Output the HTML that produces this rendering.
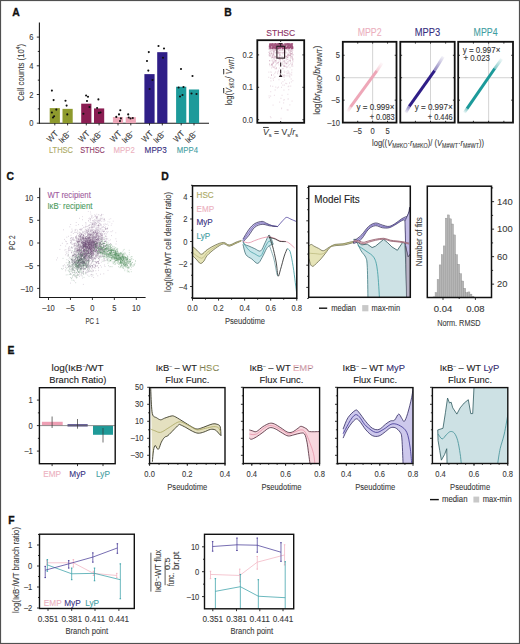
<!DOCTYPE html><html><head><meta charset="utf-8"><style>html,body{margin:0;padding:0;background:#fff;width:520px;height:644px;overflow:hidden}svg text{font-family:"Liberation Sans",sans-serif}</style></head><body><svg width="520" height="644" viewBox="0 0 520 644" style="display:block;font-family:&quot;Liberation Sans&quot;, sans-serif">
<rect x="0" y="0" width="520" height="644" fill="#fff"/>
<text font-size="11.8" text-anchor="start" fill="#111" font-weight="bold" transform="translate(12.20 16.30) scale(0.88 1)" stroke="#111" stroke-width="0.35">A</text>
<line x1="39.40" y1="22.50" x2="39.40" y2="123.70" stroke="#1a1a1a" stroke-width="1.1"/>
<line x1="38.90" y1="123.20" x2="209.00" y2="123.20" stroke="#1a1a1a" stroke-width="1.1"/>
<line x1="36.80" y1="123.20" x2="39.40" y2="123.20" stroke="#1a1a1a" stroke-width="0.9"/>
<text font-size="8.6" text-anchor="end" fill="#3a3a3a" stroke="#3a3a3a" stroke-width="0.1" transform="translate(33.50 126.30) scale(0.88 1)">0</text>
<line x1="37.80" y1="108.85" x2="39.40" y2="108.85" stroke="#1a1a1a" stroke-width="0.9"/>
<line x1="36.80" y1="94.50" x2="39.40" y2="94.50" stroke="#1a1a1a" stroke-width="0.9"/>
<text font-size="8.6" text-anchor="end" fill="#3a3a3a" stroke="#3a3a3a" stroke-width="0.1" transform="translate(33.50 97.60) scale(0.88 1)">2</text>
<line x1="37.80" y1="80.15" x2="39.40" y2="80.15" stroke="#1a1a1a" stroke-width="0.9"/>
<line x1="36.80" y1="65.80" x2="39.40" y2="65.80" stroke="#1a1a1a" stroke-width="0.9"/>
<text font-size="8.6" text-anchor="end" fill="#3a3a3a" stroke="#3a3a3a" stroke-width="0.1" transform="translate(33.50 68.90) scale(0.88 1)">4</text>
<line x1="37.80" y1="51.45" x2="39.40" y2="51.45" stroke="#1a1a1a" stroke-width="0.9"/>
<line x1="36.80" y1="37.10" x2="39.40" y2="37.10" stroke="#1a1a1a" stroke-width="0.9"/>
<text font-size="8.6" text-anchor="end" fill="#3a3a3a" stroke="#3a3a3a" stroke-width="0.1" transform="translate(33.50 40.20) scale(0.88 1)">6</text>
<text font-size="9.24" text-anchor="middle" fill="#3a3a3a" stroke="#3a3a3a" stroke-width="0.1" textLength="57" lengthAdjust="spacingAndGlyphs" transform="translate(23.50 72.50) rotate(-90)">Cell counts (10<tspan font-size="5.5" dy="-3.5">4</tspan><tspan dy="3.5">)</tspan></text>
<rect x="49.70" y="108.13" width="10.20" height="15.07" fill="#8e9a2d" stroke="none" stroke-width="1"/>
<line x1="54.80" y1="123.20" x2="54.80" y2="125.40" stroke="#1a1a1a" stroke-width="0.9"/>
<circle cx="51.9" cy="90.6" r="1.05" fill="#111"/>
<circle cx="53.6" cy="100.1" r="1.05" fill="#111"/>
<circle cx="56.3" cy="109.6" r="1.05" fill="#111"/>
<circle cx="51.9" cy="112.5" r="1.05" fill="#111"/>
<circle cx="54.1" cy="116.2" r="1.05" fill="#111"/>
<circle cx="53" cy="117.5" r="1.05" fill="#111"/>
<rect x="62.50" y="108.85" width="10.20" height="14.35" fill="#8e9a2d" stroke="none" stroke-width="1"/>
<line x1="67.60" y1="123.20" x2="67.60" y2="125.40" stroke="#1a1a1a" stroke-width="0.9"/>
<circle cx="65.5" cy="100.7" r="1.05" fill="#111"/>
<circle cx="66.6" cy="105.6" r="1.05" fill="#111"/>
<circle cx="67.3" cy="114.4" r="1.05" fill="#111"/>
<text font-size="8.6" text-anchor="end" fill="#3a3a3a" stroke="#3a3a3a" stroke-width="0.1" transform="translate(58.80 134.20) rotate(-45) scale(0.9 1)">WT</text>
<text font-size="8.6" text-anchor="end" fill="#3a3a3a" stroke="#3a3a3a" stroke-width="0.1" transform="translate(71.90 134.00) rotate(-45) scale(0.9 1)">I&#954;B<tspan font-size="5.5" dy="-3">&#8211;</tspan></text>
<text font-size="8.7" text-anchor="middle" fill="#aaa862" stroke="#aaa862" stroke-width="0.1" textLength="24" lengthAdjust="spacingAndGlyphs" transform="translate(61.00 153.30)">LTHSC</text>
<rect x="81.20" y="103.68" width="10.20" height="19.52" fill="#8a1d52" stroke="none" stroke-width="1"/>
<line x1="86.30" y1="123.20" x2="86.30" y2="125.40" stroke="#1a1a1a" stroke-width="0.9"/>
<circle cx="86.1" cy="95.5" r="1.05" fill="#111"/>
<circle cx="88" cy="96.8" r="1.05" fill="#111"/>
<circle cx="87" cy="101" r="1.05" fill="#111"/>
<circle cx="83.4" cy="113.8" r="1.05" fill="#111"/>
<circle cx="89.5" cy="107" r="1.05" fill="#111"/>
<rect x="94.00" y="108.42" width="10.20" height="14.78" fill="#8a1d52" stroke="none" stroke-width="1"/>
<line x1="99.10" y1="123.20" x2="99.10" y2="125.40" stroke="#1a1a1a" stroke-width="0.9"/>
<circle cx="98.4" cy="99.4" r="1.05" fill="#111"/>
<circle cx="97.1" cy="108" r="1.05" fill="#111"/>
<circle cx="98.9" cy="112.9" r="1.05" fill="#111"/>
<circle cx="100.5" cy="112.5" r="1.05" fill="#111"/>
<text font-size="8.6" text-anchor="end" fill="#3a3a3a" stroke="#3a3a3a" stroke-width="0.1" transform="translate(90.30 134.20) rotate(-45) scale(0.9 1)">WT</text>
<text font-size="8.6" text-anchor="end" fill="#3a3a3a" stroke="#3a3a3a" stroke-width="0.1" transform="translate(103.40 134.00) rotate(-45) scale(0.9 1)">I&#954;B<tspan font-size="5.5" dy="-3">&#8211;</tspan></text>
<text font-size="8.7" text-anchor="middle" fill="#8f3a68" stroke="#8f3a68" stroke-width="0.1" textLength="24.7" lengthAdjust="spacingAndGlyphs" transform="translate(92.50 153.30)">STHSC</text>
<rect x="112.90" y="117.03" width="10.20" height="6.17" fill="#eea7b8" stroke="none" stroke-width="1"/>
<line x1="118.00" y1="123.20" x2="118.00" y2="125.40" stroke="#1a1a1a" stroke-width="0.9"/>
<circle cx="120.3" cy="110.2" r="1.05" fill="#111"/>
<circle cx="119" cy="114.4" r="1.05" fill="#111"/>
<circle cx="116.3" cy="116.9" r="1.05" fill="#111"/>
<circle cx="120.9" cy="118.4" r="1.05" fill="#111"/>
<circle cx="120" cy="121.1" r="1.05" fill="#111"/>
<rect x="125.70" y="117.17" width="10.20" height="6.03" fill="#eea7b8" stroke="none" stroke-width="1"/>
<line x1="130.80" y1="123.20" x2="130.80" y2="125.40" stroke="#1a1a1a" stroke-width="0.9"/>
<circle cx="128.2" cy="114.4" r="1.05" fill="#111"/>
<circle cx="128.7" cy="117.5" r="1.05" fill="#111"/>
<circle cx="132.8" cy="118" r="1.05" fill="#111"/>
<circle cx="130.5" cy="118.5" r="1.05" fill="#111"/>
<text font-size="8.6" text-anchor="end" fill="#3a3a3a" stroke="#3a3a3a" stroke-width="0.1" transform="translate(122.00 134.20) rotate(-45) scale(0.9 1)">WT</text>
<text font-size="8.6" text-anchor="end" fill="#3a3a3a" stroke="#3a3a3a" stroke-width="0.1" transform="translate(135.10 134.00) rotate(-45) scale(0.9 1)">I&#954;B<tspan font-size="5.5" dy="-3">&#8211;</tspan></text>
<text font-size="8.7" text-anchor="middle" fill="#ecb0be" stroke="#ecb0be" stroke-width="0.1" textLength="21.3" lengthAdjust="spacingAndGlyphs" transform="translate(124.20 153.30)">MPP2</text>
<rect x="144.40" y="74.12" width="10.20" height="49.08" fill="#2f1e87" stroke="none" stroke-width="1"/>
<line x1="149.50" y1="123.20" x2="149.50" y2="125.40" stroke="#1a1a1a" stroke-width="0.9"/>
<circle cx="148.8" cy="52.1" r="1.05" fill="#111"/>
<circle cx="147" cy="61" r="1.05" fill="#111"/>
<circle cx="148.3" cy="70.6" r="1.05" fill="#111"/>
<circle cx="152.5" cy="80" r="1.05" fill="#111"/>
<circle cx="149.6" cy="89" r="1.05" fill="#111"/>
<rect x="157.20" y="52.17" width="10.20" height="71.03" fill="#2f1e87" stroke="none" stroke-width="1"/>
<line x1="162.30" y1="123.20" x2="162.30" y2="125.40" stroke="#1a1a1a" stroke-width="0.9"/>
<circle cx="158.5" cy="46" r="1.05" fill="#111"/>
<circle cx="164" cy="48.5" r="1.05" fill="#111"/>
<circle cx="163" cy="57.7" r="1.05" fill="#111"/>
<text font-size="8.6" text-anchor="end" fill="#3a3a3a" stroke="#3a3a3a" stroke-width="0.1" transform="translate(153.50 134.20) rotate(-45) scale(0.9 1)">WT</text>
<text font-size="8.6" text-anchor="end" fill="#3a3a3a" stroke="#3a3a3a" stroke-width="0.1" transform="translate(166.60 134.00) rotate(-45) scale(0.9 1)">I&#954;B<tspan font-size="5.5" dy="-3">&#8211;</tspan></text>
<text font-size="8.7" text-anchor="middle" fill="#352e80" stroke="#352e80" stroke-width="0.1" textLength="22.2" lengthAdjust="spacingAndGlyphs" transform="translate(155.70 153.30)">MPP3</text>
<rect x="176.10" y="86.75" width="10.20" height="36.45" fill="#1c9a9a" stroke="none" stroke-width="1"/>
<line x1="181.20" y1="123.20" x2="181.20" y2="125.40" stroke="#1a1a1a" stroke-width="0.9"/>
<circle cx="181" cy="69" r="1.05" fill="#111"/>
<circle cx="178.6" cy="87.5" r="1.05" fill="#111"/>
<circle cx="183.5" cy="87" r="1.05" fill="#111"/>
<circle cx="180" cy="96.5" r="1.05" fill="#111"/>
<circle cx="182.5" cy="95" r="1.05" fill="#111"/>
<rect x="188.90" y="89.48" width="10.20" height="33.72" fill="#1c9a9a" stroke="none" stroke-width="1"/>
<line x1="194.00" y1="123.20" x2="194.00" y2="125.40" stroke="#1a1a1a" stroke-width="0.9"/>
<circle cx="192.5" cy="76" r="1.05" fill="#111"/>
<circle cx="191.5" cy="93.5" r="1.05" fill="#111"/>
<circle cx="196.5" cy="94" r="1.05" fill="#111"/>
<text font-size="8.6" text-anchor="end" fill="#3a3a3a" stroke="#3a3a3a" stroke-width="0.1" transform="translate(185.20 134.20) rotate(-45) scale(0.9 1)">WT</text>
<text font-size="8.6" text-anchor="end" fill="#3a3a3a" stroke="#3a3a3a" stroke-width="0.1" transform="translate(198.30 134.00) rotate(-45) scale(0.9 1)">I&#954;B<tspan font-size="5.5" dy="-3">&#8211;</tspan></text>
<text font-size="8.7" text-anchor="middle" fill="#3f9ea2" stroke="#3f9ea2" stroke-width="0.1" textLength="21.1" lengthAdjust="spacingAndGlyphs" transform="translate(187.40 153.30)">MPP4</text>
<text font-size="11.8" text-anchor="start" fill="#111" font-weight="bold" transform="translate(224.20 16.10) scale(0.88 1)" stroke="#111" stroke-width="0.35">B</text>
<text font-size="9.68" text-anchor="middle" fill="#8a2f62" stroke="#8a2f62" stroke-width="0.1" textLength="29" lengthAdjust="spacingAndGlyphs" transform="translate(280.70 35.60)">STHSC</text>
<path d="M289.1 75.8h.9M274.6 76.9h.9M278.9 68.1h.9M281.1 83.1h.9M284.1 58.2h.9M290.0 56.9h.9M274.5 52.3h.9M286.6 57.4h.9M286.7 109.9h.9M290.0 59.9h.9M274.0 60.0h.9M283.8 99.6h.9M284.6 75.6h.9M289.0 64.7h.9M289.4 75.9h.9M286.1 63.5h.9M275.7 68.9h.9M283.6 56.8h.9M290.8 53.6h.9M268.7 55.1h.9M291.2 54.3h.9M271.5 60.5h.9M269.0 52.6h.9M283.8 75.6h.9M286.4 75.9h.9M282.8 53.4h.9M288.4 61.0h.9M290.3 86.2h.9M289.7 53.4h.9M291.6 101.2h.9M273.1 54.3h.9M268.9 54.4h.9M288.3 89.6h.9M288.6 72.1h.9M275.2 72.0h.9M270.4 54.1h.9M273.1 80.3h.9M278.6 59.7h.9M274.4 52.4h.9M285.9 58.6h.9M276.0 61.2h.9M280.6 118.5h.9M283.5 90.1h.9M278.3 52.6h.9M287.3 63.5h.9M285.6 60.5h.9M273.4 67.4h.9M270.3 91.6h.9M272.3 86.3h.9M273.1 52.0h.9M292.4 80.7h.9M280.3 52.1h.9M287.9 65.5h.9M280.4 56.1h.9M288.8 60.5h.9M291.6 58.0h.9M273.4 58.7h.9M280.5 76.0h.9M283.9 54.3h.9M287.7 53.7h.9M287.7 75.9h.9M276.9 71.8h.9M277.9 62.3h.9M270.2 96.2h.9M268.6 95.9h.9M274.6 56.6h.9M280.5 98.3h.9M290.1 61.5h.9M279.5 57.3h.9M286.9 67.2h.9M284.2 80.0h.9M276.2 60.6h.9M289.1 55.4h.9M286.5 73.7h.9M279.0 55.7h.9M282.5 81.7h.9M279.6 54.7h.9M273.9 95.3h.9M275.5 56.3h.9M289.1 76.3h.9M271.9 55.4h.9M276.2 57.7h.9M272.0 66.8h.9M272.7 60.0h.9M270.5 78.1h.9M270.5 117.6h.9M292.6 61.7h.9M286.3 83.7h.9M272.9 63.4h.9M270.7 72.3h.9M277.7 56.6h.9M278.0 52.7h.9M285.3 83.3h.9M283.8 65.9h.9M271.5 64.4h.9M278.1 70.5h.9M290.7 79.0h.9M282.3 63.2h.9M278.5 79.7h.9M286.1 57.2h.9M287.4 94.4h.9M289.3 76.1h.9M284.0 74.8h.9M275.8 64.1h.9M270.4 71.8h.9M287.6 62.9h.9M283.7 77.0h.9M278.6 57.8h.9M283.5 64.1h.9M284.9 62.5h.9M272.6 105.2h.9M287.5 73.3h.9M280.2 61.8h.9M281.6 52.8h.9M287.5 55.5h.9M281.0 108.5h.9M282.4 54.1h.9M285.9 67.6h.9M284.0 66.4h.9M281.0 87.3h.9M291.7 62.6h.9M285.1 56.7h.9M287.1 62.0h.9M292.6 54.6h.9M269.4 60.8h.9M278.0 58.4h.9M278.5 52.3h.9M285.5 62.9h.9M274.6 60.7h.9M286.5 57.1h.9M281.2 108.2h.9M288.0 56.9h.9M273.3 62.0h.9M287.4 54.8h.9M283.9 85.2h.9M282.1 64.7h.9M292.1 57.1h.9M284.0 60.7h.9M288.4 86.2h.9M275.4 64.6h.9M271.1 67.9h.9M276.9 87.9h.9M274.7 90.0h.9M274.3 61.4h.9M272.6 63.1h.9M286.0 52.1h.9M274.1 58.6h.9M280.0 59.2h.9M283.9 63.2h.9M277.1 73.5h.9M289.4 104.8h.9M288.7 53.2h.9M287.6 99.2h.9M288.8 55.0h.9M268.4 72.1h.9M291.8 52.2h.9M274.3 73.3h.9M271.6 54.1h.9M287.4 57.3h.9M271.8 60.5h.9M287.8 98.9h.9M290.3 55.7h.9M287.5 70.7h.9M290.3 74.1h.9M289.0 83.0h.9M285.3 56.4h.9M286.5 67.1h.9M290.1 63.5h.9M274.6 68.2h.9M271.5 57.3h.9M269.5 65.6h.9M271.6 64.6h.9M280.5 65.5h.9M289.6 67.5h.9M289.0 52.1h.9M282.1 64.6h.9M289.0 73.9h.9M278.5 61.4h.9M269.9 116.7h.9M283.9 72.3h.9M283.2 52.6h.9M291.3 75.0h.9M292.5 60.0h.9M280.1 66.3h.9M268.8 97.6h.9M283.6 77.3h.9M289.5 60.3h.9M279.9 61.1h.9M287.3 66.9h.9M278.9 56.7h.9M281.9 63.0h.9M275.3 87.1h.9M278.1 87.2h.9M274.8 66.0h.9M292.4 66.1h.9M287.8 73.3h.9M275.9 60.0h.9M282.7 59.1h.9M287.6 72.1h.9M286.1 52.8h.9M281.6 95.4h.9M275.5 53.0h.9M272.7 52.1h.9M283.2 102.9h.9M287.7 73.5h.9M283.3 100.1h.9M283.7 71.2h.9M282.9 75.8h.9M273.3 74.8h.9M279.4 74.0h.9M270.5 80.8h.9M268.9 56.0h.9M290.9 81.8h.9M277.2 73.3h.9M287.7 86.6h.9M274.5 68.5h.9M278.5 59.2h.9M278.8 59.7h.9M291.3 72.5h.9M282.2 53.1h.9M271.0 52.8h.9M282.4 85.2h.9M279.2 102.2h.9M277.7 52.3h.9M291.4 69.9h.9M278.3 64.9h.9M284.1 54.2h.9M271.8 56.8h.9M268.1 52.3h.9M271.0 75.0h.9M289.7 53.8h.9M268.4 54.8h.9M274.1 77.4h.9M272.7 78.5h.9M287.4 53.0h.9M289.4 77.0h.9M270.1 78.2h.9M285.7 71.8h.9M291.3 64.3h.9M292.1 57.9h.9M268.3 77.3h.9M284.3 52.3h.9M270.0 86.0h.9M286.2 59.5h.9M289.5 55.6h.9M269.5 65.3h.9M282.4 61.2h.9M284.9 63.6h.9M287.9 55.1h.9M284.1 61.0h.9M278.4 71.9h.9M287.7 61.7h.9M287.6 110.0h.9M275.3 68.7h.9" stroke="#8a2a5c" stroke-opacity="0.16" stroke-width="1.3" fill="none"/>
<path d="M279.6 49.2h.9M284.0 66.2h.9M279.9 59.9h.9M274.4 48.6h.9M285.4 66.4h.9M269.0 49.2h.9M284.7 51.1h.9M274.7 50.3h.9M290.7 53.6h.9M269.3 48.5h.9M278.6 49.5h.9M273.3 53.9h.9M286.2 56.6h.9M273.4 51.2h.9M276.0 68.0h.9M274.0 57.3h.9M286.8 48.5h.9M291.3 49.1h.9M273.0 51.1h.9M278.5 48.5h.9M291.3 53.6h.9M277.9 47.9h.9M291.9 48.4h.9M269.7 47.9h.9M277.9 47.4h.9M289.7 60.7h.9M292.4 54.9h.9M276.4 63.1h.9M291.0 48.2h.9M269.3 55.2h.9M277.6 53.6h.9M276.5 49.8h.9M268.6 48.1h.9M276.9 49.0h.9M271.5 65.7h.9M273.5 67.0h.9M288.2 49.6h.9M278.9 57.4h.9M279.9 47.3h.9M290.6 49.8h.9M277.2 48.3h.9M269.2 60.6h.9M288.0 50.2h.9M269.5 55.7h.9M270.0 47.2h.9M274.7 62.2h.9M290.1 55.3h.9M275.0 49.5h.9M283.3 66.0h.9M285.7 48.8h.9M275.1 49.3h.9M286.6 47.0h.9M283.7 61.9h.9M269.1 64.2h.9M279.9 48.6h.9M291.4 65.8h.9M274.5 49.9h.9M280.3 50.4h.9M272.9 62.8h.9M286.2 56.7h.9M287.0 57.4h.9M276.4 52.6h.9M277.2 49.3h.9M270.4 56.1h.9M286.6 48.3h.9M270.1 48.7h.9M281.8 47.2h.9M292.0 49.4h.9M292.2 59.9h.9M270.5 48.8h.9M280.5 47.6h.9M279.2 54.4h.9M278.5 48.6h.9M284.7 52.8h.9M288.8 55.3h.9M271.4 53.6h.9M275.6 58.0h.9M277.5 52.0h.9M273.3 55.0h.9M274.4 48.7h.9M289.7 48.0h.9M276.3 52.2h.9M292.3 50.0h.9M274.1 51.2h.9M284.2 56.9h.9M271.0 75.2h.9M288.2 50.9h.9M290.4 58.0h.9M275.5 47.2h.9M273.0 47.8h.9M282.5 68.7h.9M277.4 63.0h.9M279.3 59.1h.9M287.2 48.8h.9M271.0 64.5h.9M283.4 52.4h.9M277.3 48.5h.9M273.4 47.9h.9M282.9 48.8h.9M273.4 53.3h.9M276.4 47.1h.9M272.9 53.8h.9M273.4 49.2h.9M281.7 56.5h.9M270.9 47.4h.9M281.7 50.0h.9M270.7 53.1h.9M285.2 48.1h.9M275.3 50.2h.9M291.4 49.2h.9M282.1 49.2h.9M278.5 49.7h.9M292.4 59.0h.9M273.2 49.7h.9M273.4 54.8h.9M290.1 47.0h.9M288.2 50.3h.9M289.7 50.1h.9M272.4 50.7h.9M281.7 47.1h.9M290.3 53.1h.9M283.4 47.6h.9M280.6 49.8h.9M275.3 47.9h.9M290.7 51.4h.9M280.3 47.7h.9M291.7 56.8h.9M271.5 48.3h.9M291.9 64.2h.9M269.8 51.0h.9M277.8 62.6h.9M283.4 61.1h.9M272.3 57.4h.9M273.8 56.2h.9M288.8 50.1h.9M272.9 57.6h.9M278.1 48.5h.9M277.7 51.4h.9M274.4 47.8h.9M290.0 54.7h.9M282.0 47.3h.9M269.4 55.5h.9M271.3 57.9h.9M281.7 52.5h.9M275.8 52.9h.9M282.5 50.3h.9M284.3 50.3h.9M279.0 50.6h.9M283.4 47.1h.9M274.1 51.0h.9M287.2 55.7h.9M272.8 50.7h.9M271.1 50.8h.9M278.8 47.8h.9M279.1 47.6h.9M269.5 51.3h.9M270.5 53.1h.9M287.2 54.9h.9M269.8 51.3h.9M277.6 51.2h.9M271.8 65.1h.9M292.4 58.7h.9M288.1 54.9h.9M292.1 48.3h.9M291.5 51.1h.9M272.5 61.9h.9M290.8 56.3h.9M276.9 47.4h.9M272.3 55.5h.9M275.1 60.6h.9M271.9 57.1h.9M290.6 51.2h.9M274.8 48.4h.9M276.2 51.2h.9M272.9 47.2h.9M291.0 48.1h.9M290.0 53.8h.9M287.3 48.1h.9M281.2 47.7h.9M277.1 53.1h.9M281.8 59.4h.9M289.7 52.2h.9M292.3 47.7h.9M278.0 53.0h.9M274.9 56.6h.9M282.4 74.9h.9M286.9 49.7h.9M272.7 50.5h.9M269.7 55.2h.9M274.6 57.3h.9M292.1 53.1h.9M284.4 52.3h.9M268.5 49.2h.9M272.1 47.2h.9M278.9 52.7h.9M290.0 51.3h.9M274.0 47.8h.9M269.0 53.4h.9M277.0 47.0h.9M277.1 47.7h.9M282.5 48.5h.9M273.4 52.3h.9M279.9 52.9h.9M291.0 47.9h.9M272.1 48.7h.9M283.8 47.6h.9M287.3 59.3h.9M274.8 50.1h.9M284.0 47.1h.9M276.9 52.0h.9M279.2 53.2h.9M286.1 63.6h.9M290.2 48.7h.9M281.3 47.3h.9M274.2 50.1h.9M287.2 47.4h.9M281.7 47.1h.9M271.9 64.0h.9M283.1 48.3h.9M283.9 51.2h.9M272.7 57.1h.9M275.7 49.2h.9M289.8 47.3h.9M285.7 56.2h.9M288.8 47.0h.9M279.7 55.2h.9M279.4 55.1h.9M271.0 48.5h.9M269.4 48.6h.9M286.5 49.5h.9" stroke="#8a2a5c" stroke-opacity="0.28" stroke-width="1.3" fill="none"/>
<path d="M272.4 45.2h.9M270.5 46.9h.9M277.5 46.3h.9M280.9 43.9h.9M279.1 43.8h.9M271.0 43.9h.9M288.5 45.7h.9M274.1 44.2h.9M291.4 46.7h.9M278.2 46.5h.9M269.9 48.5h.9M275.7 47.9h.9M271.6 44.3h.9M288.2 45.1h.9M282.6 44.5h.9M277.7 46.8h.9M270.3 46.3h.9M273.7 43.9h.9M279.0 47.0h.9M282.7 45.2h.9M275.9 45.9h.9M285.4 47.6h.9M282.5 44.8h.9M289.6 46.2h.9M275.7 47.2h.9M271.6 48.5h.9M286.8 45.7h.9M280.4 44.4h.9M284.7 43.8h.9M282.4 47.4h.9M276.3 48.0h.9M282.9 47.1h.9M279.7 46.5h.9M291.3 47.8h.9M284.6 46.0h.9M285.5 43.9h.9M292.4 46.8h.9M275.6 47.7h.9M284.7 45.5h.9M279.8 43.7h.9M271.6 44.4h.9M287.1 43.9h.9M274.7 44.2h.9M289.5 45.6h.9M279.5 44.0h.9M289.8 46.3h.9M289.4 47.7h.9M278.7 45.0h.9M289.8 45.4h.9M272.4 48.4h.9M274.3 44.5h.9M280.3 44.8h.9M275.1 46.5h.9M278.8 43.6h.9M282.3 45.4h.9M285.2 48.4h.9M283.5 46.2h.9M270.1 47.0h.9M287.4 48.1h.9M287.8 48.0h.9M278.3 45.6h.9M283.9 44.1h.9M270.4 43.9h.9M272.7 44.6h.9M270.1 45.3h.9M272.4 43.6h.9M277.5 44.1h.9M289.6 43.7h.9M272.3 46.7h.9M277.1 44.9h.9M271.7 45.4h.9M292.4 47.8h.9M280.3 45.9h.9M271.2 44.0h.9M275.1 45.3h.9M272.6 47.7h.9M291.4 43.7h.9M272.3 46.2h.9M269.4 46.3h.9M292.1 46.2h.9M285.4 47.9h.9M277.5 44.9h.9M287.2 44.4h.9M287.3 46.3h.9M274.1 45.2h.9M292.2 47.7h.9M288.0 47.9h.9M286.4 47.7h.9M281.1 44.7h.9M269.5 45.4h.9M275.5 43.7h.9M285.3 44.9h.9M279.4 48.4h.9M292.3 48.3h.9M277.5 48.4h.9M274.2 44.7h.9M273.7 44.6h.9M290.2 46.7h.9M280.2 47.8h.9M287.8 46.9h.9M284.5 44.0h.9M287.4 48.1h.9M280.2 47.4h.9M287.6 44.5h.9M287.9 45.3h.9M278.2 48.5h.9M291.3 45.6h.9M272.8 47.2h.9M272.4 44.2h.9M288.0 48.1h.9M288.5 44.3h.9M284.4 48.5h.9M281.9 45.4h.9M269.1 44.3h.9M284.3 48.5h.9M291.0 46.2h.9M289.5 45.8h.9M273.8 47.7h.9M275.8 44.9h.9M282.8 44.8h.9M278.8 44.9h.9M290.5 44.3h.9M279.7 45.4h.9M290.3 46.5h.9M290.6 45.7h.9M281.5 46.1h.9M269.2 46.2h.9M273.2 45.8h.9M287.8 43.6h.9M280.1 44.5h.9M282.0 47.2h.9M281.1 45.2h.9M287.5 46.4h.9M282.1 44.1h.9M275.4 44.8h.9M280.9 47.5h.9M286.9 46.4h.9M279.3 48.2h.9M280.8 46.7h.9M285.3 46.2h.9M281.5 45.9h.9M291.2 46.0h.9M289.7 47.1h.9M275.0 48.3h.9M291.2 46.4h.9M272.1 47.8h.9M279.3 44.2h.9M274.5 44.0h.9M284.7 44.0h.9M290.1 47.5h.9M285.8 44.4h.9M272.2 46.9h.9M291.8 48.0h.9M291.5 44.7h.9M280.4 45.6h.9M288.6 48.5h.9M279.1 44.4h.9M276.9 46.2h.9M276.4 44.6h.9M269.3 47.2h.9M279.3 46.4h.9M276.7 43.7h.9M281.0 46.7h.9M292.2 43.9h.9M291.9 47.5h.9M275.1 44.1h.9M287.3 43.8h.9M271.9 45.0h.9M290.5 45.7h.9M275.0 47.7h.9M290.7 44.3h.9M285.5 46.5h.9M270.2 44.0h.9M278.9 47.0h.9M291.1 44.0h.9M287.9 46.8h.9M289.2 44.0h.9M289.3 43.9h.9M276.9 45.9h.9M290.9 46.4h.9M271.9 44.9h.9M274.5 46.2h.9M272.6 44.1h.9M273.6 43.9h.9M276.1 45.2h.9M275.7 47.4h.9M273.0 46.1h.9M269.2 45.3h.9M269.2 44.9h.9M281.9 47.3h.9M280.1 44.5h.9M271.3 48.3h.9M279.1 47.7h.9M288.7 46.1h.9M280.9 45.6h.9M292.2 47.0h.9M288.6 45.3h.9M283.9 47.1h.9M277.1 45.6h.9M271.9 43.9h.9M286.4 44.0h.9M272.7 44.9h.9M288.8 44.0h.9M284.8 48.0h.9M274.6 45.0h.9M279.7 45.1h.9M279.4 44.4h.9M291.7 44.9h.9M281.8 48.5h.9M291.8 44.8h.9M277.3 45.1h.9M277.9 43.6h.9M280.8 46.0h.9M280.8 44.6h.9M275.1 43.6h.9M278.3 44.0h.9M269.3 43.8h.9M274.3 45.1h.9M281.4 46.5h.9M284.4 47.4h.9M289.7 47.2h.9M276.6 45.5h.9M272.4 48.5h.9M284.1 47.2h.9M288.7 43.8h.9M283.7 48.1h.9M288.1 47.3h.9M281.3 44.3h.9M288.7 46.1h.9M288.5 47.6h.9M290.0 46.5h.9M285.3 47.0h.9M269.5 44.7h.9M277.4 44.3h.9M288.7 44.1h.9M283.7 46.4h.9M285.0 46.7h.9M268.9 46.0h.9M286.6 47.6h.9M281.5 46.1h.9M270.4 46.9h.9M274.8 47.3h.9M275.1 44.0h.9M273.7 47.2h.9M292.0 47.3h.9M277.9 46.1h.9M285.1 46.0h.9M283.5 47.4h.9M270.6 46.8h.9M274.8 44.3h.9M276.0 47.3h.9M269.1 46.4h.9M275.2 43.9h.9M285.3 47.0h.9M275.7 47.0h.9M279.9 46.2h.9M271.6 45.9h.9M273.5 48.1h.9M291.1 48.5h.9M279.7 43.7h.9M291.8 47.7h.9M275.2 45.8h.9M291.3 44.6h.9M282.6 44.7h.9M281.3 44.3h.9M272.0 48.4h.9M280.9 47.7h.9M285.5 48.0h.9M290.2 44.8h.9M269.4 46.0h.9M280.5 43.6h.9M276.0 45.9h.9M277.0 44.3h.9M288.8 45.2h.9M286.7 43.6h.9M271.7 47.8h.9M285.8 48.2h.9M275.7 48.1h.9M278.2 45.5h.9M282.8 48.6h.9M279.0 45.4h.9M269.9 45.0h.9M288.7 44.1h.9M291.1 45.0h.9M275.1 44.8h.9M273.3 46.2h.9M291.6 45.5h.9M288.1 48.0h.9M290.5 46.8h.9M281.9 48.3h.9M270.0 47.2h.9M279.5 47.3h.9M284.1 47.4h.9M270.0 45.0h.9M271.8 48.2h.9M277.0 46.0h.9M286.4 45.1h.9M275.0 48.5h.9M276.0 46.9h.9M278.2 46.4h.9M272.6 44.4h.9M290.4 44.6h.9M274.0 46.1h.9M292.5 48.1h.9M272.1 45.8h.9M271.0 44.6h.9M271.0 45.3h.9M274.9 44.8h.9M289.9 46.4h.9M278.6 47.3h.9M281.3 45.7h.9M276.8 45.5h.9M275.4 43.9h.9M271.8 48.4h.9M283.8 46.1h.9M273.9 47.9h.9M274.7 45.0h.9M279.4 45.6h.9M289.0 48.4h.9M269.3 48.0h.9M285.7 43.8h.9M280.1 48.1h.9M268.8 46.5h.9M290.9 45.6h.9M289.2 47.7h.9M274.7 48.5h.9M272.5 44.1h.9M285.0 46.2h.9M286.0 48.3h.9M287.0 46.8h.9M281.9 45.9h.9M287.4 43.8h.9M290.7 44.8h.9M276.0 46.8h.9M274.8 44.2h.9M285.4 46.8h.9M270.5 44.2h.9M282.7 46.2h.9M274.1 45.5h.9M269.0 46.6h.9" stroke="#8a2a5c" stroke-opacity="0.8" stroke-width="1.3" fill="none"/>
<rect x="276.90" y="46.30" width="7.70" height="11.80" fill="none" stroke="#2a1a22" stroke-width="1.15"/>
<line x1="280.65" y1="43.60" x2="280.65" y2="46.30" stroke="#2a1a22" stroke-width="1"/>
<line x1="278.80" y1="43.60" x2="282.50" y2="43.60" stroke="#2a1a22" stroke-width="1"/>
<line x1="280.65" y1="62.5" x2="280.65" y2="74" stroke="#2a1a22" stroke-width="1.1" stroke-dasharray="4,3"/>
<path d="M278.8,77 L282.5,77 L280.65,74 Z" fill="#2a1a22"/>
<rect x="257.30" y="40.20" width="46.90" height="82.60" fill="none" stroke="#111" stroke-width="1.8"/>
<line x1="257.30" y1="119.70" x2="259.10" y2="119.70" stroke="#1a1a1a" stroke-width="0.9"/>
<line x1="302.40" y1="119.70" x2="304.20" y2="119.70" stroke="#1a1a1a" stroke-width="0.9"/>
<text font-size="8.6" text-anchor="end" fill="#3a3a3a" stroke="#3a3a3a" stroke-width="0.1" transform="translate(253.00 122.80) scale(0.88 1)">0.0</text>
<line x1="257.30" y1="87.30" x2="259.10" y2="87.30" stroke="#1a1a1a" stroke-width="0.9"/>
<line x1="302.40" y1="87.30" x2="304.20" y2="87.30" stroke="#1a1a1a" stroke-width="0.9"/>
<text font-size="8.6" text-anchor="end" fill="#3a3a3a" stroke="#3a3a3a" stroke-width="0.1" transform="translate(253.00 90.40) scale(0.88 1)">0.1</text>
<line x1="257.30" y1="54.90" x2="259.10" y2="54.90" stroke="#1a1a1a" stroke-width="0.9"/>
<line x1="302.40" y1="54.90" x2="304.20" y2="54.90" stroke="#1a1a1a" stroke-width="0.9"/>
<text font-size="8.6" text-anchor="end" fill="#3a3a3a" stroke="#3a3a3a" stroke-width="0.1" transform="translate(253.00 58.00) scale(0.88 1)">0.2</text>
<line x1="280.65" y1="40.20" x2="280.65" y2="42.00" stroke="#1a1a1a" stroke-width="0.9"/>
<line x1="280.65" y1="121.00" x2="280.65" y2="122.80" stroke="#1a1a1a" stroke-width="0.9"/>
<text font-size="9.46" text-anchor="middle" fill="#3a3a3a" stroke="#3a3a3a" stroke-width="0.1" textLength="49" lengthAdjust="spacingAndGlyphs" transform="translate(232.20 81.00) rotate(-90)">log(<tspan text-decoration="overline" font-style="italic">V</tspan><tspan font-size="6.4" dy="2">sKO</tspan><tspan dy="-2">/ </tspan><tspan text-decoration="overline" font-style="italic">V</tspan><tspan font-size="6.4" dy="2">sWT</tspan><tspan dy="-2">)</tspan></text>
<text font-size="9.24" text-anchor="middle" fill="#3a3a3a" stroke="#3a3a3a" stroke-width="0.1" textLength="35" lengthAdjust="spacingAndGlyphs" transform="translate(280.50 135.00)"><tspan text-decoration="overline" font-style="italic">V</tspan><tspan font-size="6" dy="2">s</tspan><tspan dy="-2"> = V</tspan><tspan font-size="6" dy="2">s</tspan><tspan dy="-2">/</tspan><tspan font-style="italic">r</tspan><tspan font-size="6" dy="2">s</tspan></text>
<text font-size="10.56" text-anchor="middle" fill="#ecb0be" stroke="#ecb0be" stroke-width="0.1" textLength="24" lengthAdjust="spacingAndGlyphs" transform="translate(369.65 35.60)">MPP2</text>
<line x1="372.63" y1="41.80" x2="372.63" y2="122.60" stroke="#c8c8c8" stroke-width="0.8"/>
<line x1="342.80" y1="77.71" x2="396.50" y2="77.71" stroke="#c8c8c8" stroke-width="0.8"/>
<linearGradient id="gMPP2a" gradientUnits="userSpaceOnUse" x1="376.81" y1="70.98" x2="382.18" y2="62.90"><stop offset="0" stop-color="#eea7b8" stop-opacity="0.55"/><stop offset="1" stop-color="#eea7b8" stop-opacity="0.05"/></linearGradient>
<linearGradient id="gMPP2b" gradientUnits="userSpaceOnUse" x1="350.56" y1="106.89" x2="347.57" y2="111.83"><stop offset="0" stop-color="#eea7b8" stop-opacity="0.55"/><stop offset="1" stop-color="#eea7b8" stop-opacity="0.05"/></linearGradient>
<line x1="376.81" y1="70.98" x2="382.18" y2="62.90" stroke="url(#gMPP2a)" stroke-width="3"/>
<line x1="350.56" y1="106.89" x2="347.57" y2="111.83" stroke="url(#gMPP2b)" stroke-width="3"/>
<line x1="350.56" y1="106.89" x2="376.81" y2="70.98" stroke="#eea7b8" stroke-width="3"/>
<rect x="342.80" y="41.80" width="53.70" height="80.80" fill="none" stroke="#111" stroke-width="1.8"/>
<line x1="357.72" y1="41.80" x2="357.72" y2="43.60" stroke="#1a1a1a" stroke-width="0.9"/>
<line x1="357.72" y1="120.80" x2="357.72" y2="122.60" stroke="#1a1a1a" stroke-width="0.9"/>
<line x1="342.80" y1="100.16" x2="344.60" y2="100.16" stroke="#1a1a1a" stroke-width="0.9"/>
<line x1="394.70" y1="100.16" x2="396.50" y2="100.16" stroke="#1a1a1a" stroke-width="0.9"/>
<line x1="372.63" y1="41.80" x2="372.63" y2="43.60" stroke="#1a1a1a" stroke-width="0.9"/>
<line x1="372.63" y1="120.80" x2="372.63" y2="122.60" stroke="#1a1a1a" stroke-width="0.9"/>
<line x1="342.80" y1="77.71" x2="344.60" y2="77.71" stroke="#1a1a1a" stroke-width="0.9"/>
<line x1="394.70" y1="77.71" x2="396.50" y2="77.71" stroke="#1a1a1a" stroke-width="0.9"/>
<line x1="387.55" y1="41.80" x2="387.55" y2="43.60" stroke="#1a1a1a" stroke-width="0.9"/>
<line x1="387.55" y1="120.80" x2="387.55" y2="122.60" stroke="#1a1a1a" stroke-width="0.9"/>
<line x1="342.80" y1="55.27" x2="344.60" y2="55.27" stroke="#1a1a1a" stroke-width="0.9"/>
<line x1="394.70" y1="55.27" x2="396.50" y2="55.27" stroke="#1a1a1a" stroke-width="0.9"/>
<text font-size="9.24" text-anchor="end" fill="#333" stroke="#333" stroke-width="0.1" transform="translate(394.50 110.20) scale(0.87 1)">y = 0.999&#215;</text>
<text font-size="8.4" text-anchor="end" fill="#333" stroke="#333" stroke-width="0.1" transform="translate(394.50 119.60) scale(0.88 1)">+ 0.083</text>
<text font-size="10.56" text-anchor="middle" fill="#352e80" stroke="#352e80" stroke-width="0.1" textLength="25.4" lengthAdjust="spacingAndGlyphs" transform="translate(427.50 35.60)">MPP3</text>
<line x1="430.52" y1="41.80" x2="430.52" y2="122.60" stroke="#c8c8c8" stroke-width="0.8"/>
<line x1="400.30" y1="77.71" x2="454.70" y2="77.71" stroke="#c8c8c8" stroke-width="0.8"/>
<linearGradient id="gMPP3a" gradientUnits="userSpaceOnUse" x1="434.60" y1="70.53" x2="443.22" y2="56.61"><stop offset="0" stop-color="#2f1e87" stop-opacity="0.55"/><stop offset="1" stop-color="#2f1e87" stop-opacity="0.05"/></linearGradient>
<linearGradient id="gMPP3b" gradientUnits="userSpaceOnUse" x1="409.22" y1="106.44" x2="405.74" y2="112.72"><stop offset="0" stop-color="#2f1e87" stop-opacity="0.55"/><stop offset="1" stop-color="#2f1e87" stop-opacity="0.05"/></linearGradient>
<line x1="434.60" y1="70.53" x2="443.22" y2="56.61" stroke="url(#gMPP3a)" stroke-width="3"/>
<line x1="409.22" y1="106.44" x2="405.74" y2="112.72" stroke="url(#gMPP3b)" stroke-width="3"/>
<line x1="409.22" y1="106.44" x2="434.60" y2="70.53" stroke="#2f1e87" stroke-width="3"/>
<rect x="400.30" y="41.80" width="54.40" height="80.80" fill="none" stroke="#111" stroke-width="1.8"/>
<line x1="415.41" y1="41.80" x2="415.41" y2="43.60" stroke="#1a1a1a" stroke-width="0.9"/>
<line x1="415.41" y1="120.80" x2="415.41" y2="122.60" stroke="#1a1a1a" stroke-width="0.9"/>
<line x1="400.30" y1="100.16" x2="402.10" y2="100.16" stroke="#1a1a1a" stroke-width="0.9"/>
<line x1="452.90" y1="100.16" x2="454.70" y2="100.16" stroke="#1a1a1a" stroke-width="0.9"/>
<line x1="430.52" y1="41.80" x2="430.52" y2="43.60" stroke="#1a1a1a" stroke-width="0.9"/>
<line x1="430.52" y1="120.80" x2="430.52" y2="122.60" stroke="#1a1a1a" stroke-width="0.9"/>
<line x1="400.30" y1="77.71" x2="402.10" y2="77.71" stroke="#1a1a1a" stroke-width="0.9"/>
<line x1="452.90" y1="77.71" x2="454.70" y2="77.71" stroke="#1a1a1a" stroke-width="0.9"/>
<line x1="445.63" y1="41.80" x2="445.63" y2="43.60" stroke="#1a1a1a" stroke-width="0.9"/>
<line x1="445.63" y1="120.80" x2="445.63" y2="122.60" stroke="#1a1a1a" stroke-width="0.9"/>
<line x1="400.30" y1="55.27" x2="402.10" y2="55.27" stroke="#1a1a1a" stroke-width="0.9"/>
<line x1="452.90" y1="55.27" x2="454.70" y2="55.27" stroke="#1a1a1a" stroke-width="0.9"/>
<text font-size="9.24" text-anchor="end" fill="#333" stroke="#333" stroke-width="0.1" transform="translate(452.70 110.20) scale(0.87 1)">y = 0.997&#215;</text>
<text font-size="8.4" text-anchor="end" fill="#333" stroke="#333" stroke-width="0.1" transform="translate(452.70 119.60) scale(0.88 1)">+ 0.446</text>
<text font-size="10.56" text-anchor="middle" fill="#3f9ea2" stroke="#3f9ea2" stroke-width="0.1" textLength="24" lengthAdjust="spacingAndGlyphs" transform="translate(485.60 35.60)">MPP4</text>
<line x1="488.64" y1="41.80" x2="488.64" y2="122.60" stroke="#c8c8c8" stroke-width="0.8"/>
<line x1="458.20" y1="77.71" x2="513.00" y2="77.71" stroke="#c8c8c8" stroke-width="0.8"/>
<linearGradient id="gMPP4a" gradientUnits="userSpaceOnUse" x1="494.73" y1="68.51" x2="501.74" y2="58.86"><stop offset="0" stop-color="#1c9a9a" stop-opacity="0.55"/><stop offset="1" stop-color="#1c9a9a" stop-opacity="0.05"/></linearGradient>
<linearGradient id="gMPP4b" gradientUnits="userSpaceOnUse" x1="467.03" y1="108.68" x2="464.29" y2="112.72"><stop offset="0" stop-color="#1c9a9a" stop-opacity="0.55"/><stop offset="1" stop-color="#1c9a9a" stop-opacity="0.05"/></linearGradient>
<line x1="494.73" y1="68.51" x2="501.74" y2="58.86" stroke="url(#gMPP4a)" stroke-width="3"/>
<line x1="467.03" y1="108.68" x2="464.29" y2="112.72" stroke="url(#gMPP4b)" stroke-width="3"/>
<line x1="467.03" y1="108.68" x2="494.73" y2="68.51" stroke="#1c9a9a" stroke-width="3"/>
<rect x="458.20" y="41.80" width="54.80" height="80.80" fill="none" stroke="#111" stroke-width="1.8"/>
<line x1="473.42" y1="41.80" x2="473.42" y2="43.60" stroke="#1a1a1a" stroke-width="0.9"/>
<line x1="473.42" y1="120.80" x2="473.42" y2="122.60" stroke="#1a1a1a" stroke-width="0.9"/>
<line x1="458.20" y1="100.16" x2="460.00" y2="100.16" stroke="#1a1a1a" stroke-width="0.9"/>
<line x1="511.20" y1="100.16" x2="513.00" y2="100.16" stroke="#1a1a1a" stroke-width="0.9"/>
<line x1="488.64" y1="41.80" x2="488.64" y2="43.60" stroke="#1a1a1a" stroke-width="0.9"/>
<line x1="488.64" y1="120.80" x2="488.64" y2="122.60" stroke="#1a1a1a" stroke-width="0.9"/>
<line x1="458.20" y1="77.71" x2="460.00" y2="77.71" stroke="#1a1a1a" stroke-width="0.9"/>
<line x1="511.20" y1="77.71" x2="513.00" y2="77.71" stroke="#1a1a1a" stroke-width="0.9"/>
<line x1="503.87" y1="41.80" x2="503.87" y2="43.60" stroke="#1a1a1a" stroke-width="0.9"/>
<line x1="503.87" y1="120.80" x2="503.87" y2="122.60" stroke="#1a1a1a" stroke-width="0.9"/>
<line x1="458.20" y1="55.27" x2="460.00" y2="55.27" stroke="#1a1a1a" stroke-width="0.9"/>
<line x1="511.20" y1="55.27" x2="513.00" y2="55.27" stroke="#1a1a1a" stroke-width="0.9"/>
<text font-size="9.46" text-anchor="start" fill="#333" stroke="#333" stroke-width="0.1" textLength="37.7" lengthAdjust="spacingAndGlyphs" transform="translate(462.70 52.80)">y = 0.997&#215;</text>
<text font-size="8.6" text-anchor="start" fill="#333" stroke="#333" stroke-width="0.1" textLength="26.5" lengthAdjust="spacingAndGlyphs" transform="translate(463.40 60.90)">+ 0.023</text>
<text font-size="8.6" text-anchor="end" fill="#3a3a3a" stroke="#3a3a3a" stroke-width="0.1" transform="translate(340.00 58.37) scale(0.88 1)">5</text>
<text font-size="8.6" text-anchor="end" fill="#3a3a3a" stroke="#3a3a3a" stroke-width="0.1" transform="translate(340.00 80.81) scale(0.88 1)">0</text>
<text font-size="8.6" text-anchor="end" fill="#3a3a3a" stroke="#3a3a3a" stroke-width="0.1" transform="translate(340.00 103.26) scale(0.88 1)">&#8211;5</text>
<text font-size="8.6" text-anchor="end" fill="#3a3a3a" stroke="#3a3a3a" stroke-width="0.1" transform="translate(340.00 125.70) scale(0.88 1)">&#8211;10</text>
<text font-size="8.6" text-anchor="middle" fill="#3a3a3a" stroke="#3a3a3a" stroke-width="0.1" transform="translate(357.72 133.60) scale(0.88 1)">&#8211;5</text>
<text font-size="8.6" text-anchor="middle" fill="#3a3a3a" stroke="#3a3a3a" stroke-width="0.1" transform="translate(372.63 133.60) scale(0.88 1)">0</text>
<text font-size="8.6" text-anchor="middle" fill="#3a3a3a" stroke="#3a3a3a" stroke-width="0.1" transform="translate(387.55 133.60) scale(0.88 1)">5</text>
<text font-size="9.24" text-anchor="middle" fill="#3a3a3a" stroke="#3a3a3a" stroke-width="0.1" textLength="69" lengthAdjust="spacingAndGlyphs" transform="translate(320.30 80.20) rotate(-90)">log(<tspan font-style="italic">br</tspan><tspan font-size="6.6" dy="2">M#KO</tspan><tspan dy="-2">/</tspan><tspan font-style="italic">br</tspan><tspan font-size="6.6" dy="2">M#WT</tspan><tspan dy="-2">)</tspan></text>
<text font-size="9.24" text-anchor="start" fill="#3a3a3a" stroke="#3a3a3a" stroke-width="0.1" textLength="112" lengthAdjust="spacingAndGlyphs" transform="translate(372.00 145.50)">log((<tspan font-style="italic">V</tspan><tspan font-size="6.6" dy="2">M#KO</tspan><tspan dy="-2">&#183;</tspan><tspan font-style="italic">r</tspan><tspan font-size="6.6" dy="2">M#KO</tspan><tspan dy="-2">)/ (</tspan><tspan font-style="italic">V</tspan><tspan font-size="6.6" dy="2">M#WT</tspan><tspan dy="-2">&#183;</tspan><tspan font-style="italic">r</tspan><tspan font-size="6.6" dy="2">M#WT</tspan><tspan dy="-2">))</tspan></text>
<text font-size="11.8" text-anchor="start" fill="#111" font-weight="bold" transform="translate(6.60 180.10) scale(0.88 1)" stroke="#111" stroke-width="0.35">C</text>
<line x1="39.70" y1="187.80" x2="39.70" y2="298.00" stroke="#1a1a1a" stroke-width="1.1"/>
<line x1="39.20" y1="297.50" x2="145.60" y2="297.50" stroke="#1a1a1a" stroke-width="1.1"/>
<line x1="37.20" y1="288.40" x2="39.70" y2="288.40" stroke="#1a1a1a" stroke-width="0.9"/>
<text font-size="8.6" text-anchor="end" fill="#3a3a3a" stroke="#3a3a3a" stroke-width="0.1" transform="translate(33.30 291.50) scale(0.88 1)">&#8211;10</text>
<line x1="48.50" y1="297.50" x2="48.50" y2="300.00" stroke="#1a1a1a" stroke-width="0.9"/>
<text font-size="8.6" text-anchor="middle" fill="#3a3a3a" stroke="#3a3a3a" stroke-width="0.1" transform="translate(48.50 310.60) scale(0.88 1)">&#8211;10</text>
<line x1="37.20" y1="265.70" x2="39.70" y2="265.70" stroke="#1a1a1a" stroke-width="0.9"/>
<text font-size="8.6" text-anchor="end" fill="#3a3a3a" stroke="#3a3a3a" stroke-width="0.1" transform="translate(33.30 268.80) scale(0.88 1)">&#8211;5</text>
<line x1="70.45" y1="297.50" x2="70.45" y2="300.00" stroke="#1a1a1a" stroke-width="0.9"/>
<text font-size="8.6" text-anchor="middle" fill="#3a3a3a" stroke="#3a3a3a" stroke-width="0.1" transform="translate(70.45 310.60) scale(0.88 1)">&#8211;5</text>
<line x1="37.20" y1="243.00" x2="39.70" y2="243.00" stroke="#1a1a1a" stroke-width="0.9"/>
<text font-size="8.6" text-anchor="end" fill="#3a3a3a" stroke="#3a3a3a" stroke-width="0.1" transform="translate(33.30 246.10) scale(0.88 1)">0</text>
<line x1="92.40" y1="297.50" x2="92.40" y2="300.00" stroke="#1a1a1a" stroke-width="0.9"/>
<text font-size="8.6" text-anchor="middle" fill="#3a3a3a" stroke="#3a3a3a" stroke-width="0.1" transform="translate(92.40 310.60) scale(0.88 1)">0</text>
<line x1="37.20" y1="220.30" x2="39.70" y2="220.30" stroke="#1a1a1a" stroke-width="0.9"/>
<text font-size="8.6" text-anchor="end" fill="#3a3a3a" stroke="#3a3a3a" stroke-width="0.1" transform="translate(33.30 223.40) scale(0.88 1)">5</text>
<line x1="114.35" y1="297.50" x2="114.35" y2="300.00" stroke="#1a1a1a" stroke-width="0.9"/>
<text font-size="8.6" text-anchor="middle" fill="#3a3a3a" stroke="#3a3a3a" stroke-width="0.1" transform="translate(114.35 310.60) scale(0.88 1)">5</text>
<line x1="37.20" y1="197.60" x2="39.70" y2="197.60" stroke="#1a1a1a" stroke-width="0.9"/>
<text font-size="8.6" text-anchor="end" fill="#3a3a3a" stroke="#3a3a3a" stroke-width="0.1" transform="translate(33.30 200.70) scale(0.88 1)">10</text>
<line x1="136.30" y1="297.50" x2="136.30" y2="300.00" stroke="#1a1a1a" stroke-width="0.9"/>
<text font-size="8.6" text-anchor="middle" fill="#3a3a3a" stroke="#3a3a3a" stroke-width="0.1" transform="translate(136.30 310.60) scale(0.88 1)">10</text>
<text font-size="9.46" text-anchor="middle" fill="#3a3a3a" stroke="#3a3a3a" stroke-width="0.1" textLength="13.7" lengthAdjust="spacingAndGlyphs" transform="translate(92.30 323.60)">PC 1</text>
<text font-size="9.46" text-anchor="middle" fill="#3a3a3a" stroke="#3a3a3a" stroke-width="0.1" textLength="14.5" lengthAdjust="spacingAndGlyphs" transform="translate(14.60 242.70) rotate(-90)">PC 2</text>
<text font-size="9.02" text-anchor="start" fill="#a05a9e" stroke="#a05a9e" stroke-width="0.1" textLength="43.4" lengthAdjust="spacingAndGlyphs" transform="translate(47.40 198.20)">WT recipient</text>
<text font-size="9.02" text-anchor="start" fill="#4a9a5c" stroke="#4a9a5c" stroke-width="0.1" textLength="45" lengthAdjust="spacingAndGlyphs" transform="translate(47.40 209.40)">I&#954;B<tspan font-size="5" dy="-3">&#8211;</tspan><tspan dy="3"> recipient</tspan></text>
<path d="M111.1 235.6h.8M83.0 266.4h.8M81.8 236.8h.8M105.2 248.9h.8M81.6 253.7h.8M70.6 240.7h.8M78.0 238.4h.8M72.3 262.3h.8M90.7 255.3h.8M95.2 247.2h.8M77.2 242.9h.8M95.8 266.3h.8M104.8 241.3h.8M95.0 265.8h.8M81.4 252.2h.8M97.9 261.5h.8M79.9 269.1h.8M85.8 244.8h.8M72.5 255.5h.8M92.7 231.7h.8M94.1 250.4h.8M77.2 258.5h.8M81.9 247.2h.8M87.6 231.4h.8M90.7 258.4h.8M102.2 237.0h.8M88.9 255.1h.8M70.8 260.0h.8M96.4 255.1h.8M75.8 247.3h.8M90.3 241.7h.8M94.1 233.3h.8M80.3 239.0h.8M78.9 242.0h.8M89.7 245.4h.8M96.9 247.2h.8M98.3 238.2h.8M89.3 253.5h.8M81.1 254.0h.8M86.1 248.4h.8M115.5 238.8h.8M95.1 255.9h.8M81.5 251.9h.8M89.8 258.2h.8M102.9 252.1h.8M98.0 270.3h.8M87.9 245.2h.8M89.8 241.8h.8M90.6 246.1h.8M70.6 256.9h.8M66.4 243.9h.8M90.8 249.7h.8M80.4 254.6h.8M105.0 228.9h.8M87.5 235.2h.8M73.4 268.8h.8M83.6 257.2h.8M82.9 246.6h.8M115.9 251.7h.8M88.5 245.2h.8M87.7 238.7h.8M104.4 258.7h.8M89.5 250.5h.8M91.3 263.0h.8M71.8 272.8h.8M92.9 245.6h.8M88.7 271.6h.8M84.6 255.9h.8M75.0 258.5h.8M94.4 241.9h.8M87.8 242.9h.8M82.4 247.9h.8M88.4 242.4h.8M87.4 249.5h.8M86.8 254.6h.8M108.6 240.7h.8M92.0 224.7h.8M100.9 262.2h.8M94.4 239.0h.8M105.4 233.1h.8M95.1 259.0h.8M80.0 246.1h.8M92.7 257.7h.8M84.5 252.4h.8M88.6 244.6h.8M85.4 260.6h.8M99.5 230.9h.8M87.0 237.9h.8M92.1 241.0h.8M92.4 255.2h.8M93.3 237.4h.8M79.7 229.2h.8M107.3 227.8h.8M106.3 238.7h.8M84.9 254.3h.8M80.5 247.6h.8M87.7 241.3h.8M69.4 226.8h.8M109.0 246.1h.8M94.2 242.6h.8M90.5 249.8h.8M86.9 256.3h.8M89.7 248.1h.8M91.0 256.2h.8M88.4 247.5h.8M93.6 258.0h.8M91.9 237.8h.8M93.5 251.1h.8M83.5 250.8h.8M94.7 231.8h.8M86.6 254.6h.8M91.5 245.6h.8M79.6 256.2h.8M87.1 241.4h.8M77.0 259.3h.8M92.6 259.8h.8M89.0 244.4h.8M87.0 258.3h.8M87.5 251.4h.8M91.1 256.1h.8M98.1 263.7h.8M86.4 248.1h.8M96.9 253.2h.8M93.0 253.1h.8M94.8 229.9h.8M84.3 244.0h.8M79.5 239.2h.8M99.2 246.5h.8M77.5 245.1h.8M98.6 236.0h.8M95.5 265.5h.8M81.7 234.4h.8M76.7 237.9h.8M105.4 238.6h.8M98.3 250.2h.8M76.7 250.2h.8M86.2 248.7h.8M94.4 248.8h.8M89.8 243.6h.8M88.0 229.6h.8M92.1 246.7h.8M86.1 254.4h.8M100.4 245.2h.8M78.1 254.6h.8M86.8 252.6h.8M98.0 258.6h.8M92.5 246.1h.8M77.2 248.6h.8M87.1 243.1h.8M83.9 245.4h.8M72.7 260.4h.8M95.2 236.8h.8M87.9 254.0h.8M98.0 267.9h.8M80.6 242.0h.8M94.0 257.7h.8M70.6 235.3h.8M89.4 256.8h.8M88.5 238.9h.8M64.1 239.4h.8M94.8 268.1h.8M95.1 265.0h.8M98.5 242.9h.8M108.8 251.9h.8M88.1 237.5h.8M82.1 255.6h.8M84.6 249.1h.8M78.0 244.2h.8M93.0 246.8h.8M103.7 249.6h.8M100.1 252.2h.8M95.0 266.6h.8M89.8 249.6h.8M83.4 254.6h.8M84.8 255.5h.8M67.8 256.0h.8M82.9 253.8h.8M78.3 250.4h.8M95.2 249.7h.8M83.5 234.9h.8M97.0 237.9h.8M98.7 250.2h.8M86.8 237.0h.8M82.9 249.7h.8M91.5 243.9h.8M85.5 238.4h.8M86.4 240.9h.8M97.9 240.4h.8M94.8 258.9h.8M75.9 255.4h.8M92.4 232.6h.8M76.7 246.1h.8M80.1 256.1h.8M85.5 241.3h.8M90.0 236.0h.8M78.9 240.1h.8M96.6 246.4h.8M92.4 253.2h.8M78.0 253.1h.8M82.1 219.7h.8M83.5 232.0h.8M89.9 244.7h.8M94.9 255.1h.8M96.5 243.4h.8M74.0 243.4h.8M93.1 242.9h.8M102.6 250.6h.8M92.7 240.0h.8M79.7 236.9h.8M74.6 262.4h.8M92.8 258.4h.8M86.9 264.5h.8M88.6 259.2h.8M91.2 263.0h.8M92.1 250.2h.8M88.6 248.6h.8M89.2 261.1h.8M64.4 250.1h.8M79.4 253.4h.8M91.9 267.4h.8M81.0 254.8h.8M78.3 245.7h.8M86.7 256.3h.8M78.9 240.9h.8M81.9 242.8h.8M92.2 266.5h.8M78.0 249.0h.8M91.2 239.9h.8M95.4 236.9h.8M84.6 250.5h.8M95.2 251.5h.8M97.8 262.9h.8M94.0 249.1h.8M69.9 240.1h.8M90.9 247.5h.8M78.1 253.7h.8M101.9 254.8h.8M56.0 259.9h.8M77.0 250.5h.8M84.4 257.5h.8M80.3 238.3h.8M74.7 229.8h.8M83.0 259.4h.8M95.3 241.6h.8M78.4 241.5h.8M71.0 259.0h.8M98.4 249.5h.8M76.0 244.1h.8M96.5 247.3h.8M71.4 253.2h.8M91.9 239.9h.8M105.1 248.8h.8M83.6 248.8h.8M99.1 256.2h.8M100.0 274.2h.8M95.4 254.0h.8M92.2 240.7h.8M77.1 250.0h.8M90.2 241.9h.8M79.4 258.8h.8M70.3 224.5h.8M86.2 250.4h.8M74.2 240.1h.8M83.1 234.2h.8M95.9 247.0h.8M94.7 258.4h.8M85.0 254.1h.8M76.3 249.0h.8M86.7 233.8h.8M57.1 257.9h.8M79.5 253.5h.8M91.9 243.6h.8M88.3 252.7h.8M92.6 243.9h.8M71.0 252.4h.8M75.3 261.1h.8M89.4 247.3h.8M89.1 256.6h.8M86.2 257.3h.8M91.5 240.8h.8M104.2 233.7h.8M80.6 253.3h.8M79.4 245.8h.8M106.3 239.0h.8M67.7 262.7h.8M76.1 244.1h.8M88.0 245.0h.8M104.4 254.6h.8M80.2 229.2h.8M91.2 255.4h.8M69.3 265.2h.8M65.5 249.6h.8M88.4 238.0h.8M86.7 255.1h.8M81.2 229.7h.8M71.7 247.9h.8M88.2 241.8h.8M84.3 243.4h.8M95.5 248.7h.8M83.8 250.3h.8M79.1 251.0h.8M85.2 246.2h.8M100.3 233.7h.8M83.9 242.4h.8M90.7 240.1h.8M88.2 245.3h.8M83.7 256.3h.8M96.0 234.2h.8M94.1 243.0h.8M90.5 252.2h.8M71.6 243.1h.8M89.8 253.3h.8M79.1 236.2h.8M71.4 232.1h.8M93.9 223.7h.8M81.4 248.9h.8M83.3 246.9h.8M86.1 255.7h.8M97.9 254.8h.8M83.3 242.9h.8M83.1 252.8h.8M91.3 251.3h.8M76.5 250.2h.8M86.0 231.2h.8M77.9 239.4h.8M80.8 252.3h.8M85.0 245.6h.8M96.0 229.7h.8M82.1 235.3h.8M97.2 238.9h.8M81.0 239.7h.8M87.0 244.6h.8M85.5 241.6h.8M98.3 235.6h.8M86.1 238.2h.8M101.4 256.0h.8M101.6 259.9h.8M93.0 241.5h.8M101.7 243.8h.8M83.6 256.4h.8M76.5 241.5h.8M85.8 255.4h.8M92.9 255.1h.8M84.0 253.0h.8M103.3 231.8h.8M86.6 263.8h.8M90.6 247.0h.8M91.2 242.0h.8M85.1 239.1h.8M95.7 245.1h.8M84.3 253.2h.8M94.4 258.3h.8M86.5 255.6h.8M75.2 243.3h.8M87.8 247.7h.8M96.1 262.1h.8M87.4 245.2h.8M95.7 258.0h.8M94.6 245.1h.8M100.5 235.3h.8M93.1 226.0h.8M88.0 252.2h.8M84.9 257.7h.8M87.7 266.8h.8M87.2 243.8h.8M97.1 250.5h.8M100.8 253.2h.8M86.8 266.9h.8M81.0 256.6h.8M101.5 241.4h.8M78.1 243.8h.8M92.3 249.8h.8M88.2 250.9h.8M83.1 265.8h.8M87.2 235.6h.8M100.9 249.4h.8M81.3 250.8h.8M96.1 243.7h.8M82.8 245.0h.8M86.2 243.2h.8M84.3 262.7h.8M88.5 240.5h.8M78.1 250.1h.8M95.9 250.8h.8M82.2 228.8h.8M95.5 237.2h.8M79.5 233.0h.8M73.1 254.6h.8M94.7 234.4h.8M79.7 255.3h.8M89.8 266.6h.8M93.7 242.0h.8M84.0 243.2h.8M95.0 244.3h.8M92.7 232.8h.8M83.7 246.9h.8M83.3 238.5h.8M84.4 243.8h.8M89.2 247.2h.8M103.4 247.2h.8M100.7 238.7h.8M99.8 248.4h.8M96.3 239.8h.8M82.5 246.0h.8M86.9 248.5h.8M99.6 253.7h.8M73.0 266.4h.8M84.0 254.6h.8M88.1 242.5h.8M103.7 243.4h.8M92.1 254.6h.8M93.2 234.4h.8M99.9 265.6h.8M95.9 231.9h.8M95.4 261.6h.8M85.3 242.6h.8M91.7 255.4h.8M80.1 239.5h.8M76.2 235.4h.8M88.2 245.1h.8M76.2 254.9h.8M94.1 261.5h.8M106.4 259.6h.8M77.2 248.7h.8M92.3 240.5h.8M84.7 250.3h.8M85.9 253.7h.8M65.2 241.1h.8M90.2 246.2h.8M82.4 246.2h.8M87.9 248.7h.8M97.8 263.5h.8M90.2 258.0h.8M85.2 233.9h.8M78.4 249.9h.8M82.8 239.4h.8M79.3 265.0h.8M92.6 250.9h.8M85.2 237.9h.8M80.1 252.4h.8M89.3 243.9h.8M83.4 238.5h.8M107.9 249.9h.8M104.6 266.5h.8M100.5 250.0h.8M89.2 251.1h.8M82.4 260.8h.8M84.5 235.9h.8M98.1 250.3h.8M83.3 255.2h.8M77.4 231.8h.8M93.9 246.3h.8M83.7 258.2h.8M99.7 239.3h.8M79.6 239.4h.8M78.2 242.9h.8M79.5 252.8h.8M92.4 243.4h.8M97.0 255.1h.8M102.0 233.7h.8M87.9 243.5h.8M81.1 250.2h.8M76.3 248.3h.8M89.8 234.9h.8M96.4 239.3h.8M84.8 250.5h.8M85.0 246.2h.8M70.9 242.4h.8M74.1 254.4h.8M88.2 252.9h.8M102.7 247.4h.8M101.9 235.3h.8M83.6 244.6h.8M99.5 250.0h.8M88.8 253.3h.8M88.5 251.3h.8M88.7 238.3h.8M100.3 245.4h.8M89.8 239.6h.8M85.4 258.4h.8M97.8 255.9h.8M96.2 256.4h.8M104.2 256.3h.8M95.5 232.8h.8M79.5 234.6h.8M80.7 265.7h.8M94.4 240.6h.8M86.2 272.4h.8M87.5 251.0h.8M84.7 251.1h.8M72.2 255.1h.8M103.9 231.5h.8M84.8 255.2h.8M91.5 237.4h.8M94.4 258.5h.8M89.4 246.5h.8M100.7 235.2h.8M92.6 235.9h.8M84.5 233.6h.8M84.2 244.6h.8M96.1 255.9h.8M81.8 265.5h.8M89.5 248.4h.8M85.1 243.5h.8M69.3 250.2h.8M88.8 250.5h.8M95.0 230.5h.8M84.1 257.4h.8M82.7 247.7h.8M93.2 255.7h.8M96.9 256.9h.8M95.3 243.1h.8M92.1 226.9h.8M85.7 249.8h.8M92.2 239.3h.8M76.2 246.6h.8M81.4 242.6h.8M100.1 246.2h.8M87.1 246.3h.8M61.9 243.3h.8M93.0 245.9h.8M84.5 255.4h.8M86.4 236.5h.8M87.1 235.2h.8M65.2 254.8h.8M90.4 247.9h.8M73.3 255.9h.8M99.1 259.2h.8M79.2 259.4h.8M83.1 242.3h.8M93.3 266.9h.8M100.9 252.3h.8M82.8 232.5h.8M87.3 260.0h.8M82.4 255.5h.8M79.1 252.1h.8M95.8 243.8h.8M75.8 222.5h.8M79.2 247.8h.8M88.3 240.7h.8M85.1 243.9h.8M106.6 245.1h.8M78.4 245.8h.8M80.9 252.3h.8M89.7 244.6h.8M85.5 240.1h.8M86.3 260.7h.8M95.8 250.7h.8M98.7 253.2h.8M93.1 244.4h.8M64.1 264.8h.8M78.1 235.5h.8M71.3 241.0h.8M97.7 242.2h.8M94.0 252.1h.8M87.9 245.8h.8M91.7 240.8h.8M86.2 254.9h.8M83.0 244.6h.8M73.3 261.5h.8M84.4 253.7h.8M85.6 273.8h.8M85.0 250.7h.8M94.9 266.3h.8M85.3 243.7h.8M92.3 236.1h.8M97.4 257.1h.8M93.6 250.6h.8M80.9 234.0h.8M82.4 256.8h.8M84.4 256.5h.8M96.9 243.4h.8M100.4 242.8h.8M82.6 238.5h.8M82.2 253.0h.8M86.5 247.8h.8M98.6 252.7h.8M91.1 247.9h.8M76.8 259.7h.8M86.1 244.3h.8M90.9 243.1h.8M88.4 252.3h.8M91.8 257.2h.8M76.1 252.4h.8M75.3 254.3h.8M81.4 254.0h.8M87.6 255.7h.8M84.3 264.8h.8M89.3 256.3h.8M91.6 274.8h.8M80.9 246.4h.8M66.3 253.7h.8M88.8 246.9h.8M74.7 247.2h.8M89.3 257.2h.8M94.6 247.8h.8M88.2 252.3h.8M92.9 246.6h.8M98.1 242.6h.8M82.5 250.7h.8M96.2 250.7h.8M91.4 242.6h.8M86.4 270.6h.8M89.2 245.8h.8M89.2 255.2h.8M98.8 248.2h.8M82.5 255.5h.8M91.2 258.2h.8M79.1 229.6h.8M99.7 236.6h.8M100.2 241.0h.8M73.0 238.0h.8M99.1 242.1h.8M70.6 237.8h.8M100.2 251.5h.8M89.1 240.4h.8M87.2 237.5h.8M88.7 241.2h.8M88.8 262.2h.8M79.1 218.3h.8M90.5 235.1h.8M98.2 230.3h.8M93.0 253.2h.8M88.2 266.6h.8M86.3 239.4h.8M68.7 248.1h.8M95.4 234.4h.8M79.7 255.2h.8M71.2 259.6h.8M92.8 227.4h.8M77.8 235.7h.8M91.8 252.4h.8M107.6 270.4h.8M87.4 245.9h.8M107.1 228.6h.8M108.3 244.6h.8M96.8 233.8h.8M92.6 244.0h.8M86.4 252.1h.8M77.0 230.2h.8M84.0 268.6h.8M90.4 248.1h.8M89.6 230.2h.8M87.1 250.7h.8M81.3 248.9h.8M84.1 246.4h.8M116.0 241.3h.8M80.3 230.0h.8M95.8 239.3h.8M94.4 239.4h.8M94.1 233.7h.8M97.0 234.0h.8M83.5 248.5h.8M81.5 239.4h.8M95.5 251.8h.8M93.3 221.9h.8M99.1 257.7h.8M87.2 241.9h.8M87.7 244.3h.8M98.6 243.7h.8M78.2 242.1h.8M87.1 247.0h.8M82.9 262.0h.8M76.8 252.6h.8M78.4 275.4h.8M98.3 258.2h.8M81.5 243.5h.8M66.4 237.2h.8M81.1 242.3h.8M83.7 245.5h.8M89.0 247.9h.8M71.6 264.0h.8M87.6 234.3h.8M83.1 243.3h.8M89.5 243.1h.8M96.9 261.7h.8M90.5 249.5h.8M85.2 256.6h.8M81.0 258.7h.8M78.2 224.6h.8M103.3 246.3h.8M94.7 256.8h.8M63.0 268.3h.8M89.3 233.9h.8M87.6 257.8h.8M85.8 257.9h.8M75.5 251.5h.8M84.4 256.3h.8M80.1 257.9h.8M90.1 234.2h.8M86.1 226.4h.8M73.5 246.8h.8M77.6 250.6h.8M88.9 242.5h.8M98.2 252.3h.8M76.8 251.0h.8M90.6 254.5h.8M96.0 230.8h.8M75.2 245.8h.8M97.1 265.8h.8M89.9 250.0h.8M75.2 236.5h.8M90.0 252.5h.8M92.0 241.3h.8M94.9 241.6h.8M91.7 259.1h.8M84.2 247.1h.8M63.1 229.8h.8M84.6 258.6h.8M71.7 247.3h.8M88.3 253.6h.8M84.3 257.0h.8M81.3 249.6h.8M82.2 242.0h.8M86.7 246.8h.8M91.7 235.2h.8M93.4 245.2h.8M86.5 256.0h.8M84.9 241.7h.8M90.0 251.6h.8M76.0 264.2h.8M90.9 237.7h.8M91.4 261.0h.8M86.1 246.0h.8M79.8 245.5h.8M86.2 256.3h.8M76.9 241.3h.8M91.2 256.3h.8M78.9 240.3h.8M93.4 250.4h.8M102.3 249.3h.8M78.5 238.3h.8M86.3 244.8h.8M88.4 257.7h.8M77.4 251.0h.8M100.6 256.5h.8M100.2 244.6h.8M78.0 246.4h.8M93.1 256.2h.8M68.9 246.5h.8M78.0 244.7h.8M70.9 251.1h.8M80.7 263.1h.8M85.8 246.6h.8M83.0 260.0h.8M89.9 264.8h.8M92.8 242.7h.8M103.1 237.9h.8M91.2 245.1h.8M88.3 260.8h.8M101.1 241.5h.8M85.4 259.4h.8M101.3 241.5h.8M77.4 242.6h.8M105.0 246.5h.8M91.6 251.7h.8M82.4 238.2h.8M115.6 244.0h.8M86.9 240.4h.8M85.3 241.2h.8M95.4 257.1h.8M78.4 249.7h.8M95.5 244.5h.8M99.1 260.2h.8M92.4 253.6h.8M88.9 244.8h.8M79.3 251.1h.8M77.6 246.5h.8M80.4 253.6h.8M90.0 254.1h.8M98.3 253.1h.8M95.6 244.5h.8M78.8 251.1h.8M80.5 252.3h.8M85.6 230.6h.8M84.3 233.2h.8M92.0 260.2h.8M67.3 243.6h.8M70.2 242.9h.8M97.2 243.3h.8M86.1 250.6h.8M90.3 250.7h.8M83.2 252.1h.8M98.5 252.9h.8M91.4 258.8h.8M81.6 261.9h.8M86.2 241.6h.8M90.7 252.5h.8M93.5 250.8h.8M91.3 245.0h.8M92.8 271.4h.8M76.4 241.7h.8M87.1 226.4h.8M85.9 253.5h.8M101.3 241.2h.8M104.9 241.3h.8M86.2 241.2h.8M81.0 253.0h.8M83.1 250.7h.8M95.0 251.9h.8M90.9 252.5h.8M95.9 273.8h.8M86.2 246.6h.8M78.4 239.2h.8M89.9 235.4h.8M96.6 240.9h.8M86.7 258.6h.8M86.0 252.6h.8M90.2 252.3h.8M115.2 260.6h.8M98.5 251.4h.8M85.9 239.3h.8M88.0 259.7h.8M91.7 249.5h.8M69.7 248.0h.8M78.6 256.1h.8M92.3 244.7h.8M85.4 227.3h.8M91.7 253.5h.8M90.1 248.9h.8M68.4 265.2h.8M75.6 229.4h.8M86.4 250.8h.8M83.0 239.1h.8M88.3 231.5h.8M95.0 231.4h.8M87.0 244.5h.8M84.2 250.0h.8M72.6 255.2h.8M79.5 255.1h.8M98.8 244.4h.8M98.9 238.6h.8M96.2 237.5h.8M82.6 240.8h.8M85.1 253.4h.8M98.6 226.1h.8M79.3 232.2h.8M95.4 255.4h.8M90.4 244.2h.8M91.3 251.1h.8M76.6 248.9h.8M95.7 239.6h.8M93.9 236.8h.8M79.2 249.3h.8M91.0 238.1h.8M89.4 242.9h.8M89.2 227.7h.8M68.6 250.2h.8M110.0 243.5h.8M71.7 248.4h.8M75.3 255.8h.8M90.0 231.3h.8M92.1 241.1h.8M97.1 245.1h.8M80.4 249.7h.8M91.0 250.3h.8M82.1 252.1h.8M74.7 259.2h.8M87.2 251.5h.8M88.3 234.5h.8M90.7 248.0h.8M77.6 259.4h.8M91.3 256.0h.8M91.8 257.9h.8M89.2 248.6h.8M96.8 250.9h.8M84.7 246.0h.8M88.5 231.7h.8M85.7 253.4h.8M85.2 243.7h.8M90.1 241.1h.8M75.7 225.4h.8M104.3 246.6h.8M77.3 247.6h.8M91.7 269.1h.8M88.1 262.2h.8M92.1 234.3h.8M97.2 261.5h.8M100.3 238.0h.8M84.8 243.5h.8M101.5 249.8h.8M87.9 253.4h.8M98.3 267.6h.8M100.6 256.0h.8M96.2 262.8h.8M79.7 254.6h.8M95.4 262.8h.8M93.4 253.5h.8M99.0 249.8h.8M92.3 249.2h.8M103.9 249.8h.8M87.8 228.9h.8M88.7 241.3h.8M81.5 246.8h.8M67.9 249.1h.8M82.3 263.0h.8M75.4 238.3h.8M91.8 262.2h.8M104.1 253.0h.8M84.7 246.0h.8M77.9 264.6h.8M81.4 237.3h.8M96.5 262.3h.8M98.7 246.6h.8M92.4 247.0h.8M91.7 257.2h.8M79.9 255.6h.8M84.7 242.4h.8M77.2 233.8h.8M82.4 254.2h.8M94.2 243.2h.8M85.0 258.6h.8M79.1 264.3h.8M98.2 236.5h.8M104.6 241.5h.8M91.0 240.4h.8M96.4 249.6h.8M91.1 227.0h.8M73.0 263.1h.8M79.5 241.6h.8M98.6 250.2h.8M94.0 247.8h.8M90.7 252.9h.8M87.8 248.1h.8M98.0 225.5h.8M71.9 244.5h.8M88.0 238.7h.8M97.4 239.5h.8M95.2 256.4h.8M72.9 233.5h.8M98.7 256.0h.8M99.5 240.4h.8M66.2 241.6h.8M79.2 237.7h.8M82.0 255.8h.8M74.3 251.5h.8M97.0 253.5h.8M71.5 229.1h.8M104.4 239.7h.8M83.2 260.1h.8M73.5 244.1h.8M99.6 257.0h.8M88.0 250.7h.8M85.7 243.4h.8M106.6 252.2h.8M95.6 236.7h.8M85.5 249.7h.8M76.1 238.8h.8M83.3 254.8h.8M88.6 256.2h.8M78.7 251.8h.8M101.2 248.6h.8M92.7 261.6h.8M70.7 232.3h.8M84.5 263.2h.8M87.1 242.2h.8M72.7 258.1h.8M90.3 256.6h.8M95.1 238.0h.8M91.9 251.7h.8M87.6 254.1h.8M86.8 245.0h.8M85.3 238.9h.8M111.1 250.9h.8M91.1 239.7h.8M93.7 249.7h.8M83.7 238.8h.8M93.6 242.5h.8M80.9 242.6h.8M95.1 249.0h.8M93.8 226.4h.8M71.3 243.9h.8M77.6 262.2h.8M85.9 242.9h.8M88.5 259.2h.8M75.2 254.7h.8M88.1 256.0h.8M74.6 232.4h.8M80.5 250.3h.8M83.1 254.2h.8M88.4 250.8h.8M93.5 258.9h.8M74.8 230.5h.8M87.3 240.6h.8M98.5 241.6h.8M88.3 263.0h.8M73.7 240.0h.8M94.1 241.9h.8M73.2 270.1h.8M78.6 260.4h.8M89.4 257.7h.8M102.1 252.6h.8M83.0 240.2h.8M90.9 256.4h.8M95.3 228.6h.8M77.0 251.5h.8M78.4 267.8h.8M93.6 240.7h.8M96.7 242.9h.8M70.0 250.1h.8M82.0 260.0h.8M78.1 241.6h.8M85.4 229.2h.8M92.2 266.1h.8M96.0 235.0h.8M88.3 259.7h.8M103.9 259.1h.8M87.3 266.6h.8M76.8 265.7h.8M97.8 235.5h.8M84.4 261.5h.8M87.5 244.4h.8M74.3 260.7h.8M87.1 241.2h.8M88.7 243.6h.8M76.8 273.4h.8M90.8 256.6h.8M86.9 251.8h.8M92.3 255.1h.8M101.0 246.3h.8M92.8 241.4h.8M97.3 243.1h.8M72.3 255.8h.8M104.8 241.7h.8M93.1 242.9h.8M82.2 255.2h.8M82.2 237.3h.8M91.3 230.3h.8M92.5 229.1h.8M92.1 259.1h.8M103.7 243.1h.8M98.8 244.8h.8M85.1 246.6h.8M77.9 260.7h.8M80.0 254.0h.8M75.8 250.3h.8M90.8 227.8h.8M104.7 246.8h.8M96.0 249.3h.8M91.5 248.0h.8M83.1 247.8h.8M74.6 245.1h.8M85.4 258.9h.8M84.8 242.9h.8M81.9 244.0h.8M93.2 232.2h.8M78.2 250.1h.8M92.7 232.8h.8M90.4 240.3h.8M74.7 255.1h.8M103.1 249.2h.8M107.6 253.1h.8M85.5 263.9h.8M93.8 244.8h.8M106.3 244.5h.8M85.7 262.1h.8M87.3 238.7h.8M94.7 235.2h.8M95.9 247.6h.8M93.5 245.7h.8M75.9 232.4h.8M91.4 258.0h.8M91.5 244.8h.8M97.1 232.8h.8M60.3 245.4h.8M102.0 255.9h.8M71.1 247.0h.8M91.1 244.2h.8M77.9 253.7h.8M89.8 240.4h.8M108.0 243.0h.8M82.5 271.9h.8M97.8 248.3h.8M87.0 257.9h.8M94.7 265.0h.8M89.0 246.7h.8M90.8 234.8h.8M87.1 247.2h.8M95.8 262.5h.8M85.3 247.6h.8M96.7 255.0h.8M95.4 243.4h.8M74.4 264.1h.8M74.9 248.0h.8M89.9 240.6h.8M95.5 252.7h.8M97.8 238.9h.8M92.3 242.8h.8M76.2 245.6h.8M78.6 260.8h.8M84.8 246.9h.8M87.5 251.3h.8M78.8 247.1h.8M81.2 262.7h.8M88.9 233.5h.8M84.3 258.9h.8M100.7 229.7h.8M85.3 250.4h.8M90.0 218.5h.8M89.2 238.0h.8M92.1 265.7h.8M77.9 261.3h.8M92.0 246.5h.8M104.4 249.0h.8M90.8 247.0h.8M89.3 224.8h.8M90.6 233.1h.8M99.9 252.8h.8M94.3 251.1h.8M89.0 246.3h.8M88.2 252.6h.8M102.3 249.2h.8M94.5 230.6h.8M93.8 237.2h.8M100.8 235.8h.8M103.8 260.6h.8M106.0 245.9h.8M71.9 256.0h.8M75.2 249.5h.8M74.3 259.4h.8M90.7 246.1h.8M80.7 251.1h.8M87.1 247.3h.8M87.9 250.2h.8M96.1 263.2h.8M83.5 247.1h.8M84.3 253.9h.8M84.0 246.3h.8M99.5 248.7h.8M85.5 244.7h.8M85.8 267.5h.8M90.5 251.5h.8M82.7 242.3h.8M88.4 253.6h.8M68.0 267.2h.8M88.1 249.2h.8M92.0 245.3h.8M83.6 261.1h.8M77.9 250.4h.8M77.4 241.5h.8M75.8 267.1h.8M86.2 265.9h.8M103.0 256.3h.8M87.5 250.5h.8M80.5 266.4h.8M70.9 241.1h.8M97.4 225.4h.8M74.5 243.8h.8M87.9 239.6h.8M83.3 241.3h.8M96.3 241.1h.8M101.3 248.4h.8M102.2 253.5h.8M103.4 273.8h.8M88.1 256.0h.8M88.0 237.7h.8M94.6 246.4h.8M103.7 261.1h.8M80.5 233.7h.8M91.0 268.4h.8M91.2 259.5h.8M101.6 235.2h.8M83.0 235.6h.8M80.3 239.6h.8M93.3 248.7h.8M74.9 252.1h.8M66.9 255.8h.8M71.0 237.6h.8M79.1 273.2h.8M93.4 243.8h.8M83.3 227.3h.8M95.1 246.6h.8M82.1 278.1h.8M92.4 237.9h.8M82.6 262.7h.8M87.6 264.7h.8M88.1 240.3h.8M101.9 243.9h.8M89.8 240.3h.8M100.9 249.8h.8M76.7 257.1h.8M76.4 258.1h.8M86.9 244.7h.8M89.5 247.1h.8M84.7 244.1h.8M96.2 239.6h.8M101.8 249.5h.8M85.7 231.3h.8M89.9 243.7h.8M84.9 238.6h.8M84.3 258.4h.8M87.5 252.5h.8M95.7 251.0h.8M89.1 250.0h.8M91.1 254.0h.8M98.2 261.2h.8M84.5 255.4h.8M94.0 247.0h.8M92.5 250.8h.8M81.4 259.9h.8M84.9 253.7h.8M90.6 244.2h.8M97.0 248.1h.8M81.1 259.3h.8M88.6 244.3h.8M106.0 244.3h.8M104.2 227.6h.8M78.3 236.9h.8M98.5 233.5h.8M87.9 238.5h.8M83.6 249.2h.8M88.2 230.2h.8M86.0 238.7h.8M88.6 255.0h.8M90.2 241.2h.8M81.4 242.3h.8M81.4 257.4h.8M90.0 250.1h.8M79.0 265.2h.8M88.2 245.5h.8M83.8 246.6h.8M73.9 245.5h.8M91.8 244.8h.8M82.4 247.8h.8M89.2 237.2h.8M90.6 245.2h.8M81.3 240.1h.8M98.8 251.8h.8M93.9 244.3h.8M87.6 260.9h.8M104.2 265.0h.8M90.8 251.5h.8M98.6 251.1h.8M88.4 241.9h.8M92.2 252.7h.8M94.3 243.4h.8M97.1 252.1h.8M87.6 251.9h.8M80.3 246.3h.8M91.8 233.5h.8M85.0 244.4h.8M98.5 248.0h.8M88.6 246.6h.8M81.7 258.5h.8M98.3 245.2h.8M87.3 260.4h.8M89.1 236.2h.8M77.4 258.0h.8M98.2 232.7h.8M102.3 252.0h.8M93.5 254.9h.8M92.8 251.1h.8M89.8 234.5h.8M91.1 250.1h.8M88.5 245.3h.8M83.3 246.4h.8M93.5 231.9h.8M69.1 261.8h.8M76.7 240.5h.8M110.4 243.8h.8M89.1 236.6h.8M65.6 252.1h.8M59.5 249.4h.8M83.4 253.3h.8M91.1 253.5h.8M98.2 247.0h.8M91.5 222.5h.8M83.9 239.2h.8M80.4 236.4h.8M96.8 245.7h.8M97.1 231.1h.8M100.6 246.7h.8M87.5 237.1h.8M74.6 255.4h.8M92.4 241.9h.8M105.0 228.8h.8M91.0 243.3h.8M76.0 251.1h.8M90.4 250.0h.8M88.6 241.9h.8M79.3 254.5h.8M71.8 238.3h.8M78.4 265.8h.8M95.0 249.4h.8M96.8 250.7h.8M107.4 238.9h.8M89.4 246.7h.8M86.1 240.2h.8M106.2 250.3h.8M78.1 243.1h.8M97.7 261.7h.8M81.7 258.5h.8M93.1 242.5h.8M81.3 259.8h.8M94.2 267.6h.8M93.9 248.9h.8M105.5 236.4h.8M82.7 251.2h.8M85.5 255.4h.8M88.8 238.4h.8M74.3 251.7h.8M101.6 239.3h.8M80.6 256.7h.8M80.2 264.6h.8M98.5 246.2h.8M81.7 262.8h.8M84.5 253.4h.8M103.6 250.9h.8M89.1 237.3h.8M94.1 249.1h.8M68.2 236.3h.8M93.4 251.7h.8M87.2 257.5h.8M79.9 263.4h.8M92.6 242.4h.8M89.6 240.2h.8M92.9 246.3h.8M80.0 243.0h.8M98.8 240.7h.8M99.3 251.5h.8M79.1 236.6h.8M82.7 246.2h.8M86.3 248.0h.8M85.6 253.5h.8M71.9 231.0h.8M89.9 266.7h.8M79.8 259.9h.8M81.3 273.7h.8M93.2 231.4h.8M85.8 240.9h.8M93.4 259.6h.8M99.0 263.4h.8M82.8 252.0h.8M99.4 245.7h.8M86.9 256.0h.8M88.8 247.5h.8M94.6 233.7h.8M94.7 247.1h.8M86.6 232.5h.8M89.8 248.0h.8M104.2 231.0h.8M93.1 248.5h.8M82.3 238.1h.8M83.9 239.0h.8M80.9 247.7h.8M91.6 246.2h.8M90.1 244.0h.8M77.9 259.9h.8M86.7 230.5h.8M86.9 257.2h.8M82.1 248.3h.8M98.7 252.4h.8M93.1 245.6h.8M84.8 257.5h.8M86.6 255.2h.8M92.9 264.7h.8M98.2 239.5h.8M93.2 232.8h.8M93.4 264.1h.8M88.5 243.6h.8M81.9 259.7h.8M91.9 242.6h.8M84.2 250.8h.8M83.4 254.0h.8M87.5 237.6h.8M73.5 252.8h.8M102.5 243.4h.8M89.4 239.7h.8M79.0 260.7h.8M73.1 263.7h.8M90.2 239.5h.8M84.3 255.0h.8M91.6 241.6h.8M90.3 266.3h.8M83.1 273.2h.8M90.2 256.0h.8M82.1 234.0h.8M99.9 242.1h.8M90.5 246.1h.8M82.7 249.0h.8M105.2 254.7h.8M82.1 247.0h.8M96.0 239.1h.8M79.3 250.2h.8M85.6 260.2h.8M88.7 252.6h.8M96.3 242.9h.8M81.0 247.9h.8M84.8 254.5h.8M83.6 238.1h.8M84.3 265.0h.8M81.1 240.9h.8M107.3 256.2h.8M84.8 251.5h.8M75.4 245.4h.8M87.6 245.3h.8M108.1 248.5h.8M95.1 239.2h.8M82.3 254.3h.8M102.0 239.6h.8M89.3 258.5h.8M95.9 242.0h.8M107.7 231.6h.8M95.2 244.6h.8M88.6 253.3h.8M90.8 245.3h.8M93.9 236.8h.8M90.8 253.0h.8M95.2 232.2h.8M80.5 244.7h.8M92.9 242.3h.8M92.5 248.4h.8M87.1 231.7h.8M103.5 260.0h.8M65.3 246.1h.8M82.0 253.6h.8M73.7 246.0h.8M87.5 253.3h.8M96.1 223.5h.8M101.2 235.2h.8M84.3 242.0h.8M87.7 236.8h.8M93.2 247.8h.8M93.0 254.4h.8M95.1 232.7h.8M84.8 242.9h.8M73.1 240.4h.8M95.9 257.1h.8M103.6 245.3h.8M72.5 262.9h.8M95.8 249.8h.8M97.9 262.0h.8M87.1 238.6h.8M81.9 242.0h.8M84.8 245.0h.8M90.9 226.0h.8M76.9 241.6h.8M99.8 257.7h.8M88.7 225.5h.8M97.4 275.8h.8M85.9 264.8h.8M90.7 254.8h.8M83.0 256.6h.8M90.6 252.2h.8M79.9 251.0h.8M91.7 255.9h.8M98.0 263.1h.8M91.7 251.4h.8M102.1 252.8h.8M82.1 261.6h.8M105.8 240.2h.8M78.3 252.3h.8M79.4 234.1h.8M91.8 267.4h.8M89.9 238.9h.8M88.0 243.4h.8M87.0 246.1h.8M89.9 254.7h.8M91.1 246.1h.8M87.7 254.7h.8M78.9 246.5h.8M95.4 270.7h.8M83.2 235.3h.8M96.2 254.1h.8M100.1 256.3h.8M80.9 229.9h.8M84.1 250.5h.8M73.2 259.3h.8M77.5 250.4h.8M71.6 239.4h.8M84.8 254.2h.8M82.3 241.4h.8M101.8 250.5h.8M102.5 230.9h.8M100.0 243.8h.8M74.7 242.8h.8M84.3 246.5h.8M71.1 252.5h.8M90.1 256.9h.8M90.6 231.5h.8M90.1 254.4h.8M109.4 266.7h.8M79.8 244.9h.8M82.7 270.8h.8M90.3 239.7h.8M80.9 234.5h.8M92.5 235.9h.8M74.3 249.4h.8M102.4 226.9h.8M99.8 246.8h.8M89.7 253.9h.8M97.9 253.7h.8M89.1 268.0h.8M74.5 232.1h.8M88.5 245.8h.8M68.3 250.4h.8M106.6 260.6h.8M66.6 251.8h.8M83.2 250.5h.8M76.7 262.4h.8" stroke="#76587e" stroke-opacity="0.36" stroke-width="0.8" fill="none"/>
<path d="M81.4 241.4h.8M89.0 240.4h.8M82.4 241.7h.8M86.5 244.3h.8M95.3 244.6h.8M87.1 253.7h.8M89.7 240.6h.8M85.3 245.2h.8M77.9 251.9h.8M91.9 237.9h.8M87.3 253.7h.8M86.9 253.2h.8M87.6 234.5h.8M91.3 245.6h.8M96.0 246.8h.8M91.5 243.7h.8M92.2 252.7h.8M93.9 240.1h.8M74.6 259.3h.8M83.5 236.8h.8M89.5 241.2h.8M92.9 240.1h.8M85.2 247.9h.8M91.8 241.6h.8M93.0 243.0h.8M86.2 238.9h.8M92.4 239.1h.8M72.9 239.4h.8M73.5 243.7h.8M85.0 244.2h.8M86.2 246.5h.8M90.6 243.0h.8M84.2 258.4h.8M84.3 241.9h.8M83.9 242.5h.8M86.9 249.9h.8M96.9 235.9h.8M88.7 245.1h.8M95.5 251.9h.8M83.7 238.7h.8M95.2 247.5h.8M84.3 242.9h.8M80.2 247.5h.8M87.8 258.1h.8M93.2 240.7h.8M96.3 252.6h.8M81.0 249.2h.8M80.8 233.7h.8M83.0 246.5h.8M90.7 242.4h.8M98.8 250.7h.8M95.1 244.0h.8M81.7 244.0h.8M80.2 236.1h.8M84.6 239.4h.8M97.8 248.2h.8M83.5 244.1h.8M82.5 240.0h.8M90.5 248.9h.8M84.8 240.9h.8M79.9 235.7h.8M84.2 245.9h.8M83.3 236.0h.8M94.7 237.8h.8M93.6 244.3h.8M100.4 241.2h.8M92.2 241.7h.8M94.1 243.3h.8M88.2 253.5h.8M102.8 251.9h.8M75.2 248.7h.8M102.0 238.2h.8M85.4 243.4h.8M89.2 255.6h.8M87.1 243.2h.8M97.0 251.3h.8M74.5 253.4h.8M91.5 244.4h.8M90.3 244.0h.8M86.9 252.2h.8M92.3 242.7h.8M93.1 238.0h.8M81.2 257.5h.8M77.6 233.2h.8M83.3 242.6h.8M89.2 240.9h.8M110.4 247.6h.8M88.2 248.1h.8M90.9 242.0h.8M82.9 237.6h.8M96.9 242.4h.8M88.6 246.1h.8M78.5 241.2h.8M82.9 247.5h.8M95.9 249.8h.8M85.9 240.1h.8M101.6 248.6h.8M96.6 248.4h.8M91.9 242.2h.8M81.8 239.2h.8M101.2 244.5h.8M91.1 251.2h.8M101.1 244.5h.8M80.9 240.7h.8M79.7 248.6h.8M75.3 237.3h.8M103.9 248.3h.8M85.0 248.0h.8M85.6 241.8h.8M98.9 250.3h.8M92.2 254.6h.8M99.4 245.3h.8M84.7 236.5h.8M88.6 237.4h.8M96.4 235.8h.8M84.1 244.5h.8M91.8 245.9h.8M99.4 248.7h.8M95.9 237.4h.8M76.5 250.1h.8M83.4 247.8h.8M91.9 245.8h.8M89.8 247.3h.8M88.8 242.2h.8M94.2 249.1h.8M88.6 249.0h.8M88.2 252.6h.8M95.6 241.2h.8M88.5 248.5h.8M86.3 248.4h.8M79.2 235.9h.8M111.0 251.5h.8M81.6 241.7h.8M93.3 253.4h.8M76.7 241.9h.8M76.2 237.1h.8M86.1 244.3h.8M89.3 247.9h.8M88.4 246.4h.8M97.5 245.3h.8M89.1 247.7h.8M85.2 248.8h.8M89.4 234.8h.8M96.7 243.5h.8M100.3 239.3h.8M90.7 245.7h.8M82.1 243.5h.8M87.2 253.5h.8M80.9 234.3h.8M90.7 242.1h.8M90.6 247.3h.8M92.4 238.9h.8M87.3 242.0h.8M96.1 247.4h.8M90.4 248.8h.8M93.3 246.8h.8M96.9 249.0h.8M100.4 246.5h.8M83.8 249.7h.8M93.7 249.5h.8M101.2 237.8h.8M92.7 252.6h.8M89.2 248.8h.8M77.4 242.5h.8M103.8 247.7h.8M94.7 237.8h.8M83.0 246.7h.8M91.1 242.2h.8M81.8 243.6h.8M88.6 239.6h.8M78.8 247.9h.8M86.0 246.5h.8M94.1 248.2h.8M107.4 248.7h.8M94.9 239.3h.8M95.7 245.9h.8M83.9 246.2h.8M93.7 244.2h.8M93.2 241.7h.8M83.5 249.9h.8M98.8 247.5h.8M78.9 234.7h.8M83.8 249.9h.8M95.7 251.0h.8M83.6 239.1h.8M83.9 231.2h.8M90.0 230.2h.8M90.2 244.5h.8M85.1 246.0h.8M86.0 244.9h.8M94.4 251.7h.8M83.3 256.2h.8M99.2 245.2h.8M89.2 245.1h.8M95.9 243.1h.8M94.9 245.7h.8M88.5 245.1h.8M77.1 238.9h.8M78.9 250.2h.8M93.7 244.5h.8M94.7 235.5h.8M101.6 237.3h.8M87.8 233.7h.8M83.5 245.3h.8M95.9 246.0h.8M88.5 246.7h.8M98.3 258.3h.8M97.7 239.0h.8M88.9 241.8h.8M82.9 238.8h.8M109.5 249.8h.8M98.5 245.1h.8M87.1 247.5h.8M88.1 251.6h.8M80.4 235.8h.8M89.2 241.8h.8M91.4 242.2h.8M79.3 250.0h.8M93.5 239.4h.8M81.8 248.0h.8M82.3 241.3h.8M91.6 244.6h.8M85.0 242.9h.8M89.5 248.9h.8M91.5 248.4h.8M95.6 241.4h.8M84.8 241.6h.8M89.8 248.7h.8M83.3 253.9h.8M81.9 242.9h.8M97.3 248.2h.8M90.4 242.9h.8M94.5 242.4h.8M97.4 240.6h.8M84.3 242.7h.8M73.9 245.8h.8M89.5 241.7h.8M87.3 240.3h.8M98.0 249.4h.8M85.7 243.4h.8M92.6 244.0h.8M94.8 251.3h.8M94.4 238.5h.8M96.6 242.5h.8M87.8 242.6h.8M88.8 253.5h.8M85.3 245.0h.8M85.9 249.9h.8M87.8 246.8h.8M89.8 245.1h.8M90.5 239.4h.8M90.2 242.6h.8M81.3 260.9h.8M86.7 241.1h.8M87.1 248.2h.8M81.2 240.0h.8M85.9 243.5h.8M96.8 241.9h.8M104.1 245.5h.8M95.6 241.0h.8M85.0 244.6h.8M85.6 250.4h.8M91.3 249.0h.8M100.4 248.9h.8M85.7 244.3h.8M85.9 244.5h.8M85.3 252.6h.8M73.4 251.8h.8M99.3 242.4h.8M90.3 247.3h.8M88.4 243.2h.8M80.2 249.2h.8M83.5 238.0h.8M82.4 238.4h.8M86.3 230.0h.8M88.8 244.6h.8M98.2 240.1h.8M95.5 250.6h.8M96.8 235.7h.8M88.7 247.5h.8M82.1 239.3h.8M91.3 244.8h.8M81.2 236.0h.8M95.1 244.9h.8M99.0 250.0h.8M95.1 250.3h.8M98.6 246.3h.8M97.4 247.1h.8M92.0 238.6h.8M83.4 244.3h.8M83.8 240.2h.8M85.4 246.8h.8M88.0 238.5h.8M82.5 245.0h.8M87.2 247.8h.8M84.1 245.7h.8M90.6 253.2h.8M90.9 251.3h.8M89.4 232.4h.8M83.0 245.2h.8M87.7 239.5h.8M86.2 254.5h.8M78.7 243.9h.8M91.0 239.0h.8M85.8 241.2h.8M82.3 237.8h.8M88.9 248.5h.8M90.5 235.3h.8M83.7 251.6h.8M82.6 251.1h.8M89.0 242.9h.8M88.2 243.7h.8M97.1 246.4h.8M81.1 257.3h.8M90.9 248.5h.8M87.7 242.6h.8M92.4 253.4h.8M83.0 244.4h.8M88.4 238.6h.8M86.0 256.1h.8M97.0 253.7h.8M82.9 242.7h.8M82.4 231.3h.8M90.9 241.9h.8M86.5 232.7h.8M92.9 248.7h.8M97.6 254.0h.8M85.5 243.2h.8M90.2 250.0h.8M99.7 236.8h.8M83.2 242.8h.8M85.2 247.2h.8M95.8 244.1h.8M88.6 244.3h.8M81.6 238.2h.8M84.4 237.7h.8M86.3 247.3h.8M99.1 243.8h.8M85.1 247.7h.8M93.3 234.6h.8M93.4 247.0h.8M81.9 248.5h.8M88.5 243.5h.8M85.0 237.8h.8M83.0 248.7h.8M92.6 242.2h.8M86.8 239.6h.8M80.1 235.9h.8M103.7 234.2h.8M90.1 234.1h.8M89.7 237.6h.8M88.0 243.8h.8M92.8 254.3h.8M88.0 235.5h.8M70.1 242.7h.8M95.4 243.0h.8M90.6 237.3h.8M91.5 255.1h.8M83.1 246.4h.8M90.3 247.3h.8M88.6 235.7h.8M70.0 238.5h.8M95.5 241.5h.8M89.4 244.5h.8M91.7 243.5h.8M84.6 240.6h.8M83.9 245.0h.8M87.0 251.1h.8M93.3 245.2h.8M81.7 245.2h.8M80.3 237.0h.8M92.7 234.0h.8M85.6 241.0h.8M83.0 249.4h.8M88.7 242.6h.8M95.4 246.3h.8M96.6 239.6h.8M83.6 245.8h.8M83.3 235.5h.8M85.7 240.0h.8M95.3 246.2h.8M86.1 242.9h.8M84.2 251.7h.8M83.0 243.0h.8M90.6 235.2h.8M77.3 242.1h.8M81.8 238.5h.8M93.9 244.1h.8M99.0 246.8h.8M85.9 250.5h.8M85.0 244.2h.8M93.7 237.9h.8M87.6 248.8h.8M87.1 247.1h.8M86.3 247.0h.8M83.6 245.1h.8M86.0 245.7h.8M80.3 244.0h.8M93.1 241.3h.8M85.7 251.0h.8M80.8 251.2h.8M85.1 246.5h.8M77.7 241.2h.8M79.3 248.5h.8M84.6 240.3h.8M101.3 246.7h.8M87.5 246.9h.8M88.0 245.7h.8M105.4 250.7h.8M88.6 249.1h.8M91.7 247.6h.8M93.1 250.6h.8M103.1 243.7h.8M77.8 241.0h.8M86.3 251.0h.8M92.2 247.6h.8M94.1 247.8h.8M95.2 244.0h.8M91.7 244.0h.8M87.0 246.8h.8M92.3 241.0h.8M86.7 232.8h.8M100.3 251.0h.8M96.4 245.2h.8M90.8 249.1h.8M100.1 249.2h.8M88.8 248.7h.8M101.9 238.1h.8M80.7 247.2h.8M91.7 247.1h.8M87.0 250.6h.8M91.0 250.7h.8M94.7 231.9h.8M87.2 236.0h.8M91.8 248.4h.8M87.1 250.0h.8M90.1 241.1h.8M95.4 246.3h.8M81.6 245.2h.8M100.2 243.3h.8M88.9 255.9h.8M86.5 241.9h.8M83.2 237.6h.8M85.7 249.5h.8M85.6 245.3h.8M95.8 247.8h.8M77.8 245.2h.8M92.7 236.6h.8M82.0 236.9h.8M93.7 242.4h.8M84.4 249.5h.8M83.1 239.8h.8M90.7 239.1h.8M101.1 244.7h.8M89.0 234.6h.8M80.9 247.2h.8M86.9 246.8h.8M90.3 249.3h.8M96.9 252.1h.8M84.0 253.8h.8M80.2 241.7h.8M93.4 245.8h.8M94.8 241.5h.8M85.6 245.0h.8M91.7 234.1h.8M86.5 242.8h.8M92.9 238.3h.8M92.1 239.1h.8M82.4 246.2h.8M76.8 245.1h.8M104.4 243.5h.8M89.9 243.4h.8M90.3 251.9h.8M84.8 245.7h.8M90.4 249.4h.8M88.6 248.7h.8M80.8 248.3h.8M84.1 240.3h.8M98.0 241.7h.8M88.0 247.7h.8M79.2 247.6h.8M99.5 238.6h.8M90.8 246.1h.8M89.4 242.5h.8M89.3 242.5h.8M84.3 244.5h.8M87.1 239.1h.8M81.3 237.9h.8M88.8 247.5h.8M89.5 244.1h.8M87.8 242.5h.8M85.6 253.8h.8M93.8 244.9h.8M100.1 242.7h.8M76.4 238.2h.8M84.9 241.9h.8M103.7 239.0h.8M82.2 245.3h.8M78.9 241.2h.8M93.0 250.2h.8M92.3 239.8h.8M94.6 248.3h.8M84.8 250.7h.8M81.0 243.1h.8M89.6 237.9h.8M91.1 246.5h.8M80.1 236.6h.8M90.4 244.9h.8M82.8 250.3h.8M93.4 249.9h.8M93.1 241.4h.8M86.9 253.4h.8M92.0 237.3h.8M84.0 251.5h.8M96.4 244.0h.8M85.3 238.3h.8M87.5 242.4h.8M86.7 248.7h.8M90.7 249.3h.8M77.9 247.6h.8M97.3 239.0h.8M103.4 239.5h.8M99.8 243.4h.8M86.5 242.3h.8M83.2 240.9h.8M86.4 243.4h.8M83.8 245.5h.8M95.7 245.9h.8M85.0 243.3h.8M95.0 245.8h.8M81.8 253.0h.8M80.7 239.1h.8M88.8 242.2h.8M96.3 243.3h.8M92.4 247.4h.8M78.9 241.4h.8M88.7 241.7h.8M82.4 245.5h.8M102.3 249.2h.8M90.0 237.8h.8M87.8 244.1h.8M75.6 240.7h.8M86.5 238.0h.8M88.7 246.7h.8M92.1 246.0h.8M86.0 236.6h.8M95.7 244.2h.8M94.5 240.4h.8M93.1 244.5h.8M89.8 242.6h.8M93.0 242.9h.8M85.8 245.1h.8M92.3 249.9h.8M89.3 240.8h.8M90.4 246.2h.8M89.2 247.3h.8M95.7 246.7h.8M78.6 251.1h.8M91.3 243.6h.8M86.3 251.6h.8M88.4 249.1h.8M85.1 244.7h.8M84.4 243.1h.8M84.6 247.2h.8M87.9 237.1h.8M99.5 239.8h.8M84.6 244.7h.8M95.2 240.5h.8M78.8 245.0h.8M84.6 240.8h.8M93.4 247.5h.8M103.1 246.2h.8M105.1 245.6h.8M88.8 234.8h.8M85.9 247.2h.8M98.8 244.9h.8M92.4 251.3h.8M100.9 239.6h.8M91.6 241.1h.8M86.1 247.2h.8M79.2 242.8h.8M97.3 240.3h.8M95.3 241.0h.8M83.4 251.5h.8M93.5 243.9h.8M95.7 246.2h.8M83.6 242.4h.8M85.7 253.3h.8M85.4 249.3h.8M82.1 247.6h.8M95.4 232.5h.8M100.5 246.9h.8M96.7 245.1h.8M91.9 248.2h.8M88.9 253.4h.8M100.9 248.7h.8M93.1 247.8h.8M91.1 250.8h.8M86.9 240.0h.8M93.2 254.8h.8M94.8 251.5h.8M91.2 242.0h.8M85.2 246.4h.8M87.7 242.6h.8M95.2 237.7h.8M91.4 234.4h.8M83.2 235.5h.8M87.6 240.8h.8M88.5 244.3h.8M83.4 242.7h.8M102.4 244.0h.8M89.2 244.7h.8M93.9 245.8h.8M89.3 243.6h.8M97.7 239.8h.8M82.5 248.0h.8M89.5 240.3h.8M95.6 245.8h.8M103.0 245.6h.8M98.4 237.4h.8M99.6 243.7h.8M93.0 252.6h.8M77.9 247.9h.8M94.0 239.2h.8M88.7 239.3h.8M93.1 236.8h.8M79.1 249.0h.8M83.2 250.1h.8M100.0 249.5h.8M84.0 246.8h.8M95.0 247.1h.8M94.1 241.9h.8M85.2 257.0h.8M83.4 251.2h.8M99.9 248.4h.8M82.4 242.8h.8M89.7 249.6h.8M96.4 240.0h.8M91.1 248.7h.8M83.7 255.3h.8M91.8 242.7h.8M83.4 244.6h.8M110.5 250.6h.8M78.3 241.6h.8M86.6 247.3h.8M93.3 245.4h.8M95.7 242.1h.8M96.8 244.1h.8M75.4 237.7h.8M78.3 239.3h.8M91.0 251.9h.8M89.8 240.2h.8M82.7 244.5h.8M84.6 249.9h.8M85.3 238.1h.8M93.8 244.9h.8M88.8 244.1h.8M91.2 243.8h.8M78.2 240.0h.8M83.8 258.2h.8M93.9 251.0h.8M88.4 245.2h.8M85.5 242.0h.8M87.6 246.2h.8M83.2 246.2h.8M82.6 244.5h.8M97.9 239.5h.8M92.1 251.8h.8M96.0 239.9h.8M102.7 256.4h.8M89.4 246.5h.8M96.4 250.4h.8M86.9 232.7h.8M95.8 255.1h.8M89.5 237.7h.8M85.3 241.7h.8M90.0 252.3h.8M85.3 238.9h.8M97.0 247.9h.8M96.6 248.5h.8M90.9 244.9h.8M81.2 243.1h.8M86.8 259.0h.8M84.0 249.2h.8M83.9 249.8h.8M84.9 257.5h.8M95.1 244.4h.8M91.0 246.2h.8M89.7 246.1h.8M82.3 252.7h.8M89.8 239.5h.8M90.8 236.4h.8M80.5 246.2h.8M85.3 238.4h.8M100.3 247.5h.8M94.1 246.0h.8M82.9 245.4h.8M82.6 236.7h.8M93.2 238.6h.8M91.6 257.4h.8M94.5 244.3h.8M73.9 244.3h.8M95.9 235.9h.8M82.7 240.7h.8M91.5 245.7h.8M87.5 242.0h.8M93.1 241.4h.8M86.7 251.7h.8M97.9 238.0h.8M85.7 245.0h.8M94.6 253.9h.8M92.6 232.2h.8M91.1 248.5h.8M102.6 244.7h.8M90.7 247.0h.8M90.5 254.2h.8M81.0 252.5h.8M95.2 245.3h.8M96.8 255.4h.8M85.4 237.2h.8M84.2 254.5h.8M84.5 246.6h.8M89.2 238.0h.8M97.9 236.7h.8M93.1 247.4h.8M86.1 252.5h.8M97.6 238.3h.8M89.9 249.5h.8M93.7 242.3h.8M90.3 250.9h.8M90.9 247.8h.8M94.1 241.7h.8M92.2 247.0h.8M99.2 240.8h.8M97.5 240.4h.8M93.6 242.8h.8M82.4 254.3h.8M83.3 241.6h.8M95.2 243.9h.8M89.9 235.2h.8M86.8 254.1h.8M79.3 246.5h.8M93.9 241.0h.8M87.9 240.5h.8M89.0 248.6h.8M86.9 240.9h.8M95.5 250.7h.8M82.9 244.2h.8M103.1 250.9h.8M81.2 242.6h.8M92.6 248.0h.8M89.2 242.3h.8M78.1 244.9h.8M93.2 240.0h.8M96.9 245.2h.8M80.0 237.8h.8M94.3 248.1h.8M96.0 239.4h.8M88.4 257.1h.8M86.3 248.8h.8M83.9 245.2h.8M82.3 242.8h.8M101.5 251.0h.8M96.0 247.6h.8M92.8 245.5h.8M97.6 248.5h.8M94.1 248.9h.8M90.8 244.9h.8M96.4 253.1h.8M80.6 237.5h.8M91.8 235.9h.8M82.7 243.7h.8M93.2 235.6h.8M89.0 247.2h.8M93.9 245.3h.8M84.5 240.8h.8M77.1 250.1h.8M98.1 247.4h.8M87.2 242.9h.8M96.6 242.1h.8M83.1 247.8h.8M96.1 245.4h.8M85.3 240.3h.8M96.7 233.5h.8M82.4 248.5h.8M84.9 243.0h.8M86.3 239.0h.8M72.0 239.8h.8M85.2 246.2h.8M93.0 243.8h.8M82.8 237.0h.8M93.0 247.4h.8M90.7 250.6h.8M81.4 246.4h.8M91.7 244.3h.8M84.3 252.1h.8M78.5 236.5h.8M91.7 249.0h.8M97.0 242.0h.8M86.7 248.0h.8M96.6 243.1h.8M99.8 242.9h.8M85.6 247.9h.8M84.8 243.5h.8M91.0 241.6h.8M92.2 250.3h.8M88.0 249.7h.8M92.4 251.7h.8M85.6 249.3h.8M85.4 246.2h.8M99.0 246.2h.8M80.1 246.4h.8M94.1 241.9h.8M90.9 234.4h.8M96.4 244.3h.8M97.1 251.8h.8M88.2 249.3h.8M90.5 236.4h.8M86.2 236.5h.8M82.8 237.4h.8M78.5 249.3h.8M95.7 245.3h.8M90.3 244.9h.8M90.5 245.7h.8M83.1 246.3h.8M90.0 249.5h.8M92.3 235.6h.8M78.8 247.7h.8M87.5 244.7h.8M89.9 248.6h.8M89.1 244.8h.8M88.8 236.8h.8M90.2 252.5h.8M79.3 241.7h.8M87.1 248.0h.8M80.7 246.4h.8M88.7 248.4h.8M87.1 240.2h.8M94.3 242.0h.8M88.2 251.9h.8M94.3 237.0h.8M97.5 238.7h.8M91.1 242.9h.8M89.2 238.3h.8M87.6 233.6h.8M94.3 246.5h.8M89.3 253.2h.8M84.6 246.4h.8M105.0 249.1h.8M95.2 244.4h.8M87.4 241.5h.8M76.6 239.9h.8M101.7 243.3h.8M88.9 244.0h.8M93.6 247.4h.8M90.1 242.2h.8M87.1 242.8h.8M91.5 241.1h.8M83.0 247.6h.8M86.6 238.6h.8M90.9 253.5h.8M81.2 234.7h.8M91.5 251.6h.8M83.5 244.1h.8M98.5 236.3h.8M87.0 246.4h.8M101.6 249.9h.8M99.3 243.0h.8M89.9 238.1h.8M92.4 249.2h.8M79.6 244.7h.8M92.6 237.7h.8M72.6 237.8h.8M93.3 236.9h.8M94.4 243.7h.8M92.1 242.7h.8M85.3 245.4h.8M90.1 247.2h.8M80.0 252.4h.8M92.6 242.1h.8M90.0 250.9h.8M94.8 246.9h.8M76.1 236.6h.8M79.8 233.0h.8M92.7 247.1h.8M74.3 248.5h.8M98.8 237.7h.8M91.0 253.8h.8M86.9 246.3h.8M92.3 245.5h.8M91.5 253.4h.8M85.2 237.3h.8M80.0 240.0h.8M104.1 241.4h.8M80.4 238.3h.8M77.5 243.0h.8M86.7 238.3h.8M96.9 243.8h.8M100.8 239.7h.8M86.3 250.0h.8" stroke="#6a4a76" stroke-opacity="0.4" stroke-width="0.8" fill="none"/>
<path d="M110.4 218.7h.8M104.5 220.5h.8M96.0 218.6h.8M89.7 219.3h.8M96.6 217.7h.8M96.6 234.7h.8M106.1 234.0h.8M104.2 219.3h.8M94.2 230.2h.8M97.2 229.4h.8M115.4 232.8h.8M107.3 224.0h.8M105.3 226.6h.8M93.6 227.2h.8M97.8 220.7h.8M92.9 232.2h.8M88.8 225.1h.8M102.1 229.4h.8M100.8 238.2h.8M94.4 233.7h.8M95.5 218.0h.8M85.1 222.7h.8M95.6 236.4h.8M96.3 228.2h.8M88.6 237.5h.8M90.9 216.7h.8M99.6 234.1h.8M104.0 219.5h.8M90.9 231.0h.8M84.9 226.7h.8M92.6 230.7h.8M97.1 239.2h.8M91.5 227.8h.8M91.8 230.9h.8M91.9 216.1h.8M97.7 222.5h.8M91.9 223.7h.8M94.0 236.6h.8M106.3 236.8h.8M91.9 236.7h.8M105.3 236.4h.8M96.5 216.9h.8M91.2 232.9h.8M100.2 225.0h.8M102.6 214.6h.8M95.4 238.2h.8M105.4 235.3h.8M99.8 231.9h.8M107.1 229.0h.8M103.0 227.2h.8M96.8 216.3h.8M99.8 229.6h.8M92.3 229.9h.8M98.2 224.4h.8M90.1 212.0h.8M93.1 232.8h.8M90.0 222.5h.8M96.0 235.2h.8M93.5 232.4h.8M87.8 231.2h.8M96.6 228.8h.8M97.5 234.3h.8M85.2 232.6h.8M97.9 232.4h.8M94.0 219.5h.8M91.5 228.1h.8M98.7 235.0h.8M100.6 218.1h.8M88.3 230.8h.8M96.4 217.7h.8M91.2 225.2h.8M93.0 234.9h.8M92.3 223.1h.8M105.8 229.0h.8M100.8 233.0h.8M100.0 234.4h.8M96.8 230.1h.8M91.0 217.3h.8M93.0 229.6h.8M98.1 234.3h.8M96.4 217.2h.8M91.6 234.7h.8M106.3 231.5h.8M112.3 230.7h.8M98.4 225.3h.8M89.4 227.5h.8M99.9 219.8h.8M104.9 224.1h.8M95.9 234.4h.8M98.5 225.2h.8M94.6 227.5h.8M100.7 235.7h.8M91.1 230.2h.8M101.8 231.0h.8M98.7 225.5h.8M89.6 222.1h.8M101.8 239.4h.8M97.3 232.0h.8M101.6 218.5h.8M100.1 218.3h.8M95.8 224.7h.8M98.4 237.8h.8M94.1 237.6h.8M99.7 233.3h.8M91.4 224.1h.8M88.4 233.8h.8M90.4 214.1h.8M105.3 229.0h.8M98.5 239.4h.8M96.7 218.2h.8M94.2 224.2h.8M104.0 218.6h.8M100.2 236.9h.8M102.7 219.7h.8M93.2 233.3h.8M99.9 223.4h.8M94.1 225.2h.8M96.5 236.4h.8M94.8 222.3h.8M97.3 234.0h.8M95.0 215.4h.8M96.0 233.1h.8M98.4 221.0h.8M89.7 227.3h.8M90.6 234.6h.8M99.1 236.0h.8M93.0 224.3h.8M92.1 243.2h.8M101.0 221.4h.8M100.8 218.9h.8M100.7 216.1h.8M96.7 230.8h.8M94.3 214.6h.8M94.7 224.6h.8M86.6 230.1h.8M103.2 231.4h.8M87.3 228.8h.8M97.5 219.0h.8M95.3 223.0h.8M99.9 220.9h.8M99.2 219.2h.8M95.8 236.4h.8M103.4 229.8h.8M96.4 233.8h.8M105.9 229.1h.8M92.2 224.5h.8M87.9 211.5h.8M95.2 241.9h.8M100.5 234.0h.8M82.0 216.6h.8M100.7 234.1h.8M101.3 236.9h.8M92.0 224.2h.8M89.7 233.3h.8M96.0 227.0h.8M90.5 231.7h.8M103.0 224.3h.8M101.2 214.3h.8M103.2 231.8h.8M98.8 220.5h.8M99.5 238.5h.8M93.6 223.4h.8M105.2 227.7h.8M101.1 233.1h.8M103.4 219.3h.8M97.7 227.5h.8M95.0 225.8h.8M101.2 215.1h.8M82.8 234.4h.8M110.4 231.7h.8M91.8 226.8h.8M109.4 222.0h.8M96.3 233.0h.8M84.9 229.6h.8M91.7 230.6h.8M94.6 240.2h.8M98.7 223.8h.8M94.9 235.5h.8M107.0 228.5h.8M101.0 225.2h.8M92.3 227.6h.8M106.0 224.4h.8M100.0 228.6h.8M99.0 221.2h.8M103.8 225.4h.8M104.6 224.0h.8M99.1 223.0h.8M96.4 236.4h.8M96.1 234.3h.8M100.8 224.3h.8M97.1 221.8h.8M92.4 239.6h.8M93.0 224.8h.8M100.7 237.1h.8M95.9 234.8h.8M81.3 228.4h.8M94.2 232.1h.8M89.5 229.0h.8M97.8 237.9h.8M92.4 220.6h.8M104.3 221.1h.8M94.7 224.1h.8M97.1 231.2h.8M93.7 232.7h.8M99.3 223.7h.8M111.5 231.7h.8M94.9 223.0h.8M96.5 225.5h.8M102.5 218.0h.8M89.1 218.0h.8M98.3 214.6h.8M101.3 227.1h.8M96.5 222.0h.8M96.6 237.0h.8M102.7 237.2h.8M88.8 234.7h.8M100.4 219.8h.8M91.8 223.7h.8M96.0 233.6h.8M96.8 216.8h.8M95.2 231.9h.8M88.8 239.2h.8M97.8 229.7h.8M91.4 215.5h.8M107.9 225.4h.8M95.8 239.1h.8M100.9 228.3h.8M95.1 216.4h.8M95.7 231.1h.8M95.5 216.3h.8M105.4 241.2h.8M94.4 222.0h.8M100.5 225.7h.8M97.5 236.1h.8M102.7 231.5h.8M97.9 230.5h.8M96.6 216.9h.8M88.4 218.6h.8M82.1 225.5h.8M110.0 239.8h.8M96.8 233.3h.8M87.5 230.3h.8M94.0 216.2h.8M87.9 227.0h.8M97.3 231.9h.8M96.5 223.4h.8M92.8 217.5h.8M91.6 227.3h.8M99.1 231.1h.8M98.1 222.2h.8M95.9 237.7h.8M94.9 230.0h.8M97.8 226.4h.8M96.4 218.1h.8M87.9 239.4h.8M96.2 233.9h.8M94.5 224.7h.8M103.1 226.5h.8M88.2 232.9h.8M112.8 221.2h.8M98.7 232.7h.8M95.1 239.2h.8M96.2 232.8h.8M93.9 237.2h.8M96.5 229.4h.8M92.2 230.1h.8M107.6 221.7h.8M96.4 233.4h.8M101.9 235.7h.8M101.9 241.0h.8M89.5 235.9h.8M93.4 220.4h.8M91.3 233.0h.8M97.7 220.0h.8M105.0 241.2h.8M97.2 232.6h.8M100.3 215.5h.8M99.6 220.4h.8M96.3 220.2h.8M97.4 233.6h.8M97.8 237.2h.8M95.4 220.7h.8M85.7 222.9h.8M98.6 231.5h.8M97.0 235.2h.8M89.8 219.6h.8M100.2 224.6h.8M95.5 236.5h.8M89.7 238.2h.8M97.4 227.6h.8M91.7 218.3h.8M92.0 224.9h.8M105.8 228.5h.8M88.0 225.6h.8M111.5 223.7h.8M98.3 225.4h.8M98.0 228.9h.8M95.1 232.2h.8M94.3 221.1h.8M107.0 232.7h.8M93.5 220.8h.8M91.7 237.1h.8M89.9 231.1h.8M102.0 235.0h.8M99.7 228.3h.8M89.8 230.0h.8M97.5 225.9h.8M101.3 231.2h.8M92.8 223.6h.8M97.0 235.8h.8M98.3 227.2h.8M85.6 224.2h.8M83.7 227.7h.8M87.9 234.0h.8M110.8 225.3h.8M94.9 222.7h.8M91.0 229.5h.8M101.6 233.7h.8M100.0 233.8h.8M80.8 235.3h.8M99.3 232.1h.8M88.2 220.5h.8M97.6 220.4h.8M90.3 224.3h.8M101.8 234.8h.8M100.7 234.8h.8M102.8 221.2h.8M98.9 229.2h.8M94.1 232.5h.8M104.9 229.4h.8M88.0 221.1h.8M95.3 220.0h.8M99.0 233.7h.8M89.3 228.7h.8M93.7 222.5h.8M92.0 220.8h.8M108.8 219.3h.8M101.9 227.5h.8M96.4 214.2h.8M101.2 214.9h.8M101.6 238.1h.8M90.2 220.4h.8M98.6 215.0h.8M104.6 236.1h.8M96.8 221.2h.8M98.7 228.0h.8M99.1 236.5h.8M85.1 226.0h.8M96.5 227.9h.8M94.3 226.1h.8" stroke="#8a6a90" stroke-opacity="0.32" stroke-width="0.8" fill="none"/>
<path d="M110.3 248.3h.8M121.2 257.6h.8M99.9 242.0h.8M134.0 264.9h.8M104.2 255.2h.8M117.9 255.3h.8M103.0 246.8h.8M113.5 262.9h.8M106.8 245.8h.8M106.8 243.8h.8M104.1 256.6h.8M116.2 257.0h.8M113.7 261.8h.8M116.7 254.2h.8M120.3 257.4h.8M108.1 255.9h.8M114.2 254.3h.8M101.0 254.1h.8M106.9 251.4h.8M127.2 265.5h.8M115.5 253.1h.8M124.4 258.7h.8M104.3 256.6h.8M111.9 257.4h.8M103.3 251.7h.8M106.4 255.3h.8M110.1 245.8h.8M128.3 263.4h.8M100.5 248.5h.8M123.6 264.7h.8M112.1 256.7h.8M111.6 259.0h.8M118.8 255.5h.8M111.4 250.3h.8M120.2 259.1h.8M122.9 261.7h.8M100.9 249.8h.8M117.1 255.4h.8M102.6 253.5h.8M118.5 258.1h.8M106.2 247.0h.8M115.3 261.0h.8M94.1 244.9h.8M119.1 256.8h.8M124.4 263.0h.8M126.1 262.6h.8M119.3 259.7h.8M114.5 258.3h.8M106.7 253.8h.8M102.1 244.5h.8M122.9 268.5h.8M100.4 249.6h.8M111.5 249.3h.8M97.6 251.9h.8M126.3 263.9h.8M118.2 264.2h.8M118.5 252.6h.8M108.3 250.3h.8M123.4 262.2h.8M118.5 262.5h.8M103.5 248.8h.8M108.2 247.2h.8M121.4 257.1h.8M127.5 256.8h.8M111.7 250.0h.8M125.4 263.0h.8M117.9 262.1h.8M117.5 258.8h.8M122.1 256.5h.8M121.4 263.4h.8M117.7 259.0h.8M118.9 256.1h.8M106.5 247.4h.8M122.4 251.9h.8M109.5 257.1h.8M117.5 260.5h.8M119.2 262.9h.8M124.3 257.3h.8M116.0 249.6h.8M116.1 258.5h.8M128.1 260.4h.8M116.5 259.8h.8M108.0 245.8h.8M115.9 256.1h.8M127.4 258.8h.8M101.4 247.3h.8M119.6 257.4h.8M109.3 244.5h.8M103.7 253.7h.8M105.1 249.5h.8M107.5 251.4h.8M119.8 262.2h.8M114.7 252.3h.8M118.2 259.4h.8M103.5 250.1h.8M115.8 255.6h.8M122.2 256.1h.8M124.4 254.2h.8M130.5 269.4h.8M126.6 267.8h.8M125.4 266.2h.8M120.7 255.3h.8M112.7 257.8h.8M109.3 252.1h.8M100.0 246.3h.8M125.5 260.1h.8M120.5 262.7h.8M105.3 252.2h.8M104.3 252.5h.8M105.6 245.6h.8M122.2 260.1h.8M131.2 256.7h.8M99.0 249.0h.8M102.7 248.4h.8M109.9 252.6h.8M113.7 246.7h.8M107.6 246.6h.8M109.9 254.2h.8M115.1 252.0h.8M106.1 250.8h.8M114.7 250.6h.8M111.3 257.2h.8M108.7 257.1h.8M117.9 257.5h.8M103.6 246.7h.8M103.3 253.0h.8M126.5 259.5h.8M107.6 245.4h.8M116.8 250.0h.8M115.9 256.3h.8M117.9 257.7h.8M113.3 254.6h.8M123.1 254.5h.8M123.0 259.0h.8M114.9 253.2h.8M101.5 253.2h.8M133.7 265.0h.8M127.7 263.7h.8M109.2 250.2h.8M115.6 260.4h.8M114.7 250.5h.8M112.2 246.3h.8M118.6 259.2h.8M115.9 249.8h.8M103.3 254.4h.8M112.4 250.5h.8M116.1 258.4h.8M103.0 243.5h.8M105.8 251.7h.8M100.4 252.4h.8M95.2 247.1h.8M108.3 255.2h.8M120.9 253.6h.8M115.5 254.4h.8M110.3 253.1h.8M107.8 256.5h.8M110.2 249.0h.8M103.6 249.9h.8M101.4 241.9h.8M122.4 257.9h.8M122.9 255.2h.8M114.8 256.4h.8M122.1 260.8h.8M115.4 251.7h.8M105.4 253.0h.8M116.5 263.0h.8M126.2 257.5h.8M116.0 258.3h.8M120.3 261.8h.8M133.7 264.2h.8M111.7 258.1h.8M125.5 265.3h.8M112.7 259.3h.8M116.3 257.0h.8M97.4 246.2h.8M129.8 257.2h.8M109.6 246.0h.8M116.3 255.9h.8M119.6 258.0h.8M112.7 255.4h.8M123.7 255.0h.8M127.1 267.6h.8M111.3 252.1h.8M120.2 261.6h.8M104.8 257.0h.8M115.2 257.3h.8M104.7 253.4h.8M111.1 247.4h.8M109.4 252.5h.8M113.3 258.9h.8M118.8 258.4h.8M126.9 258.6h.8M128.0 261.9h.8M108.9 244.3h.8M117.4 255.2h.8M116.1 252.9h.8M124.1 261.4h.8M120.3 254.3h.8M122.2 255.6h.8M108.7 257.7h.8M124.8 264.0h.8M103.2 256.8h.8M98.5 246.1h.8M116.3 258.7h.8M121.9 262.8h.8M115.6 254.6h.8M114.5 258.2h.8M125.7 258.5h.8M127.6 261.8h.8M135.0 260.9h.8M110.4 248.9h.8M104.1 250.1h.8M102.0 247.6h.8M110.9 250.0h.8M120.1 257.2h.8M110.0 253.9h.8M114.6 257.2h.8M109.5 250.0h.8M115.6 251.7h.8M117.3 258.4h.8M120.2 261.7h.8M105.5 254.8h.8M119.6 260.4h.8M108.5 252.9h.8M113.8 259.6h.8M105.9 252.1h.8M125.1 257.8h.8M105.2 253.0h.8M106.3 242.3h.8M114.1 257.6h.8M107.1 251.8h.8M126.0 264.2h.8M110.6 255.8h.8M111.8 254.9h.8M103.7 255.1h.8M107.2 259.7h.8M130.8 258.8h.8M108.4 256.8h.8M118.1 259.1h.8M132.6 265.1h.8M119.9 263.0h.8M112.4 255.8h.8M110.6 257.7h.8M118.9 263.2h.8M116.5 257.3h.8M114.9 255.2h.8M115.7 253.7h.8M129.3 259.6h.8M124.8 262.8h.8M124.6 259.7h.8M123.0 264.7h.8M104.7 248.5h.8M103.2 251.1h.8M126.8 265.5h.8M119.1 254.9h.8M103.8 253.8h.8M115.9 260.3h.8M100.6 243.3h.8M117.9 254.6h.8M114.8 255.1h.8M117.4 248.8h.8M102.9 255.8h.8M99.8 255.6h.8M111.6 250.8h.8M109.8 252.4h.8M110.4 249.2h.8M124.8 264.3h.8M127.9 268.2h.8M127.9 258.2h.8M123.6 266.1h.8M98.2 247.2h.8M115.0 254.9h.8M110.2 260.6h.8M107.6 249.4h.8M106.4 255.7h.8M98.6 242.5h.8M134.6 263.3h.8M110.7 251.0h.8M117.0 255.4h.8M113.0 257.2h.8M102.1 247.4h.8M107.1 244.7h.8M130.8 260.1h.8M123.0 264.0h.8M124.6 260.4h.8M128.8 254.7h.8M123.3 259.4h.8M121.6 253.6h.8M120.0 254.2h.8M108.7 254.5h.8M119.4 259.8h.8M126.3 266.6h.8M112.1 256.9h.8M114.9 251.6h.8M109.5 250.4h.8M124.8 264.4h.8M111.3 258.3h.8M108.7 255.3h.8M120.2 262.6h.8M121.6 256.7h.8M106.8 248.9h.8M113.3 252.2h.8M108.5 261.8h.8M98.7 256.6h.8M114.8 258.4h.8M112.6 247.0h.8M110.0 250.7h.8M126.6 264.8h.8M123.6 256.8h.8M99.3 243.0h.8M103.0 249.6h.8M117.1 256.7h.8M119.7 258.0h.8M124.5 269.2h.8M107.9 246.1h.8M107.9 250.5h.8M118.4 255.5h.8M114.0 254.6h.8M124.5 252.4h.8M123.7 265.7h.8M104.7 248.9h.8M117.8 255.3h.8M109.2 253.1h.8M109.8 252.3h.8M99.3 244.5h.8M102.9 253.1h.8M122.7 259.7h.8M101.3 252.9h.8M123.0 257.1h.8M108.5 255.4h.8M103.7 250.6h.8M113.3 248.5h.8M120.1 261.7h.8M96.9 251.8h.8M102.0 253.4h.8M106.0 253.9h.8M124.6 266.4h.8M121.6 260.1h.8M113.6 254.7h.8M111.9 250.6h.8M124.3 262.6h.8M127.1 258.1h.8M122.3 263.5h.8M108.4 251.0h.8M118.2 256.7h.8M111.3 252.3h.8M119.5 263.4h.8M128.8 250.3h.8M115.3 258.5h.8M100.3 254.2h.8M119.3 254.0h.8M118.1 266.7h.8M101.7 248.8h.8M117.1 258.1h.8M109.1 261.0h.8M95.7 248.4h.8M108.2 254.4h.8M110.3 250.8h.8M101.8 247.8h.8M120.0 266.3h.8M112.4 254.5h.8M113.8 254.0h.8M125.4 258.7h.8M114.6 256.3h.8M100.9 252.1h.8M98.8 247.8h.8M130.7 263.2h.8M93.7 251.0h.8M125.5 257.2h.8M115.1 254.1h.8M117.5 253.3h.8M112.5 252.7h.8M93.7 242.8h.8M106.4 254.2h.8M123.3 264.6h.8M122.1 254.1h.8M99.5 244.4h.8M110.1 253.9h.8M131.7 256.7h.8M123.0 267.9h.8M121.5 260.5h.8M100.5 252.5h.8M123.3 259.0h.8M111.6 259.7h.8M97.3 254.1h.8M110.3 260.2h.8M116.6 257.1h.8M114.5 254.0h.8M110.9 244.5h.8M113.2 256.8h.8M129.9 265.9h.8M113.2 249.8h.8M109.3 253.4h.8M116.9 254.6h.8M125.5 257.7h.8M117.7 255.7h.8M113.5 257.1h.8M117.8 259.9h.8M123.3 266.8h.8M118.3 253.4h.8M104.3 237.8h.8M113.1 250.5h.8M98.8 249.3h.8M101.3 257.3h.8M97.9 251.5h.8M113.8 255.2h.8M107.4 253.6h.8M125.5 257.5h.8M124.5 265.2h.8M115.4 257.3h.8M109.7 250.4h.8M120.0 257.3h.8M110.3 254.0h.8M120.1 260.2h.8M127.3 261.2h.8M115.6 255.3h.8M108.2 254.9h.8M129.1 262.4h.8M109.6 253.8h.8M125.9 265.4h.8M126.8 259.4h.8M107.6 248.7h.8M120.0 260.5h.8M114.5 248.4h.8M114.2 258.2h.8M128.9 260.7h.8M102.2 253.9h.8M115.7 260.7h.8M105.3 260.6h.8M98.5 247.2h.8M116.4 256.7h.8M123.4 259.8h.8M122.9 258.4h.8M115.2 247.6h.8M107.0 251.8h.8M123.3 260.1h.8M119.9 261.3h.8M101.1 252.2h.8M100.6 250.0h.8M110.4 255.2h.8M123.1 263.6h.8M110.5 253.3h.8M124.6 262.5h.8M120.8 258.7h.8M120.4 262.2h.8M128.2 267.1h.8M123.1 261.8h.8M124.1 261.2h.8M107.2 254.4h.8M112.4 250.1h.8M119.9 263.0h.8M126.5 261.4h.8M95.4 248.2h.8M106.0 250.9h.8M105.9 249.0h.8M98.8 251.6h.8M118.1 261.0h.8M124.4 270.7h.8M103.7 251.8h.8M128.7 272.3h.8M119.1 257.0h.8M126.3 258.7h.8M116.0 260.3h.8M117.4 261.2h.8M122.3 260.8h.8M109.5 255.4h.8M106.9 247.9h.8M123.8 249.4h.8M114.3 259.7h.8M96.3 243.6h.8M105.7 248.9h.8M115.6 254.4h.8M108.5 254.8h.8M113.6 250.5h.8M115.0 259.5h.8M122.1 254.9h.8M114.5 264.5h.8M111.4 255.3h.8M124.7 257.9h.8M109.5 253.5h.8M111.3 247.6h.8M120.6 256.8h.8M126.4 259.6h.8M111.7 250.3h.8M129.9 261.6h.8M102.0 248.7h.8M120.6 259.6h.8M101.3 244.7h.8M100.5 247.6h.8M129.5 261.7h.8M111.2 255.9h.8M122.6 262.9h.8M106.7 242.0h.8M120.4 260.4h.8M123.0 256.8h.8M123.0 260.3h.8M125.6 259.6h.8M107.9 247.1h.8M126.5 261.3h.8M125.8 262.0h.8M107.5 263.2h.8M115.6 258.2h.8M114.9 264.0h.8M120.4 266.9h.8M130.2 264.0h.8M115.0 253.5h.8M119.9 253.1h.8M109.2 252.6h.8M111.3 258.9h.8M118.3 258.4h.8M124.4 265.6h.8M117.6 261.0h.8M108.9 254.6h.8M118.7 253.9h.8M109.5 256.8h.8M131.0 264.7h.8M109.1 250.3h.8M121.4 256.4h.8M132.8 259.5h.8M121.6 257.0h.8M121.0 263.4h.8M106.4 255.0h.8M121.7 254.9h.8M112.7 252.5h.8M117.6 255.6h.8M129.8 264.8h.8M119.4 256.7h.8M116.3 260.0h.8M116.1 253.7h.8M108.0 265.7h.8M114.4 251.6h.8M111.8 261.9h.8M118.9 254.6h.8M110.4 261.0h.8M107.9 251.5h.8M104.7 249.0h.8M106.0 248.1h.8M114.7 259.2h.8M124.4 262.8h.8M115.0 252.8h.8M122.6 264.8h.8M118.8 257.7h.8M108.5 254.3h.8M114.7 253.7h.8M118.3 254.8h.8M121.3 259.1h.8M120.6 263.0h.8M113.6 261.3h.8M102.7 247.5h.8M117.3 258.6h.8M121.7 257.0h.8M106.8 257.4h.8M104.5 251.8h.8M108.4 250.9h.8M100.3 253.2h.8M103.7 246.2h.8M115.9 253.5h.8M107.6 248.0h.8M121.7 258.5h.8M125.9 255.0h.8M121.8 255.5h.8M102.8 245.6h.8M129.8 265.4h.8M115.4 260.3h.8M116.0 258.2h.8M123.3 257.5h.8M122.6 259.5h.8M110.9 253.0h.8M110.7 255.6h.8M113.1 250.3h.8M125.1 257.3h.8M102.1 254.7h.8M106.3 247.5h.8M114.3 257.6h.8M120.3 257.9h.8M98.1 248.0h.8M100.1 246.7h.8M123.4 257.2h.8M98.9 251.7h.8M122.4 266.9h.8M107.3 246.3h.8M104.7 249.7h.8M113.6 254.4h.8M116.4 258.5h.8M100.6 252.4h.8M115.6 254.7h.8M123.6 257.5h.8M111.7 255.0h.8M121.5 261.8h.8M110.8 257.1h.8M100.1 250.5h.8M106.4 253.5h.8M121.3 265.1h.8M129.0 261.3h.8M102.7 251.7h.8M100.6 245.1h.8M112.5 255.2h.8M96.4 247.0h.8M103.3 247.5h.8M113.3 250.2h.8M103.5 257.5h.8M116.4 248.2h.8M98.4 253.3h.8M115.4 256.8h.8M126.5 263.9h.8M121.2 259.7h.8M122.9 259.4h.8M100.0 244.9h.8M125.8 259.4h.8M126.9 267.3h.8M100.5 246.1h.8M120.2 258.1h.8M113.9 249.2h.8M102.1 252.9h.8M109.6 255.4h.8M121.5 266.9h.8M123.6 258.6h.8M120.8 260.2h.8M120.2 261.4h.8M105.3 246.3h.8M104.0 251.8h.8M128.4 267.9h.8M101.0 247.7h.8M127.1 263.8h.8M96.8 251.8h.8M120.7 264.8h.8M118.9 259.6h.8M126.7 264.5h.8M102.6 252.3h.8M126.5 258.5h.8M117.1 256.9h.8M125.2 267.1h.8M131.1 267.3h.8M118.0 255.7h.8M122.3 254.5h.8M105.6 248.3h.8M124.3 265.5h.8M122.6 257.1h.8M123.6 253.5h.8M103.4 243.5h.8M105.3 256.1h.8M113.4 257.2h.8M124.6 259.1h.8M117.0 263.3h.8M122.9 257.1h.8M119.3 257.3h.8M115.5 251.5h.8M101.6 251.0h.8M130.4 259.5h.8M120.1 252.9h.8M114.6 258.1h.8M116.1 259.9h.8M103.5 244.3h.8M96.6 246.8h.8M113.9 254.4h.8M122.0 260.5h.8M114.3 254.3h.8M124.2 263.7h.8M111.4 250.9h.8M115.3 260.6h.8M128.6 261.5h.8M103.0 242.9h.8M103.8 249.8h.8M103.5 247.6h.8M114.9 257.7h.8M106.2 248.2h.8M122.1 262.7h.8M115.1 256.2h.8M102.5 261.4h.8M98.0 250.8h.8M116.2 257.6h.8M115.4 251.4h.8M119.3 258.1h.8M121.0 264.8h.8M123.9 260.7h.8M120.9 261.7h.8M123.2 253.4h.8M123.3 258.4h.8M120.4 257.3h.8M118.2 260.9h.8M126.8 257.7h.8M104.7 246.5h.8M96.2 249.6h.8M112.6 258.5h.8M122.3 257.0h.8M102.3 240.4h.8M100.7 251.2h.8M123.6 263.8h.8M130.9 264.2h.8M128.7 266.8h.8M103.5 253.8h.8M105.5 252.0h.8M114.8 255.2h.8M111.0 258.1h.8M121.7 260.4h.8M100.8 247.6h.8M121.8 259.3h.8M94.9 244.2h.8M102.9 247.2h.8M125.5 264.9h.8M107.5 251.0h.8M105.8 248.3h.8M101.9 248.3h.8M117.4 254.5h.8M117.0 253.1h.8M115.0 254.8h.8M131.5 258.5h.8M98.2 249.9h.8M107.4 259.8h.8M111.0 251.6h.8M121.3 265.7h.8M109.2 248.5h.8M118.1 258.0h.8M107.4 260.8h.8M113.9 256.9h.8M116.4 252.8h.8M109.4 249.3h.8M119.5 267.7h.8M117.1 251.4h.8M106.4 255.8h.8M115.1 254.2h.8M115.6 257.8h.8M114.9 263.1h.8M95.2 243.5h.8M101.5 249.0h.8M116.5 253.3h.8M113.1 252.8h.8M118.6 259.6h.8M129.8 261.8h.8M105.6 248.5h.8M129.4 259.3h.8M118.1 254.2h.8M117.0 259.1h.8M116.6 253.8h.8M120.9 259.4h.8M122.9 256.6h.8M122.4 256.2h.8M124.5 256.8h.8M107.0 254.2h.8M114.1 255.7h.8M127.1 260.1h.8M112.5 256.1h.8M121.5 254.4h.8M110.1 253.5h.8M125.0 264.6h.8M120.4 259.0h.8M120.0 263.2h.8M105.5 254.0h.8M117.2 252.0h.8M111.3 245.3h.8M119.9 266.9h.8M114.6 252.6h.8M124.7 266.0h.8M120.8 253.4h.8M121.3 263.6h.8M126.4 260.2h.8M104.7 253.5h.8M120.2 259.9h.8M108.3 248.1h.8M112.9 254.8h.8M108.6 248.4h.8M98.6 243.4h.8M117.5 251.4h.8M120.0 258.2h.8M110.4 250.2h.8M111.2 249.3h.8M107.6 258.8h.8M127.2 259.8h.8M121.9 265.4h.8M114.0 258.7h.8M106.6 253.0h.8M102.2 256.6h.8M122.2 258.0h.8M124.8 256.8h.8M117.2 259.5h.8M98.4 248.9h.8M112.7 258.3h.8M107.4 249.7h.8M127.3 256.2h.8M109.5 259.2h.8M115.0 255.4h.8M113.2 257.3h.8M122.8 255.2h.8M106.4 245.7h.8M104.7 250.1h.8M120.7 265.3h.8M107.0 247.6h.8M100.5 252.8h.8M128.8 267.9h.8M121.5 261.3h.8M99.3 253.1h.8M115.1 258.2h.8M125.4 261.1h.8M128.0 271.3h.8M126.8 262.8h.8M111.3 255.3h.8M122.9 250.2h.8M104.5 243.5h.8M106.0 254.0h.8M109.6 253.5h.8M130.4 264.2h.8M107.2 248.9h.8M114.1 262.5h.8M127.5 266.4h.8M114.4 252.4h.8M121.1 257.6h.8M119.2 259.7h.8M100.3 247.4h.8M120.7 258.8h.8M124.5 257.9h.8M127.0 259.1h.8M116.7 253.5h.8M114.1 258.6h.8M116.9 262.1h.8M113.0 250.8h.8M114.5 252.0h.8M110.5 255.3h.8M104.2 243.4h.8M102.3 250.5h.8M129.9 266.4h.8M105.0 250.3h.8M111.7 266.7h.8M116.8 260.4h.8M111.6 257.5h.8M131.0 263.3h.8M119.5 253.7h.8M127.1 256.1h.8M106.5 254.4h.8M117.5 258.3h.8M122.1 261.7h.8M104.0 254.4h.8M106.6 248.7h.8M114.2 254.2h.8M118.4 255.7h.8M100.1 252.8h.8M105.7 252.8h.8M121.4 266.0h.8M120.6 252.4h.8M114.5 253.5h.8M121.2 262.5h.8M130.6 265.5h.8M129.6 262.9h.8M105.2 245.7h.8M103.9 243.0h.8M96.6 249.2h.8M120.5 254.8h.8M111.9 249.8h.8M108.6 244.7h.8M109.0 254.0h.8M116.0 259.2h.8M125.7 262.4h.8M103.3 243.3h.8M112.6 252.0h.8M103.5 253.2h.8M103.6 251.6h.8M123.5 264.8h.8M113.7 252.8h.8M117.6 255.4h.8M110.4 251.1h.8M120.6 259.1h.8M126.6 259.6h.8M99.0 252.0h.8M103.7 249.7h.8M121.2 259.2h.8M101.3 240.5h.8M112.8 256.2h.8M128.7 259.5h.8M123.3 258.5h.8M95.2 247.7h.8M105.5 245.1h.8M105.8 257.5h.8M114.9 250.6h.8M112.2 248.4h.8M116.0 253.8h.8M123.6 261.2h.8M117.7 252.9h.8M115.5 252.1h.8M117.3 255.9h.8M114.3 250.3h.8M112.8 262.9h.8M118.0 259.4h.8M129.0 264.1h.8M120.9 262.4h.8M99.2 248.8h.8M126.0 263.5h.8M126.9 262.5h.8M107.3 256.1h.8M111.3 250.0h.8M107.4 254.2h.8M98.0 250.0h.8M107.1 251.1h.8M99.8 252.6h.8M119.4 258.6h.8M97.2 248.1h.8M106.4 249.0h.8M106.6 256.6h.8M110.0 253.4h.8M110.2 246.6h.8M119.2 257.5h.8M115.4 253.1h.8M120.1 258.3h.8M124.7 262.2h.8M100.9 247.5h.8M110.1 252.8h.8M130.1 260.5h.8M126.9 271.8h.8M116.5 255.4h.8M108.6 260.3h.8M101.7 246.4h.8M119.6 258.9h.8M114.2 252.1h.8M124.9 253.7h.8M121.0 262.1h.8M102.4 241.3h.8M130.1 264.0h.8M124.3 261.5h.8M128.3 267.7h.8M109.6 250.4h.8M108.8 246.8h.8M110.3 244.7h.8M111.0 253.4h.8M120.0 255.6h.8M95.1 245.8h.8M117.0 249.1h.8M130.9 271.7h.8M125.5 259.9h.8M112.4 256.5h.8M102.5 249.4h.8M128.4 263.4h.8M112.2 254.9h.8M110.4 260.3h.8M103.4 258.6h.8M125.5 264.8h.8M118.4 264.0h.8M116.0 254.6h.8M110.3 251.3h.8M117.4 253.8h.8M106.2 249.2h.8M124.3 264.3h.8M106.2 256.0h.8M112.4 256.3h.8M105.2 248.4h.8M111.1 250.9h.8M120.6 252.6h.8M110.8 257.7h.8M122.4 262.3h.8M115.5 250.1h.8M110.8 252.4h.8M130.2 261.7h.8M129.9 261.5h.8M110.3 260.6h.8M127.6 262.0h.8M108.3 250.5h.8M119.2 258.8h.8M110.6 254.9h.8M112.5 253.4h.8M105.1 251.6h.8M114.7 256.0h.8M104.5 249.2h.8M120.0 263.3h.8M107.3 255.9h.8M122.9 263.7h.8M115.9 258.0h.8M110.4 266.6h.8M100.3 251.9h.8M121.2 262.0h.8M101.8 247.9h.8M112.4 250.1h.8M120.4 253.5h.8M121.5 256.4h.8M95.2 246.1h.8M108.4 256.9h.8M103.4 245.7h.8M125.8 266.7h.8M110.2 247.3h.8M121.2 259.1h.8M106.4 258.1h.8M113.9 256.4h.8M101.0 239.0h.8M122.7 257.5h.8M110.7 253.7h.8M124.3 263.2h.8M93.0 250.8h.8M124.9 265.4h.8M121.9 257.3h.8M115.1 255.7h.8M103.9 252.0h.8M102.3 250.7h.8M101.9 251.3h.8M128.5 271.3h.8M108.4 253.8h.8M117.9 256.0h.8M131.7 266.2h.8M122.0 260.6h.8M127.3 265.6h.8M109.7 255.4h.8M107.6 249.7h.8M132.0 262.5h.8M114.6 261.6h.8M111.2 254.9h.8M105.1 248.1h.8M119.3 255.5h.8M126.8 270.6h.8M123.9 256.1h.8M125.0 263.8h.8M113.7 255.7h.8M106.5 256.9h.8M109.6 256.8h.8M114.3 249.7h.8M117.6 257.6h.8M122.0 267.7h.8M135.0 261.1h.8M114.0 261.1h.8M100.8 249.2h.8M119.7 256.4h.8M109.3 256.8h.8M108.3 254.6h.8M119.2 264.7h.8M122.7 258.2h.8M110.2 257.7h.8M106.1 245.4h.8M128.3 262.2h.8M110.9 252.1h.8M123.7 260.4h.8M110.9 252.5h.8M119.9 258.6h.8M93.7 247.2h.8M107.6 258.3h.8M117.3 260.0h.8M112.8 263.7h.8M110.9 249.3h.8M115.8 253.1h.8M106.2 242.0h.8M114.2 257.6h.8M114.1 248.2h.8M115.1 255.0h.8M106.8 244.8h.8M111.3 250.1h.8M116.2 255.1h.8M116.5 255.1h.8M111.6 253.3h.8M99.4 248.5h.8M100.3 248.2h.8M115.0 252.7h.8M120.3 258.2h.8M102.2 242.8h.8M128.9 252.7h.8M123.9 258.9h.8M118.2 255.3h.8M117.7 259.0h.8M119.0 253.8h.8M110.2 248.0h.8M116.9 259.8h.8M111.9 253.4h.8M109.8 250.3h.8M118.0 256.3h.8M110.1 246.1h.8M124.3 256.8h.8M116.8 250.4h.8M122.2 256.7h.8M126.0 260.5h.8M127.2 257.1h.8M104.2 251.1h.8M104.0 251.6h.8M118.4 256.0h.8M105.3 254.5h.8M112.7 252.5h.8M108.3 249.7h.8M122.5 258.4h.8M122.8 262.9h.8M132.9 266.2h.8M111.6 257.5h.8M96.0 242.8h.8M121.0 258.6h.8M127.1 261.7h.8M131.8 262.3h.8M98.2 248.2h.8M97.4 253.0h.8M106.2 244.2h.8M118.0 255.8h.8M126.9 259.8h.8M117.3 259.4h.8M110.8 254.5h.8M97.7 243.7h.8M109.2 247.2h.8M106.1 249.5h.8M100.3 243.0h.8M118.3 253.8h.8M108.2 253.6h.8M125.2 257.7h.8M103.8 251.3h.8M112.5 249.2h.8M127.3 269.0h.8M110.5 256.0h.8M99.9 252.5h.8M100.3 250.9h.8M117.0 251.2h.8M113.2 251.7h.8M103.8 241.4h.8M97.7 244.6h.8" stroke="#4a8a58" stroke-opacity="0.4" stroke-width="0.8" fill="none"/>
<path d="M92.1 255.7h.8M83.2 246.1h.8M72.3 261.7h.8M77.3 265.2h.8M69.7 266.3h.8M81.5 272.3h.8M78.0 266.4h.8M73.5 260.7h.8M88.6 257.3h.8M85.1 256.2h.8M78.9 259.3h.8M86.8 263.2h.8M78.4 271.9h.8M68.6 271.4h.8M84.4 259.0h.8M80.7 254.1h.8M69.1 257.3h.8M79.7 257.8h.8M87.1 265.6h.8M74.2 261.9h.8M78.9 266.7h.8M78.5 267.7h.8M80.0 265.1h.8M89.0 266.4h.8M82.6 261.4h.8M88.3 266.2h.8M76.6 252.8h.8M75.5 266.5h.8M77.0 269.8h.8M86.2 251.2h.8M78.4 267.9h.8M71.5 261.1h.8M76.2 260.4h.8M65.4 269.8h.8M82.8 259.1h.8M62.8 266.1h.8M80.0 262.8h.8M77.3 266.3h.8M80.1 259.4h.8M61.1 268.6h.8M84.6 262.6h.8M86.2 266.6h.8M90.2 253.4h.8M76.9 246.3h.8M87.5 250.3h.8M72.4 265.7h.8M81.9 255.4h.8M79.7 270.9h.8M86.2 261.8h.8M81.7 264.1h.8M78.6 271.7h.8M83.1 265.7h.8M69.1 263.4h.8M79.0 256.9h.8M83.9 269.1h.8M78.2 263.2h.8M79.7 269.4h.8M79.7 256.6h.8M86.3 251.5h.8M83.6 277.4h.8M77.7 266.8h.8M62.6 258.4h.8M84.5 261.3h.8M81.3 259.2h.8M78.0 254.6h.8M89.7 254.5h.8M76.0 262.3h.8M84.8 256.6h.8M75.3 258.1h.8M83.4 257.9h.8M76.8 263.8h.8M68.3 266.5h.8M76.7 265.6h.8M77.6 265.4h.8M79.7 262.1h.8M75.7 264.8h.8M78.7 260.0h.8M81.8 264.4h.8M74.5 274.7h.8M72.1 262.6h.8M74.0 254.4h.8M78.3 265.6h.8M78.3 266.6h.8M75.6 263.6h.8M70.9 264.6h.8M78.7 268.7h.8M85.1 258.8h.8M85.4 265.2h.8M72.1 272.6h.8M70.2 277.6h.8M88.2 263.1h.8M80.3 265.9h.8M78.4 253.3h.8M69.3 272.2h.8M80.0 268.4h.8M83.2 253.6h.8M84.3 256.6h.8M78.3 256.9h.8M74.6 271.8h.8M77.7 264.9h.8M86.2 266.9h.8M85.8 265.8h.8M72.0 275.8h.8M79.0 272.1h.8M80.4 262.3h.8M76.9 275.7h.8M76.3 261.0h.8M69.0 261.8h.8M79.3 266.3h.8M80.4 258.5h.8M79.1 267.8h.8M83.7 265.8h.8M81.3 256.2h.8M86.7 250.6h.8M85.1 260.2h.8M78.1 262.1h.8M82.2 243.2h.8M83.0 267.0h.8M87.9 270.2h.8M85.0 269.2h.8M73.0 268.0h.8M77.6 271.9h.8M82.8 262.5h.8M86.9 266.9h.8M68.9 261.8h.8M77.9 257.2h.8M65.8 274.9h.8M79.8 250.5h.8M72.2 277.1h.8M76.6 254.9h.8M88.3 268.7h.8M75.7 275.6h.8M74.4 270.5h.8M81.7 255.0h.8M92.9 261.0h.8M83.9 260.1h.8M80.0 250.6h.8M83.3 251.9h.8M81.0 257.0h.8M82.1 262.6h.8M75.2 266.7h.8M79.3 265.3h.8M77.3 268.0h.8M84.1 263.0h.8M78.6 264.5h.8M86.7 264.0h.8M87.3 265.8h.8M88.0 256.4h.8M76.4 260.9h.8M85.7 266.9h.8M77.9 261.4h.8M78.0 265.1h.8M79.4 260.9h.8M83.7 252.3h.8M77.4 245.1h.8M77.4 252.4h.8M78.5 272.3h.8M76.8 265.9h.8M85.4 273.7h.8M75.6 264.9h.8M83.0 259.3h.8M84.1 262.4h.8M77.9 255.8h.8M89.1 257.5h.8M80.1 268.1h.8M91.3 256.7h.8M82.8 271.9h.8M82.7 246.6h.8M78.3 264.5h.8M88.0 261.4h.8M84.1 249.2h.8M72.6 270.2h.8M83.1 261.0h.8M79.5 263.9h.8M80.0 260.5h.8M76.5 265.5h.8M80.6 269.4h.8M81.8 276.0h.8M82.9 262.6h.8M72.5 256.5h.8M72.6 252.0h.8M75.1 256.6h.8M78.9 252.9h.8M78.0 256.9h.8M77.4 275.3h.8M81.5 259.3h.8M81.5 251.7h.8M75.1 273.2h.8M80.7 266.9h.8M78.7 263.1h.8M74.6 257.5h.8M78.6 251.9h.8M80.7 255.9h.8M77.6 267.6h.8M76.3 269.4h.8M81.8 261.3h.8M73.1 274.5h.8M74.4 275.9h.8M74.2 274.1h.8M83.3 269.0h.8M75.9 264.7h.8M79.4 260.2h.8M83.6 257.5h.8M77.3 255.7h.8M81.4 266.7h.8M87.8 267.8h.8M81.9 254.2h.8M79.9 260.6h.8M79.9 258.5h.8M80.5 262.5h.8M83.3 273.6h.8M80.7 264.4h.8M90.4 257.7h.8M75.5 260.0h.8M77.1 271.1h.8M77.7 260.3h.8M86.0 254.3h.8M80.6 263.6h.8M80.4 255.0h.8M78.5 255.9h.8M74.8 264.4h.8M83.6 257.2h.8M80.4 265.8h.8M69.1 268.9h.8M74.5 267.0h.8M88.2 265.0h.8M84.0 261.6h.8M73.0 264.2h.8M83.5 269.1h.8M72.7 267.4h.8M83.4 265.5h.8M81.6 259.3h.8M79.3 260.1h.8M86.4 261.9h.8M81.1 269.1h.8M75.2 264.8h.8M83.8 265.7h.8M71.4 259.6h.8M92.6 275.0h.8M73.3 264.0h.8M82.0 268.1h.8M81.1 255.5h.8M77.7 258.8h.8M80.0 268.6h.8M75.8 267.9h.8M86.7 253.4h.8M80.6 272.4h.8M76.5 266.3h.8M68.4 266.4h.8M80.9 270.8h.8M76.9 266.6h.8M89.6 255.6h.8M83.6 261.1h.8M72.1 259.4h.8M75.5 276.2h.8M83.3 263.9h.8M79.3 259.7h.8M78.0 260.8h.8M86.5 262.7h.8M77.3 263.5h.8M82.9 264.3h.8M79.7 267.1h.8M78.8 259.7h.8M74.7 265.5h.8M71.1 269.9h.8M79.7 259.5h.8M73.5 265.4h.8M74.1 262.6h.8M80.7 259.7h.8M78.1 272.3h.8M76.1 272.3h.8M75.5 264.5h.8M85.3 265.1h.8M74.9 263.0h.8M67.7 254.1h.8M70.7 259.3h.8M84.7 255.2h.8M78.7 258.6h.8M77.3 257.5h.8M75.6 269.2h.8M81.4 265.1h.8M83.0 267.2h.8M80.7 268.7h.8M78.7 249.7h.8M73.3 272.5h.8M70.3 267.1h.8M88.3 263.0h.8M84.4 262.5h.8M75.7 251.5h.8M85.2 272.6h.8M73.8 262.1h.8M82.9 263.2h.8M81.0 259.1h.8M77.3 257.3h.8M74.5 259.7h.8M84.3 260.1h.8M77.3 263.7h.8M66.9 265.2h.8M71.4 278.0h.8M83.5 267.4h.8M81.2 262.1h.8M69.5 271.6h.8M77.7 260.5h.8M79.6 270.7h.8M76.3 263.2h.8M72.2 267.9h.8M76.2 277.2h.8M88.8 254.5h.8M76.7 257.8h.8M73.5 255.2h.8M77.2 262.7h.8M76.0 263.4h.8M81.1 262.2h.8M74.7 259.7h.8M82.3 262.0h.8M85.1 265.8h.8M86.3 261.8h.8M87.6 263.1h.8M77.8 262.1h.8M85.3 252.1h.8M76.7 268.3h.8M83.5 253.9h.8M83.1 263.8h.8M86.3 260.9h.8M80.2 258.8h.8M76.1 278.1h.8M80.4 258.1h.8M81.7 258.8h.8M80.1 256.2h.8M79.9 253.4h.8M79.5 257.9h.8M76.2 262.0h.8M81.6 261.4h.8M87.8 260.0h.8M85.4 258.8h.8M85.3 266.7h.8M77.2 257.5h.8M74.7 261.9h.8M82.4 260.8h.8M81.7 258.8h.8M77.9 260.8h.8M76.4 266.7h.8M70.5 266.3h.8M69.8 265.7h.8M80.4 269.4h.8M79.6 261.0h.8M77.3 269.3h.8M78.6 260.6h.8M84.4 249.3h.8M68.3 264.2h.8M81.6 266.2h.8M81.0 249.3h.8M79.9 254.2h.8M85.1 263.9h.8M66.5 259.7h.8M87.7 271.4h.8M78.1 267.7h.8M80.4 262.2h.8M85.6 264.7h.8M89.9 270.4h.8M80.4 245.8h.8M78.7 259.2h.8M76.6 243.1h.8M84.2 263.6h.8M68.7 264.9h.8M83.3 274.5h.8M76.5 260.3h.8M66.0 268.3h.8M70.5 274.1h.8M81.5 255.1h.8M85.7 265.1h.8M82.0 273.2h.8M71.1 262.1h.8M77.0 270.0h.8M68.9 267.6h.8M91.6 271.8h.8M73.5 257.7h.8M68.6 270.2h.8M79.6 255.7h.8M78.8 251.6h.8M79.1 263.7h.8M81.7 260.0h.8M70.9 271.5h.8M77.9 261.2h.8M72.5 269.6h.8M75.1 262.1h.8M76.9 259.9h.8M81.4 268.1h.8M77.6 271.3h.8M79.8 257.7h.8M73.8 275.8h.8M82.1 263.9h.8M79.1 260.1h.8M81.3 256.5h.8M76.7 277.6h.8M76.5 265.7h.8M77.0 261.2h.8M77.9 255.2h.8M75.7 264.1h.8M77.2 250.2h.8M73.9 270.9h.8M77.1 258.8h.8M79.3 264.1h.8M71.1 278.6h.8M78.0 264.8h.8M89.0 257.6h.8M81.6 256.1h.8M74.3 272.3h.8M77.2 254.3h.8M84.7 265.0h.8M72.3 259.3h.8M85.3 268.0h.8M88.2 265.1h.8M83.4 263.0h.8M77.4 267.4h.8M83.1 257.9h.8M83.7 263.4h.8M74.5 250.9h.8M88.8 261.2h.8M72.8 255.5h.8M80.0 262.4h.8M84.0 259.3h.8M79.9 250.2h.8M68.7 262.2h.8M73.7 264.2h.8M78.3 261.6h.8M65.8 262.8h.8M92.2 261.5h.8M84.3 257.5h.8M80.9 265.6h.8M82.8 260.2h.8M87.3 255.2h.8M75.3 282.7h.8M87.7 257.3h.8M80.2 266.5h.8M93.3 250.2h.8M79.8 265.1h.8M82.5 253.4h.8M82.1 256.1h.8M80.7 260.3h.8M72.1 264.4h.8M79.5 263.3h.8M77.9 261.5h.8M76.0 265.2h.8M71.9 250.6h.8M74.2 272.2h.8M76.2 266.5h.8M73.2 280.3h.8M88.5 253.6h.8M77.1 260.1h.8M73.0 275.2h.8M81.1 258.7h.8M75.4 264.2h.8M61.9 269.2h.8M85.2 260.1h.8M80.3 259.0h.8M67.5 274.8h.8M72.1 263.7h.8M75.7 276.0h.8M84.3 262.6h.8M84.8 248.5h.8M69.9 273.9h.8M85.3 252.2h.8M81.5 260.0h.8M83.1 257.6h.8M72.0 260.5h.8M84.8 263.8h.8M74.1 267.7h.8M75.9 260.7h.8M83.6 261.5h.8M77.5 274.7h.8M76.8 270.0h.8M76.1 261.8h.8M80.2 240.5h.8M74.3 267.9h.8M72.7 266.6h.8M77.6 257.1h.8M68.2 260.6h.8M82.9 265.2h.8M75.3 262.9h.8M82.2 263.1h.8M78.3 263.1h.8M73.1 263.2h.8M82.5 261.6h.8M72.8 265.0h.8M78.6 261.2h.8M76.9 258.5h.8M85.4 255.9h.8M80.5 254.9h.8M79.0 264.1h.8M71.1 265.4h.8M86.1 266.9h.8M83.6 269.6h.8M80.9 251.0h.8M79.5 270.2h.8M80.8 263.4h.8M83.7 264.9h.8M69.4 269.0h.8M82.6 255.5h.8M80.8 262.3h.8M83.1 263.0h.8M76.6 262.3h.8M85.4 264.2h.8M82.0 266.1h.8M75.0 263.2h.8M71.7 270.6h.8M72.5 268.8h.8M74.0 250.0h.8M82.6 261.4h.8M71.6 280.2h.8M81.7 266.1h.8M85.1 263.6h.8M71.8 269.2h.8M70.5 274.5h.8M83.2 265.0h.8M83.1 265.2h.8M77.9 266.8h.8M76.1 268.0h.8M87.7 260.7h.8M68.1 255.8h.8M86.3 253.8h.8M78.6 264.1h.8M76.5 263.0h.8M81.8 262.2h.8M74.5 270.4h.8M88.6 249.6h.8M72.2 269.1h.8M79.0 259.4h.8M78.5 261.7h.8M81.2 255.3h.8M71.8 258.5h.8M81.7 258.9h.8M70.6 267.1h.8M77.7 259.5h.8M83.1 257.5h.8M71.8 257.5h.8M79.6 257.1h.8M79.1 267.3h.8M94.1 254.3h.8M83.5 264.5h.8M77.9 256.5h.8M81.7 251.4h.8M86.0 267.5h.8M70.4 258.5h.8M82.6 263.5h.8M77.5 266.9h.8M89.4 260.8h.8M71.3 259.8h.8M78.7 260.9h.8M77.0 263.9h.8M68.5 263.0h.8M75.3 266.5h.8M81.0 254.5h.8M66.9 267.6h.8M82.3 255.8h.8M74.0 262.6h.8M81.4 256.5h.8M75.6 265.2h.8M76.2 256.9h.8M85.3 263.8h.8M78.4 261.9h.8M74.0 265.3h.8M84.1 256.7h.8M75.3 268.1h.8M78.5 272.2h.8M80.9 261.7h.8M71.5 266.7h.8M75.4 265.8h.8M74.2 256.2h.8M73.6 260.0h.8M80.3 253.8h.8M78.8 263.0h.8M79.5 274.3h.8M92.8 260.0h.8M77.3 270.4h.8M78.4 253.4h.8M74.8 261.6h.8M85.0 255.4h.8M76.8 274.3h.8M81.5 258.8h.8M77.3 266.1h.8M89.1 269.4h.8M76.2 267.5h.8M70.2 269.9h.8M74.6 256.8h.8M69.2 274.4h.8M80.6 271.9h.8M67.7 270.3h.8M72.3 271.0h.8M78.2 260.5h.8M75.4 265.8h.8M83.2 262.6h.8M83.3 265.2h.8M81.9 254.4h.8M71.3 247.3h.8M77.3 265.6h.8M78.2 260.4h.8M72.2 264.8h.8M75.8 255.3h.8M69.3 262.1h.8M77.3 268.0h.8M79.9 264.1h.8M79.4 261.4h.8M86.0 263.2h.8M88.6 276.3h.8M89.5 252.4h.8M88.0 259.0h.8M80.7 268.5h.8M86.7 267.6h.8M74.6 264.3h.8M80.5 260.5h.8M72.5 267.1h.8M81.9 254.9h.8M83.5 259.1h.8M77.6 266.7h.8M76.2 264.4h.8M82.1 265.0h.8M90.8 265.3h.8M83.8 262.7h.8M78.3 265.5h.8M87.9 262.0h.8M82.3 261.2h.8M83.4 258.1h.8M88.5 264.4h.8M74.4 254.2h.8M86.4 260.2h.8M77.5 261.9h.8M86.5 265.2h.8M87.4 260.7h.8M77.1 265.9h.8M67.2 264.7h.8M71.6 268.6h.8M74.0 263.1h.8M83.2 261.4h.8M80.2 260.1h.8M88.3 256.6h.8M88.1 260.5h.8M81.1 266.2h.8M82.5 267.0h.8M81.8 265.9h.8M77.1 256.2h.8M80.0 257.9h.8M77.8 274.5h.8M87.5 261.4h.8M75.4 258.4h.8M72.7 269.4h.8M85.6 265.1h.8M85.5 262.8h.8M77.9 262.9h.8M76.3 257.4h.8" stroke="#48705a" stroke-opacity="0.38" stroke-width="0.8" fill="none"/>
<path d="M88.9 258.3h.8M85.9 254.8h.8M92.5 270.3h.8M88.5 252.1h.8M80.3 258.7h.8M80.1 249.8h.8M75.2 254.4h.8M90.1 254.6h.8M79.3 262.1h.8M69.2 266.2h.8M88.9 265.6h.8M72.2 260.6h.8M73.1 255.4h.8M76.9 251.8h.8M81.5 269.1h.8M77.5 263.5h.8M77.0 249.8h.8M76.1 256.1h.8M78.6 254.5h.8M73.4 270.1h.8M85.3 248.4h.8M73.7 261.0h.8M79.1 265.6h.8M88.1 258.4h.8M73.7 260.3h.8M90.4 263.9h.8M79.0 264.8h.8M83.2 262.8h.8M87.7 264.8h.8M73.3 255.5h.8M62.8 265.7h.8M83.9 257.0h.8M78.7 262.0h.8M85.4 231.7h.8M77.3 260.1h.8M79.4 254.7h.8M82.3 254.7h.8M92.2 260.7h.8M80.4 256.0h.8M95.1 261.4h.8M92.6 250.1h.8M65.4 266.0h.8M76.2 255.9h.8M90.3 258.4h.8M83.2 243.0h.8M84.4 243.1h.8M76.7 246.8h.8M79.1 276.4h.8M77.1 262.2h.8M81.9 253.3h.8M86.4 255.0h.8M77.6 245.8h.8M89.6 258.5h.8M78.7 259.1h.8M80.8 263.8h.8M82.1 263.6h.8M86.1 263.5h.8M85.2 256.4h.8M83.2 255.0h.8M75.9 240.0h.8M78.0 253.4h.8M82.3 261.9h.8M92.9 250.7h.8M80.5 254.7h.8M86.4 247.2h.8M88.4 260.0h.8M80.7 267.2h.8M83.8 252.5h.8M79.8 253.9h.8M83.0 262.1h.8M74.7 250.7h.8M97.8 254.8h.8M75.6 266.3h.8M83.8 254.0h.8M91.5 276.4h.8M93.6 257.6h.8M83.1 256.0h.8M80.0 260.9h.8M88.7 271.4h.8M81.5 254.7h.8M72.1 259.9h.8M91.6 256.0h.8M86.6 253.6h.8M83.6 256.2h.8M77.2 260.3h.8M93.6 267.7h.8M81.2 268.0h.8M79.0 264.4h.8M74.7 257.0h.8M76.4 254.9h.8M93.3 277.5h.8M81.2 274.1h.8M81.5 256.0h.8M83.5 249.9h.8M83.2 271.4h.8M91.5 265.7h.8M81.7 256.4h.8M76.8 258.1h.8M91.4 271.1h.8M72.0 262.1h.8M81.2 268.1h.8M68.1 252.1h.8M84.7 268.5h.8M85.8 259.3h.8M83.2 268.6h.8M80.9 255.3h.8M71.5 266.5h.8M88.2 244.1h.8M86.3 259.3h.8M75.6 261.8h.8M80.7 255.5h.8M80.7 240.6h.8M90.4 274.9h.8M75.1 258.8h.8M88.3 255.8h.8M65.3 270.9h.8M90.6 254.5h.8M98.0 252.9h.8M85.1 247.6h.8M79.5 262.8h.8M76.0 257.0h.8M85.0 251.9h.8M91.2 254.2h.8M89.9 260.6h.8M76.3 253.4h.8M88.5 248.9h.8M81.3 262.3h.8M80.0 256.1h.8M82.0 260.2h.8M83.8 260.9h.8M84.4 263.2h.8M72.8 261.1h.8M93.9 264.8h.8M87.9 248.9h.8M78.9 256.9h.8M68.2 254.6h.8M91.8 257.4h.8M70.0 263.1h.8M77.7 258.0h.8M84.0 261.9h.8M80.4 264.9h.8M85.8 257.3h.8M84.4 262.5h.8M85.3 261.0h.8M84.1 260.0h.8M78.2 266.9h.8M70.8 268.9h.8M85.1 234.7h.8M72.2 264.9h.8M82.2 232.4h.8M81.0 267.5h.8M84.9 243.4h.8M65.1 267.5h.8M89.9 267.4h.8M81.6 263.5h.8M87.0 269.6h.8M84.2 257.2h.8M85.8 255.7h.8M83.2 272.0h.8M80.3 265.9h.8M85.6 260.6h.8M83.2 250.6h.8M81.6 246.3h.8M87.4 269.9h.8M78.7 249.8h.8M79.2 250.0h.8M78.8 259.8h.8M88.6 270.6h.8M82.8 262.2h.8M83.3 246.1h.8M85.3 268.9h.8M88.2 262.2h.8M83.3 250.2h.8M80.4 251.7h.8M83.4 265.6h.8M80.4 269.0h.8M89.6 257.6h.8M88.3 267.2h.8M87.5 267.8h.8M84.0 259.0h.8M78.7 256.6h.8M82.5 265.3h.8M77.7 268.6h.8M90.7 257.7h.8M80.1 253.7h.8M77.0 267.5h.8M84.5 247.0h.8M84.1 257.7h.8M93.0 270.4h.8M101.1 267.1h.8M81.8 268.9h.8M74.8 260.7h.8M97.3 265.9h.8M78.5 256.9h.8M76.0 260.8h.8M87.3 275.1h.8M80.4 261.1h.8M79.2 259.8h.8M71.2 262.2h.8M79.1 266.6h.8M90.1 243.9h.8M87.2 265.3h.8M91.0 255.1h.8M77.3 254.4h.8M78.7 254.6h.8M88.0 250.2h.8M75.8 259.8h.8M82.3 268.0h.8M84.9 253.7h.8M73.8 263.0h.8M75.5 268.4h.8M75.7 248.6h.8M78.2 261.8h.8M88.4 251.2h.8M91.0 274.4h.8M86.9 272.0h.8M78.4 262.0h.8M78.8 244.2h.8M81.3 250.1h.8M81.2 259.3h.8M85.4 255.6h.8M85.4 271.9h.8M85.4 256.5h.8M86.0 259.3h.8M84.8 268.6h.8M89.3 268.0h.8M90.9 251.3h.8M81.9 261.1h.8M87.1 261.2h.8M75.0 256.8h.8M74.8 262.3h.8M93.3 252.8h.8M79.5 259.4h.8M78.3 259.0h.8M73.4 253.8h.8M82.4 263.5h.8M78.5 239.2h.8M79.6 262.5h.8M78.7 262.6h.8M90.3 253.8h.8M84.9 256.1h.8M75.3 277.0h.8M91.6 253.5h.8M83.6 256.8h.8M83.5 258.7h.8M80.7 275.6h.8M85.8 258.5h.8M88.3 256.6h.8M80.5 254.4h.8M83.5 262.2h.8M80.0 262.1h.8M80.5 262.2h.8M88.3 237.0h.8M81.6 250.5h.8M70.2 283.1h.8M79.4 260.1h.8M77.7 269.1h.8M77.1 262.7h.8M83.2 261.4h.8M74.9 261.7h.8M91.6 265.5h.8M82.7 251.3h.8M77.4 263.2h.8M100.1 249.6h.8M79.1 257.7h.8M82.9 257.8h.8M85.2 261.1h.8M68.7 266.1h.8M83.2 269.1h.8M80.3 247.6h.8M83.8 263.8h.8M83.2 251.0h.8M71.8 268.3h.8M78.2 262.2h.8M81.8 263.2h.8M83.0 258.2h.8M75.1 263.6h.8M74.7 256.7h.8M83.9 254.0h.8M76.9 262.9h.8M68.7 258.8h.8M72.4 256.3h.8M88.9 255.6h.8M86.2 257.2h.8M84.6 251.9h.8M90.1 243.7h.8M80.7 252.6h.8M87.6 255.7h.8M83.9 268.4h.8M89.0 265.5h.8M78.3 265.3h.8M85.7 266.1h.8M85.1 254.7h.8M82.9 261.4h.8M86.0 249.1h.8M79.5 266.8h.8M78.6 265.5h.8M80.8 260.0h.8M68.2 248.0h.8M77.3 262.1h.8M70.3 273.6h.8M76.1 257.2h.8M87.5 272.4h.8M83.7 247.6h.8M80.6 252.0h.8M84.2 265.8h.8M88.4 263.5h.8M84.5 261.9h.8M81.0 257.7h.8M90.4 271.5h.8M75.5 258.1h.8M88.3 260.3h.8M81.2 254.9h.8M92.0 265.7h.8M72.5 261.0h.8M87.0 268.7h.8M89.2 251.9h.8M87.1 265.2h.8M74.4 254.0h.8M83.9 253.8h.8M74.0 281.0h.8M89.2 251.4h.8M80.6 258.9h.8M85.1 253.3h.8M81.1 262.7h.8M76.3 251.2h.8M82.9 284.4h.8M84.4 263.2h.8M74.5 262.7h.8M74.5 262.3h.8M78.9 255.1h.8M76.1 272.5h.8M78.6 269.2h.8M86.8 260.4h.8M72.0 265.4h.8M82.1 259.2h.8M71.0 259.9h.8M84.1 251.5h.8M89.0 259.8h.8M74.3 261.7h.8M86.3 265.8h.8M90.0 266.1h.8M75.4 252.7h.8M81.7 256.5h.8M80.4 258.7h.8M78.7 244.7h.8M86.3 259.8h.8M85.2 252.7h.8M79.1 257.6h.8M83.6 263.1h.8" stroke="#6a5078" stroke-opacity="0.34" stroke-width="0.8" fill="none"/>
<text font-size="11.8" text-anchor="start" fill="#111" font-weight="bold" transform="translate(161.30 180.30) scale(0.88 1)" stroke="#111" stroke-width="0.35">D</text>
<text font-size="9.46" text-anchor="middle" fill="#3a3a3a" stroke="#3a3a3a" stroke-width="0.1" textLength="100" lengthAdjust="spacingAndGlyphs" transform="translate(170.50 242.00) rotate(-90)">log(I&#954;B<tspan font-size="5" dy="-3">&#8211;</tspan><tspan dy="3">/WT cell density ratio)</tspan></text>
<text font-size="8.6" text-anchor="end" fill="#3a3a3a" stroke="#3a3a3a" stroke-width="0.1" transform="translate(187.40 289.60) scale(0.88 1)">&#8211;4</text>
<text font-size="8.6" text-anchor="end" fill="#3a3a3a" stroke="#3a3a3a" stroke-width="0.1" transform="translate(187.40 267.10) scale(0.88 1)">&#8211;2</text>
<text font-size="8.6" text-anchor="end" fill="#3a3a3a" stroke="#3a3a3a" stroke-width="0.1" transform="translate(187.40 244.60) scale(0.88 1)">0</text>
<text font-size="8.6" text-anchor="end" fill="#3a3a3a" stroke="#3a3a3a" stroke-width="0.1" transform="translate(187.40 222.10) scale(0.88 1)">2</text>
<text font-size="8.6" text-anchor="end" fill="#3a3a3a" stroke="#3a3a3a" stroke-width="0.1" transform="translate(187.40 199.60) scale(0.88 1)">4</text>
<line x1="191.00" y1="297.75" x2="192.50" y2="297.75" stroke="#1a1a1a" stroke-width="0.9"/>
<line x1="190.10" y1="286.50" x2="192.50" y2="286.50" stroke="#1a1a1a" stroke-width="0.9"/>
<line x1="191.00" y1="275.25" x2="192.50" y2="275.25" stroke="#1a1a1a" stroke-width="0.9"/>
<line x1="190.10" y1="264.00" x2="192.50" y2="264.00" stroke="#1a1a1a" stroke-width="0.9"/>
<line x1="191.00" y1="252.75" x2="192.50" y2="252.75" stroke="#1a1a1a" stroke-width="0.9"/>
<line x1="190.10" y1="241.50" x2="192.50" y2="241.50" stroke="#1a1a1a" stroke-width="0.9"/>
<line x1="191.00" y1="230.25" x2="192.50" y2="230.25" stroke="#1a1a1a" stroke-width="0.9"/>
<line x1="190.10" y1="219.00" x2="192.50" y2="219.00" stroke="#1a1a1a" stroke-width="0.9"/>
<line x1="191.00" y1="207.75" x2="192.50" y2="207.75" stroke="#1a1a1a" stroke-width="0.9"/>
<line x1="190.10" y1="196.50" x2="192.50" y2="196.50" stroke="#1a1a1a" stroke-width="0.9"/>
<line x1="191.00" y1="185.25" x2="192.50" y2="185.25" stroke="#1a1a1a" stroke-width="0.9"/>
<text font-size="8.6" text-anchor="middle" fill="#3a3a3a" stroke="#3a3a3a" stroke-width="0.1" transform="translate(192.50 310.70) scale(0.88 1)">0.0</text>
<line x1="192.50" y1="298.25" x2="192.50" y2="300.65" stroke="#1a1a1a" stroke-width="0.9"/>
<line x1="205.50" y1="298.25" x2="205.50" y2="299.75" stroke="#1a1a1a" stroke-width="0.9"/>
<text font-size="8.6" text-anchor="middle" fill="#3a3a3a" stroke="#3a3a3a" stroke-width="0.1" transform="translate(218.57 310.70) scale(0.88 1)">0.2</text>
<line x1="218.57" y1="298.25" x2="218.57" y2="300.65" stroke="#1a1a1a" stroke-width="0.9"/>
<line x1="231.57" y1="298.25" x2="231.57" y2="299.75" stroke="#1a1a1a" stroke-width="0.9"/>
<text font-size="8.6" text-anchor="middle" fill="#3a3a3a" stroke="#3a3a3a" stroke-width="0.1" transform="translate(244.64 310.70) scale(0.88 1)">0.4</text>
<line x1="244.64" y1="298.25" x2="244.64" y2="300.65" stroke="#1a1a1a" stroke-width="0.9"/>
<line x1="257.64" y1="298.25" x2="257.64" y2="299.75" stroke="#1a1a1a" stroke-width="0.9"/>
<text font-size="8.6" text-anchor="middle" fill="#3a3a3a" stroke="#3a3a3a" stroke-width="0.1" transform="translate(270.71 310.70) scale(0.88 1)">0.6</text>
<line x1="270.71" y1="298.25" x2="270.71" y2="300.65" stroke="#1a1a1a" stroke-width="0.9"/>
<line x1="283.71" y1="298.25" x2="283.71" y2="299.75" stroke="#1a1a1a" stroke-width="0.9"/>
<text font-size="8.6" text-anchor="middle" fill="#3a3a3a" stroke="#3a3a3a" stroke-width="0.1" transform="translate(296.78 310.70) scale(0.88 1)">0.8</text>
<line x1="296.78" y1="298.25" x2="296.78" y2="300.65" stroke="#1a1a1a" stroke-width="0.9"/>
<text font-size="9.46" text-anchor="middle" fill="#3a3a3a" stroke="#3a3a3a" stroke-width="0.1" textLength="40" lengthAdjust="spacingAndGlyphs" transform="translate(245.00 324.20)">Pseudotime</text>
<text font-size="8.6" text-anchor="start" fill="#aaa862" stroke="#aaa862" stroke-width="0.1" transform="translate(196.50 198.20) scale(0.95 1)">HSC</text>
<text font-size="8.6" text-anchor="start" fill="#ecb0be" stroke="#ecb0be" stroke-width="0.1" transform="translate(196.50 211.70) scale(0.95 1)">EMP</text>
<text font-size="8.6" text-anchor="start" fill="#352e80" stroke="#352e80" stroke-width="0.1" transform="translate(196.50 225.40) scale(0.95 1)">MyP</text>
<text font-size="8.6" text-anchor="start" fill="#3f9ea2" stroke="#3f9ea2" stroke-width="0.1" transform="translate(196.50 239.20) scale(0.95 1)">LyP</text>
<clipPath id="cd"><rect x="192.5" y="185.8" width="104.30000000000001" height="112.44999999999999"/></clipPath>
<g clip-path="url(#cd)">
<path d="M192.31,247.30 C192.50,247.30 192.69,246.82 193.46,247.30 C194.23,247.78 195.57,249.03 196.92,250.18 C198.27,251.34 199.80,254.32 201.53,254.22 C203.26,254.13 204.99,251.15 207.30,249.61 C209.61,248.07 212.68,246.19 215.37,244.99 C218.07,243.80 221.14,242.46 223.45,242.46 C225.76,242.46 227.10,245.05 229.22,244.99 C231.33,244.94 234.12,242.88 236.14,242.11 C238.15,241.34 240.46,240.67 241.33,240.38 L241.33,240.96 C240.46,241.34 238.15,242.40 236.14,243.26 C234.12,244.13 231.33,246.05 229.22,246.15 C227.10,246.24 225.76,243.46 223.45,243.84 C221.14,244.23 218.07,246.53 215.37,248.45 C212.68,250.38 209.22,253.26 207.30,255.37 C205.38,257.49 204.99,259.80 203.84,261.14 C202.69,262.49 201.53,263.64 200.38,263.45 C199.23,263.26 198.07,261.14 196.92,259.99 C195.77,258.84 194.23,257.10 193.46,256.53 C192.69,255.95 192.50,256.53 192.31,256.53 Z" fill="#e6e4b8" stroke="none"/>
<path d="M192.31,247.30 C192.50,247.30 192.69,246.82 193.46,247.30 C194.23,247.78 195.57,249.03 196.92,250.18 C198.27,251.34 199.80,254.32 201.53,254.22 C203.26,254.13 204.99,251.15 207.30,249.61 C209.61,248.07 212.68,246.19 215.37,244.99 C218.07,243.80 221.14,242.46 223.45,242.46 C225.76,242.46 227.10,245.05 229.22,244.99 C231.33,244.94 234.12,242.88 236.14,242.11 C238.15,241.34 240.46,240.67 241.33,240.38" fill="none" stroke="#5a5a3a" stroke-width="0.7"/>
<path d="M192.31,256.53 C192.50,256.53 192.69,255.95 193.46,256.53 C194.23,257.10 195.77,258.84 196.92,259.99 C198.07,261.14 199.23,263.26 200.38,263.45 C201.53,263.64 202.69,262.49 203.84,261.14 C204.99,259.80 205.38,257.49 207.30,255.37 C209.22,253.26 212.68,250.38 215.37,248.45 C218.07,246.53 221.14,244.23 223.45,243.84 C225.76,243.46 227.10,246.24 229.22,246.15 C231.33,246.05 234.12,244.13 236.14,243.26 C238.15,242.40 240.46,241.34 241.33,240.96" fill="none" stroke="#5a5a3a" stroke-width="0.7"/>
<path d="M192.31,252.49 C193.84,253.45 199.03,258.26 201.53,258.26 C204.03,258.26 204.99,254.41 207.30,252.49 C209.61,250.57 212.68,248.28 215.37,246.72 C218.07,245.17 221.05,243.34 223.45,243.15 C225.85,242.96 226.81,245.99 229.79,245.57 C232.77,245.15 239.40,241.44 241.33,240.61" fill="none" stroke="#b0ae70" stroke-width="0.6"/>
<path d="M242.95,239.82 C243.20,240.56 243.44,243.22 244.42,244.25 C245.41,245.28 247.13,245.28 248.85,246.02 C250.57,246.76 252.78,247.86 254.75,248.67 C256.72,249.48 258.93,251.87 260.65,250.88 C262.37,249.90 263.72,245.35 265.07,242.77 C266.43,240.19 267.78,236.18 268.76,235.40 C269.74,234.61 270.24,236.58 270.97,238.05 C271.71,239.53 272.82,243.22 273.19,244.25 L273.19,244.25 C272.57,244.49 270.60,244.99 269.50,245.72 C268.39,246.46 267.78,246.71 266.55,248.67 C265.32,250.64 263.60,255.06 262.12,257.52 C260.65,259.98 259.42,263.18 257.70,263.42 C255.98,263.67 253.77,260.47 251.80,259.00 C249.83,257.52 247.37,257.03 245.90,254.57 C244.42,252.11 243.44,245.97 242.95,244.25 Z" fill="#c8e6ea" stroke="none"/>
<path d="M242.95,239.82 C243.20,240.56 243.44,243.22 244.42,244.25 C245.41,245.28 247.13,245.28 248.85,246.02 C250.57,246.76 252.78,247.86 254.75,248.67 C256.72,249.48 258.93,251.87 260.65,250.88 C262.37,249.90 263.72,245.35 265.07,242.77 C266.43,240.19 267.78,236.18 268.76,235.40 C269.74,234.61 270.24,236.58 270.97,238.05 C271.71,239.53 272.82,243.22 273.19,244.25" fill="none" stroke="#2f5f66" stroke-width="0.7"/>
<path d="M242.95,244.25 C243.44,245.97 244.42,252.11 245.90,254.57 C247.37,257.03 249.83,257.52 251.80,259.00 C253.77,260.47 255.98,263.67 257.70,263.42 C259.42,263.18 260.65,259.98 262.12,257.52 C263.60,255.06 265.32,250.64 266.55,248.67 C267.78,246.71 268.39,246.46 269.50,245.72 C270.60,244.99 272.57,244.49 273.19,244.25" fill="none" stroke="#2f5f66" stroke-width="0.7"/>
<path d="M242.95,242.04 C243.93,243.39 246.88,248.18 248.85,250.15 C250.82,252.11 252.78,252.85 254.75,253.83 C256.72,254.82 258.93,257.15 260.65,256.05 C262.37,254.94 263.72,249.66 265.07,247.20 C266.43,244.74 267.78,242.04 268.76,241.30 C269.74,240.56 270.60,242.53 270.97,242.77" fill="none" stroke="#3a9aa0" stroke-width="0.7"/>
<path d="M268.76,235.40 C269.38,237.12 271.22,241.30 272.45,245.72 C273.68,250.15 275.20,256.91 276.14,261.95 C277.07,266.99 277.32,274.73 278.05,275.96 C278.79,277.19 279.53,272.64 280.56,269.32 C281.59,266.00 283.14,259.49 284.25,256.05 C285.35,252.61 286.71,249.90 287.20,248.67" fill="none" stroke="#1e1e1e" stroke-width="0.8"/>
<path d="M269.50,245.72 C270.24,247.94 272.69,254.33 273.92,259.00 C275.15,263.67 276.18,270.92 276.87,273.75 C277.56,276.57 277.86,275.59 278.05,275.96" fill="none" stroke="#5a8a90" stroke-width="0.7"/>
<path d="M287.20,248.67 C287.69,249.16 289.16,248.67 290.15,251.62 C291.13,254.57 292.24,261.21 293.10,266.37 C293.96,271.53 294.70,277.93 295.31,282.60 C295.92,287.27 296.54,292.43 296.78,294.40" fill="none" stroke="#3a9aa0" stroke-width="0.8"/>
<path d="M242.95,239.09 C243.93,237.49 246.88,232.08 248.85,229.50 C250.82,226.92 252.54,224.95 254.75,223.60 C256.96,222.25 260.16,221.44 262.12,221.39 C264.09,221.34 264.83,222.57 266.55,223.30 C268.27,224.04 270.60,225.27 272.45,225.81 C274.29,226.35 276.75,226.43 277.61,226.55 L277.61,226.55 C276.26,226.43 272.08,226.18 269.50,225.81 C266.92,225.44 264.58,224.09 262.12,224.34 C259.67,224.58 256.96,225.44 254.75,227.29 C252.54,229.13 250.82,232.94 248.85,235.40 C246.88,237.86 243.93,240.93 242.95,242.04 Z" fill="#c9c2ea" stroke="none"/>
<path d="M242.95,239.09 C243.93,237.49 246.88,232.08 248.85,229.50 C250.82,226.92 252.54,224.95 254.75,223.60 C256.96,222.25 260.16,221.44 262.12,221.39 C264.09,221.34 264.83,222.57 266.55,223.30 C268.27,224.04 270.60,225.27 272.45,225.81 C274.29,226.35 276.75,226.43 277.61,226.55" fill="none" stroke="#2a2450" stroke-width="0.7"/>
<path d="M242.95,242.04 C243.93,240.93 246.88,237.86 248.85,235.40 C250.82,232.94 252.54,229.13 254.75,227.29 C256.96,225.44 259.67,224.58 262.12,224.34 C264.58,224.09 266.92,225.44 269.50,225.81 C272.08,226.18 276.26,226.43 277.61,226.55" fill="none" stroke="#2a2450" stroke-width="0.7"/>
<path d="M242.95,240.56 C243.93,239.21 246.88,234.98 248.85,232.45 C250.82,229.92 252.54,226.97 254.75,225.37 C256.96,223.77 259.67,222.91 262.12,222.86 C264.58,222.81 266.92,224.46 269.50,225.07 C272.08,225.69 276.26,226.30 277.61,226.55" fill="none" stroke="#5a4da8" stroke-width="0.6"/>
<path d="M277.61,226.55 C278.47,225.57 281.30,222.17 282.77,220.65 C284.25,219.12 285.11,217.65 286.46,217.40 C287.81,217.16 289.29,218.51 290.88,219.17 C292.48,219.84 295.19,221.02 296.05,221.39" fill="none" stroke="#4a3d9a" stroke-width="0.8"/>
<path d="M242.95,241.59 C243.93,241.79 246.88,242.94 248.85,242.77 C250.82,242.60 252.54,241.35 254.75,240.56 C256.96,239.77 259.67,238.67 262.12,238.05 C264.58,237.44 267.29,236.77 269.50,236.87 C271.71,236.97 273.68,237.95 275.40,238.64 C277.12,239.33 278.35,240.56 279.82,241.00 C281.30,241.45 282.77,241.00 284.25,241.30 C285.72,241.59 286.95,241.67 288.67,242.77 C290.39,243.88 293.59,247.07 294.57,247.94" fill="none" stroke="#e69aae" stroke-width="0.9"/>
<path d="M268.76,237.17 C269.87,237.49 273.55,238.40 275.40,239.09 C277.24,239.77 278.10,240.88 279.82,241.30 C281.54,241.72 284.74,241.54 285.72,241.59" fill="none" stroke="#1e1e1e" stroke-width="0.8"/>
</g>
<rect x="192.50" y="185.80" width="104.30" height="112.45" fill="none" stroke="#111" stroke-width="1.5"/>
<text font-size="10.3" text-anchor="start" fill="#222" stroke="#222" stroke-width="0.1" textLength="45.5" lengthAdjust="spacingAndGlyphs" transform="translate(314.30 202.80)">Model Fits</text>
<line x1="307.20" y1="298.50" x2="308.70" y2="298.50" stroke="#1a1a1a" stroke-width="0.9"/>
<line x1="306.30" y1="287.40" x2="308.70" y2="287.40" stroke="#1a1a1a" stroke-width="0.9"/>
<line x1="307.20" y1="276.30" x2="308.70" y2="276.30" stroke="#1a1a1a" stroke-width="0.9"/>
<line x1="306.30" y1="265.20" x2="308.70" y2="265.20" stroke="#1a1a1a" stroke-width="0.9"/>
<line x1="307.20" y1="254.10" x2="308.70" y2="254.10" stroke="#1a1a1a" stroke-width="0.9"/>
<line x1="306.30" y1="243.00" x2="308.70" y2="243.00" stroke="#1a1a1a" stroke-width="0.9"/>
<line x1="307.20" y1="231.90" x2="308.70" y2="231.90" stroke="#1a1a1a" stroke-width="0.9"/>
<line x1="306.30" y1="220.80" x2="308.70" y2="220.80" stroke="#1a1a1a" stroke-width="0.9"/>
<line x1="307.20" y1="209.70" x2="308.70" y2="209.70" stroke="#1a1a1a" stroke-width="0.9"/>
<line x1="306.30" y1="198.60" x2="308.70" y2="198.60" stroke="#1a1a1a" stroke-width="0.9"/>
<line x1="307.20" y1="187.50" x2="308.70" y2="187.50" stroke="#1a1a1a" stroke-width="0.9"/>
<clipPath id="cm"><rect x="308.7" y="186.2" width="101.60000000000002" height="111.10000000000002"/></clipPath>
<g clip-path="url(#cm)">
<path d="M307.15,247.30 C307.44,247.11 308.21,246.63 308.88,246.15 C309.56,245.67 310.33,244.42 311.19,244.42 C312.06,244.42 312.82,245.47 314.07,246.15 C315.32,246.82 317.15,247.69 318.69,248.45 C320.23,249.22 321.57,250.95 323.30,250.76 C325.03,250.57 327.15,248.36 329.07,247.30 C330.99,246.24 332.53,244.99 334.84,244.42 C337.14,243.84 340.41,244.23 342.91,243.84 C345.41,243.46 347.52,242.59 349.83,242.11 C352.14,241.63 355.60,241.15 356.75,240.96 L356.75,241.53 C355.79,241.82 353.10,242.69 350.98,243.26 C348.87,243.84 346.56,244.61 344.06,244.99 C341.56,245.38 338.30,245.19 335.99,245.57 C333.68,245.96 331.95,246.05 330.22,247.30 C328.49,248.55 327.15,251.15 325.61,253.07 C324.07,254.99 322.53,257.10 320.99,258.84 C319.46,260.57 317.73,262.20 316.38,263.45 C315.03,264.70 313.88,266.14 312.92,266.33 C311.96,266.52 311.29,265.85 310.61,264.60 C309.94,263.35 309.46,259.99 308.88,258.84 C308.31,257.68 307.44,257.87 307.15,257.68 Z" fill="#e6e4b8" stroke="none"/>
<path d="M307.15,247.30 C307.44,247.11 308.21,246.63 308.88,246.15 C309.56,245.67 310.33,244.42 311.19,244.42 C312.06,244.42 312.82,245.47 314.07,246.15 C315.32,246.82 317.15,247.69 318.69,248.45 C320.23,249.22 321.57,250.95 323.30,250.76 C325.03,250.57 327.15,248.36 329.07,247.30 C330.99,246.24 332.53,244.99 334.84,244.42 C337.14,243.84 340.41,244.23 342.91,243.84 C345.41,243.46 347.52,242.59 349.83,242.11 C352.14,241.63 355.60,241.15 356.75,240.96" fill="none" stroke="#5a5a3a" stroke-width="0.7"/>
<path d="M307.15,257.68 C307.44,257.87 308.31,257.68 308.88,258.84 C309.46,259.99 309.94,263.35 310.61,264.60 C311.29,265.85 311.96,266.52 312.92,266.33 C313.88,266.14 315.03,264.70 316.38,263.45 C317.73,262.20 319.46,260.57 320.99,258.84 C322.53,257.10 324.07,254.99 325.61,253.07 C327.15,251.15 328.49,248.55 330.22,247.30 C331.95,246.05 333.68,245.96 335.99,245.57 C338.30,245.19 341.56,245.38 344.06,244.99 C346.56,244.61 348.87,243.84 350.98,243.26 C353.10,242.69 355.79,241.82 356.75,241.53" fill="none" stroke="#5a5a3a" stroke-width="0.7"/>
<path d="M307.15,253.07 C308.50,253.16 312.54,253.55 315.23,253.64 C317.92,253.74 320.61,254.89 323.30,253.64 C325.99,252.40 328.49,247.69 331.37,246.15 C334.26,244.61 336.37,245.24 340.60,244.42 C344.83,243.59 354.06,241.73 356.75,241.19" fill="none" stroke="#b0ae70" stroke-width="0.6"/>
<path d="M353.63,239.37 L357.05,239.37 L358.42,242.79 L361.83,244.84 L367.30,244.15 L372.08,247.57 L375.49,246.20 L383.69,239.37 L387.79,242.79 L391.89,246.89 L397.35,250.30 L402.81,242.10 L404.86,243.47 L405.82,264.64 L406.91,300.16 L367.98,300.16 L367.30,267.38 L365.93,257.81 L361.15,250.98 L357.05,242.79 L353.63,240.05Z" fill="#cde2e5" stroke="none" stroke-width="0" stroke-linejoin="round"/>
<path d="M353.63,239.37 L357.05,239.37 L358.42,242.79 L361.83,244.84 L367.30,244.15 L372.08,247.57 L375.49,246.20 L383.69,239.37 L387.79,242.79 L391.89,246.89 L397.35,250.30 L402.81,242.10 L404.86,243.47 L405.82,264.64 L406.91,300.16" fill="None" stroke="#2f5a60" stroke-width="0.8" stroke-linejoin="round"/>
<path d="M353.63,240.05 C354.20,240.51 355.80,240.97 357.05,242.79 C358.30,244.61 359.67,248.48 361.15,250.98 C362.63,253.49 364.90,255.08 365.93,257.81 C366.95,260.55 366.95,260.32 367.30,267.38 C367.64,274.44 367.86,294.70 367.98,300.16" fill="none" stroke="#3f7a80" stroke-width="0.8"/>
<path d="M357.73,245.52 C359.10,246.43 363.20,248.93 365.93,250.98 C368.66,253.03 372.19,254.40 374.13,257.81 C376.06,261.23 376.63,264.42 377.54,271.48 C378.45,278.53 379.25,295.38 379.59,300.16" fill="none" stroke="#3a9aa0" stroke-width="0.8"/>
<path d="M353.63,241.42 C354.20,240.97 355.68,239.83 357.05,238.69 C358.42,237.55 359.90,236.64 361.83,234.59 C363.77,232.54 366.38,228.33 368.66,226.39 C370.94,224.46 373.21,223.21 375.49,222.98 C377.77,222.75 380.05,224.46 382.32,225.03 C384.60,225.60 386.88,226.73 389.15,226.39 C391.43,226.05 393.93,224.23 395.98,222.98 C398.03,221.73 399.85,219.90 401.45,218.88 C403.04,217.86 404.52,217.40 405.55,216.83 C406.57,216.26 407.03,216.38 407.60,215.46 C408.16,214.55 408.62,212.73 408.96,211.37 C409.30,210.00 409.53,207.95 409.64,207.27 L410.33,250.98 C410.17,251.78 409.83,255.08 409.37,255.77 C408.92,256.45 408.14,256.56 407.60,255.08 C407.05,253.60 406.46,250.98 406.09,246.89 C405.73,242.79 405.59,234.86 405.41,230.49 C405.23,226.12 405.66,222.25 405.00,220.66 C404.34,219.06 402.95,220.31 401.45,220.93 C399.95,221.54 398.03,223.21 395.98,224.34 C393.93,225.48 391.43,227.19 389.15,227.76 C386.88,228.33 384.60,228.10 382.32,227.76 C380.05,227.42 377.77,225.48 375.49,225.71 C373.21,225.94 370.94,226.96 368.66,229.13 C366.38,231.29 363.77,236.53 361.83,238.69 C359.90,240.85 358.42,241.31 357.05,242.10 C355.68,242.90 354.20,243.24 353.63,243.47Z" fill="#c3bbe6" stroke="#2a2450" stroke-width="0.7"/>
<path d="M357.05,240.33 C357.85,239.71 359.90,238.73 361.83,236.64 C363.77,234.54 366.38,229.81 368.66,227.76 C370.94,225.71 373.21,224.57 375.49,224.34 C377.77,224.12 380.05,225.94 382.32,226.39 C384.60,226.85 386.88,227.53 389.15,227.08 C391.43,226.62 393.93,224.87 395.98,223.66 C398.03,222.45 399.85,220.70 401.45,219.84 C403.04,218.97 404.52,218.97 405.55,218.47 C406.57,217.97 406.91,217.79 407.60,216.83 C408.28,215.87 409.30,213.42 409.64,212.73" fill="none" stroke="#5a4da8" stroke-width="0.6"/>
<path d="M405,221 L410.5,209 L410.5,254 L408,257 L405.6,246 Z" fill="#c3bbe6" stroke="#2a2450" stroke-width="0.6"/>
<path d="M405.6,246 L408,257 L410.5,254 L410.5,297.5 L406.5,297.5 Z" fill="#b8b4c6" stroke="#4a4a5a" stroke-width="0.6"/>
<path d="M353.63,240.33 C354.20,240.33 355.46,240.01 357.05,240.33 C358.64,240.65 361.26,242.15 363.20,242.24 C365.13,242.33 366.61,241.38 368.66,240.87 C370.71,240.37 372.99,239.67 375.49,239.23 C378.00,238.80 381.18,238.12 383.69,238.28 C386.19,238.44 388.47,239.76 390.52,240.19 C392.57,240.62 393.93,240.62 395.98,240.87 C398.03,241.12 400.65,241.33 402.81,241.69 C404.98,242.06 407.94,242.83 408.96,243.06 L408.96,244.02 C407.94,243.79 404.98,243.04 402.81,242.65 C400.65,242.26 398.03,241.94 395.98,241.69 C393.93,241.44 392.57,241.56 390.52,241.15 C388.47,240.74 386.19,239.37 383.69,239.23 C381.18,239.10 378.00,239.83 375.49,240.33 C372.99,240.83 370.71,241.65 368.66,242.24 C366.61,242.83 365.13,243.97 363.20,243.88 C361.26,243.79 358.64,242.06 357.05,241.69 C355.46,241.33 354.20,241.69 353.63,241.69 Z" fill="#eecad3" stroke="none"/>
<path d="M353.63,240.33 C354.20,240.33 355.46,240.01 357.05,240.33 C358.64,240.65 361.26,242.15 363.20,242.24 C365.13,242.33 366.61,241.38 368.66,240.87 C370.71,240.37 372.99,239.67 375.49,239.23 C378.00,238.80 381.18,238.12 383.69,238.28 C386.19,238.44 388.47,239.76 390.52,240.19 C392.57,240.62 393.93,240.62 395.98,240.87 C398.03,241.12 400.65,241.33 402.81,241.69 C404.98,242.06 407.94,242.83 408.96,243.06" fill="none" stroke="#7a4050" stroke-width="0.65"/>
<path d="M353.63,241.69 C354.20,241.69 355.46,241.33 357.05,241.69 C358.64,242.06 361.26,243.79 363.20,243.88 C365.13,243.97 366.61,242.83 368.66,242.24 C370.71,241.65 372.99,240.83 375.49,240.33 C378.00,239.83 381.18,239.10 383.69,239.23 C386.19,239.37 388.47,240.74 390.52,241.15 C392.57,241.56 393.93,241.44 395.98,241.69 C398.03,241.94 400.65,242.26 402.81,242.65 C404.98,243.04 407.94,243.79 408.96,244.02" fill="none" stroke="#7a4050" stroke-width="0.65"/>
</g>
<rect x="308.70" y="186.20" width="101.60" height="111.10" fill="none" stroke="#111" stroke-width="1.5"/>
<line x1="319.00" y1="308.20" x2="327.20" y2="308.20" stroke="#111" stroke-width="1.4"/>
<text font-size="9.24" text-anchor="start" fill="#333" stroke="#333" stroke-width="0.1" textLength="24.8" lengthAdjust="spacingAndGlyphs" transform="translate(331.20 311.10)">median</text>
<rect x="362.20" y="305.10" width="6.20" height="6.20" fill="#c8c8c8" stroke="none" stroke-width="1"/>
<text font-size="9.24" text-anchor="start" fill="#333" stroke="#333" stroke-width="0.1" textLength="28.4" lengthAdjust="spacingAndGlyphs" transform="translate(371.60 311.10)">max-min</text>
<rect x="433.00" y="296.87" width="2.05" height="0.63" fill="#b5b5b5" stroke="#8a8a8a" stroke-width="0.35"/>
<rect x="435.05" y="292.61" width="2.05" height="4.89" fill="#b5b5b5" stroke="#8a8a8a" stroke-width="0.35"/>
<rect x="437.10" y="279.47" width="2.05" height="18.03" fill="#b5b5b5" stroke="#8a8a8a" stroke-width="0.35"/>
<rect x="439.15" y="264.90" width="2.05" height="32.60" fill="#b5b5b5" stroke="#8a8a8a" stroke-width="0.35"/>
<rect x="441.20" y="254.72" width="2.05" height="42.78" fill="#b5b5b5" stroke="#8a8a8a" stroke-width="0.35"/>
<rect x="443.25" y="245.92" width="2.05" height="51.58" fill="#b5b5b5" stroke="#8a8a8a" stroke-width="0.35"/>
<rect x="445.30" y="218.15" width="2.05" height="79.35" fill="#b5b5b5" stroke="#8a8a8a" stroke-width="0.35"/>
<rect x="447.35" y="214.92" width="2.05" height="82.58" fill="#b5b5b5" stroke="#8a8a8a" stroke-width="0.35"/>
<rect x="449.40" y="218.84" width="2.05" height="78.66" fill="#b5b5b5" stroke="#8a8a8a" stroke-width="0.35"/>
<rect x="451.45" y="223.99" width="2.05" height="73.51" fill="#b5b5b5" stroke="#8a8a8a" stroke-width="0.35"/>
<rect x="453.50" y="234.92" width="2.05" height="62.58" fill="#b5b5b5" stroke="#8a8a8a" stroke-width="0.35"/>
<rect x="455.55" y="254.72" width="2.05" height="42.78" fill="#b5b5b5" stroke="#8a8a8a" stroke-width="0.35"/>
<rect x="457.60" y="264.21" width="2.05" height="33.29" fill="#b5b5b5" stroke="#8a8a8a" stroke-width="0.35"/>
<rect x="459.65" y="273.70" width="2.05" height="23.80" fill="#b5b5b5" stroke="#8a8a8a" stroke-width="0.35"/>
<rect x="461.70" y="280.99" width="2.05" height="16.51" fill="#b5b5b5" stroke="#8a8a8a" stroke-width="0.35"/>
<rect x="463.75" y="288.27" width="2.05" height="9.23" fill="#b5b5b5" stroke="#8a8a8a" stroke-width="0.35"/>
<rect x="465.80" y="292.61" width="2.05" height="4.89" fill="#b5b5b5" stroke="#8a8a8a" stroke-width="0.35"/>
<rect x="467.85" y="291.92" width="2.05" height="5.58" fill="#b5b5b5" stroke="#8a8a8a" stroke-width="0.35"/>
<rect x="469.90" y="294.12" width="2.05" height="3.38" fill="#b5b5b5" stroke="#8a8a8a" stroke-width="0.35"/>
<rect x="471.95" y="296.32" width="2.05" height="1.18" fill="#b5b5b5" stroke="#8a8a8a" stroke-width="0.35"/>
<rect x="427.30" y="186.20" width="64.20" height="111.30" fill="none" stroke="#111" stroke-width="1.5"/>
<line x1="491.50" y1="284.15" x2="494.10" y2="284.15" stroke="#1a1a1a" stroke-width="0.9"/>
<text font-size="9.4" text-anchor="start" fill="#3a3a3a" stroke="#3a3a3a" stroke-width="0.1" transform="translate(497.00 287.45)">20</text>
<line x1="491.50" y1="270.40" x2="493.10" y2="270.40" stroke="#1a1a1a" stroke-width="0.9"/>
<line x1="491.50" y1="256.65" x2="494.10" y2="256.65" stroke="#1a1a1a" stroke-width="0.9"/>
<text font-size="9.4" text-anchor="start" fill="#3a3a3a" stroke="#3a3a3a" stroke-width="0.1" transform="translate(497.00 259.95)">60</text>
<line x1="491.50" y1="242.90" x2="493.10" y2="242.90" stroke="#1a1a1a" stroke-width="0.9"/>
<line x1="491.50" y1="229.15" x2="494.10" y2="229.15" stroke="#1a1a1a" stroke-width="0.9"/>
<text font-size="9.4" text-anchor="start" fill="#3a3a3a" stroke="#3a3a3a" stroke-width="0.1" transform="translate(497.00 232.45)">100</text>
<line x1="491.50" y1="215.40" x2="493.10" y2="215.40" stroke="#1a1a1a" stroke-width="0.9"/>
<line x1="491.50" y1="201.65" x2="494.10" y2="201.65" stroke="#1a1a1a" stroke-width="0.9"/>
<text font-size="9.4" text-anchor="start" fill="#3a3a3a" stroke="#3a3a3a" stroke-width="0.1" transform="translate(497.00 204.95)">140</text>
<line x1="491.50" y1="187.90" x2="493.10" y2="187.90" stroke="#1a1a1a" stroke-width="0.9"/>
<line x1="443.00" y1="297.50" x2="443.00" y2="299.90" stroke="#1a1a1a" stroke-width="0.9"/>
<text font-size="8.6" text-anchor="middle" fill="#3a3a3a" stroke="#3a3a3a" stroke-width="0.1" textLength="18.5" lengthAdjust="spacingAndGlyphs" transform="translate(443.00 311.60)">0.04</text>
<line x1="475.40" y1="297.50" x2="475.40" y2="299.90" stroke="#1a1a1a" stroke-width="0.9"/>
<text font-size="8.6" text-anchor="middle" fill="#3a3a3a" stroke="#3a3a3a" stroke-width="0.1" textLength="18.5" lengthAdjust="spacingAndGlyphs" transform="translate(475.40 311.60)">0.08</text>
<line x1="459.20" y1="297.50" x2="459.20" y2="299.00" stroke="#1a1a1a" stroke-width="0.9"/>
<text font-size="9.9" text-anchor="middle" fill="#3a3a3a" stroke="#3a3a3a" stroke-width="0.1" textLength="43.5" lengthAdjust="spacingAndGlyphs" transform="translate(458.90 326.00)">Norm. RMSD</text>
<text font-size="9.24" text-anchor="middle" fill="#3a3a3a" stroke="#3a3a3a" stroke-width="0.1" textLength="49" lengthAdjust="spacingAndGlyphs" transform="translate(421.80 241.80) rotate(-90)">Number of fits</text>
<text font-size="11.8" text-anchor="start" fill="#111" font-weight="bold" transform="translate(7.50 353.50) scale(0.88 1)" stroke="#111" stroke-width="0.35">E</text>
<text font-size="9.9" text-anchor="middle" fill="#222" stroke="#222" stroke-width="0.1" textLength="52" lengthAdjust="spacingAndGlyphs" transform="translate(77.50 371.00)">log(I&#954;B<tspan font-size="5" dy="-3">&#8211;</tspan><tspan dy="3">/WT</tspan></text>
<text font-size="9.9" text-anchor="middle" fill="#222" stroke="#222" stroke-width="0.1" textLength="57" lengthAdjust="spacingAndGlyphs" transform="translate(77.80 382.60)">Branch Ratio)</text>
<rect x="41.90" y="421.78" width="20.80" height="3.82" fill="#ee9fb4" stroke="none" stroke-width="1"/>
<rect x="67.50" y="424.33" width="20.20" height="2.07" fill="#241a6a" stroke="none" stroke-width="1"/>
<rect x="93.00" y="425.60" width="20.00" height="9.18" fill="#1f9a98" stroke="none" stroke-width="1"/>
<line x1="39.40" y1="425.60" x2="115.20" y2="425.60" stroke="#777" stroke-width="0.8"/>
<line x1="52.10" y1="416.50" x2="52.10" y2="428.00" stroke="#333" stroke-width="0.7"/>
<line x1="77.50" y1="419.00" x2="77.50" y2="428.70" stroke="#333" stroke-width="0.7"/>
<line x1="103.00" y1="428.00" x2="103.00" y2="442.50" stroke="#333" stroke-width="0.7"/>
<rect x="39.40" y="387.70" width="75.80" height="76.00" fill="none" stroke="#111" stroke-width="1.4"/>
<line x1="36.90" y1="451.10" x2="39.40" y2="451.10" stroke="#1a1a1a" stroke-width="0.9"/>
<text font-size="8.6" text-anchor="end" fill="#3a3a3a" stroke="#3a3a3a" stroke-width="0.1" transform="translate(32.80 454.20) scale(0.88 1)">&#8211;1</text>
<line x1="36.90" y1="425.60" x2="39.40" y2="425.60" stroke="#1a1a1a" stroke-width="0.9"/>
<text font-size="8.6" text-anchor="end" fill="#3a3a3a" stroke="#3a3a3a" stroke-width="0.1" transform="translate(32.80 428.70) scale(0.88 1)">0</text>
<line x1="36.90" y1="400.10" x2="39.40" y2="400.10" stroke="#1a1a1a" stroke-width="0.9"/>
<text font-size="8.6" text-anchor="end" fill="#3a3a3a" stroke="#3a3a3a" stroke-width="0.1" transform="translate(32.80 403.20) scale(0.88 1)">1</text>
<line x1="37.90" y1="438.35" x2="39.40" y2="438.35" stroke="#1a1a1a" stroke-width="0.9"/>
<line x1="37.90" y1="412.85" x2="39.40" y2="412.85" stroke="#1a1a1a" stroke-width="0.9"/>
<line x1="52.10" y1="463.70" x2="52.10" y2="466.10" stroke="#1a1a1a" stroke-width="0.9"/>
<text font-size="9.46" text-anchor="middle" fill="#ecb0be" stroke="#ecb0be" stroke-width="0.1" transform="translate(52.10 476.80) scale(0.87 1)">EMP</text>
<line x1="77.50" y1="463.70" x2="77.50" y2="466.10" stroke="#1a1a1a" stroke-width="0.9"/>
<text font-size="9.46" text-anchor="middle" fill="#352e80" stroke="#352e80" stroke-width="0.1" transform="translate(77.50 476.80) scale(0.87 1)">MyP</text>
<line x1="103.00" y1="463.70" x2="103.00" y2="466.10" stroke="#1a1a1a" stroke-width="0.9"/>
<text font-size="9.46" text-anchor="middle" fill="#3f9ea2" stroke="#3f9ea2" stroke-width="0.1" transform="translate(103.00 476.80) scale(0.87 1)">LyP</text>
<text font-size="9.9" text-anchor="middle" fill="#222" stroke="#222" stroke-width="0.1" transform="translate(187.40 371.00) scale(0.95 1)">I&#954;B<tspan font-size="5" dy="-3">&#8211;</tspan><tspan dy="3"> &#8211; WT </tspan><tspan fill="#aaa862">HSC</tspan></text>
<text font-size="9.9" text-anchor="middle" fill="#222" stroke="#222" stroke-width="0.1" textLength="44" lengthAdjust="spacingAndGlyphs" transform="translate(187.30 382.60)">Flux Func.</text>
<text font-size="9.9" text-anchor="middle" fill="#222" stroke="#222" stroke-width="0.1" transform="translate(281.40 371.00) scale(0.95 1)">I&#954;B<tspan font-size="5" dy="-3">&#8211;</tspan><tspan dy="3"> &#8211; WT </tspan><tspan fill="#ecb0be">EMP</tspan></text>
<text font-size="9.9" text-anchor="middle" fill="#222" stroke="#222" stroke-width="0.1" textLength="44" lengthAdjust="spacingAndGlyphs" transform="translate(281.45 382.60)">Flux Func.</text>
<text font-size="9.9" text-anchor="middle" fill="#222" stroke="#222" stroke-width="0.1" transform="translate(373.80 371.00) scale(0.95 1)">I&#954;B<tspan font-size="5" dy="-3">&#8211;</tspan><tspan dy="3"> &#8211; WT </tspan><tspan fill="#352e80">MyP</tspan></text>
<text font-size="9.9" text-anchor="middle" fill="#222" stroke="#222" stroke-width="0.1" textLength="44" lengthAdjust="spacingAndGlyphs" transform="translate(375.20 382.60)">Flux Func.</text>
<text font-size="9.9" text-anchor="middle" fill="#222" stroke="#222" stroke-width="0.1" transform="translate(469.50 371.00) scale(0.95 1)">I&#954;B<tspan font-size="5" dy="-3">&#8211;</tspan><tspan dy="3"> &#8211; WT </tspan><tspan fill="#352e80">LyP</tspan></text>
<text font-size="9.9" text-anchor="middle" fill="#222" stroke="#222" stroke-width="0.1" textLength="44" lengthAdjust="spacingAndGlyphs" transform="translate(470.10 382.60)">Flux Func.</text>
<path d="M150.72,388.27 C150.86,391.26 151.18,401.75 151.54,406.24 C151.89,410.74 152.03,413.32 152.84,415.23 C153.66,417.14 155.16,416.92 156.44,417.68 C157.72,418.44 159.16,419.72 160.52,419.80 C161.88,419.89 162.84,418.80 164.61,418.17 C166.38,417.54 169.51,416.35 171.14,416.05 C172.78,415.75 172.78,415.69 174.41,416.37 C176.05,417.05 178.77,418.82 180.95,420.13 C183.13,421.44 185.03,422.77 187.48,424.22 C189.93,425.66 193.47,428.11 195.65,428.79 C197.83,429.47 198.65,428.79 200.56,428.30 C202.46,427.81 205.05,426.58 207.09,425.85 C209.13,425.11 211.18,424.16 212.81,423.89 C214.44,423.62 215.67,423.75 216.90,424.22 C218.12,424.68 219.48,424.76 220.16,426.67 C220.84,428.57 220.84,434.16 220.98,435.65 L220.98,435.65 C220.71,435.38 220.30,434.97 219.35,434.02 C218.39,433.07 216.76,430.70 215.26,429.93 C213.76,429.17 212.27,429.09 210.36,429.44 C208.45,429.80 205.87,431.43 203.82,432.06 C201.78,432.69 200.01,433.34 198.10,433.20 C196.20,433.07 194.43,432.19 192.39,431.24 C190.34,430.29 187.89,428.57 185.85,427.48 C183.81,426.39 181.36,425.11 180.13,424.71 C178.91,424.30 179.59,424.16 178.50,425.03 C177.41,425.90 175.36,428.16 173.59,429.93 C171.82,431.70 169.37,434.43 167.88,435.65 C166.38,436.88 165.70,436.20 164.61,437.29 C163.52,438.38 162.29,440.28 161.34,442.19 C160.39,444.10 159.57,447.64 158.89,448.73 C158.21,449.81 157.88,449.27 157.25,448.73 C156.63,448.18 155.76,445.19 155.13,445.46 C154.50,445.73 153.96,447.64 153.50,450.36 C153.03,453.08 152.54,459.89 152.35,461.80 Z" fill="#e4e0c0" stroke="none"/>
<path d="M150.72,388.27 C150.86,391.26 151.18,401.75 151.54,406.24 C151.89,410.74 152.03,413.32 152.84,415.23 C153.66,417.14 155.16,416.92 156.44,417.68 C157.72,418.44 159.16,419.72 160.52,419.80 C161.88,419.89 162.84,418.80 164.61,418.17 C166.38,417.54 169.51,416.35 171.14,416.05 C172.78,415.75 172.78,415.69 174.41,416.37 C176.05,417.05 178.77,418.82 180.95,420.13 C183.13,421.44 185.03,422.77 187.48,424.22 C189.93,425.66 193.47,428.11 195.65,428.79 C197.83,429.47 198.65,428.79 200.56,428.30 C202.46,427.81 205.05,426.58 207.09,425.85 C209.13,425.11 211.18,424.16 212.81,423.89 C214.44,423.62 215.67,423.75 216.90,424.22 C218.12,424.68 219.48,424.76 220.16,426.67 C220.84,428.57 220.84,434.16 220.98,435.65" fill="none" stroke="#3a3a28" stroke-width="0.9"/>
<path d="M152.35,461.80 C152.54,459.89 153.03,453.08 153.50,450.36 C153.96,447.64 154.50,445.73 155.13,445.46 C155.76,445.19 156.63,448.18 157.25,448.73 C157.88,449.27 158.21,449.81 158.89,448.73 C159.57,447.64 160.39,444.10 161.34,442.19 C162.29,440.28 163.52,438.38 164.61,437.29 C165.70,436.20 166.38,436.88 167.88,435.65 C169.37,434.43 171.82,431.70 173.59,429.93 C175.36,428.16 177.41,425.90 178.50,425.03 C179.59,424.16 178.91,424.30 180.13,424.71 C181.36,425.11 183.81,426.39 185.85,427.48 C187.89,428.57 190.34,430.29 192.39,431.24 C194.43,432.19 196.20,433.07 198.10,433.20 C200.01,433.34 201.78,432.69 203.82,432.06 C205.87,431.43 208.45,429.80 210.36,429.44 C212.27,429.09 213.76,429.17 215.26,429.93 C216.76,430.70 218.39,433.07 219.35,434.02 C220.30,434.97 220.71,435.38 220.98,435.65" fill="none" stroke="#3a3a28" stroke-width="0.9"/>
<path d="M150.72,429.12 C151.40,429.39 153.17,430.21 154.80,430.75 C156.44,431.30 158.34,432.79 160.52,432.39 C162.70,431.98 165.02,429.99 167.88,428.30 C170.74,426.61 175.23,423.21 177.68,422.25 C180.13,421.30 180.40,421.85 182.58,422.58 C184.76,423.32 188.30,425.44 190.75,426.67 C193.20,427.89 194.84,429.66 197.29,429.93 C199.74,430.21 202.73,428.85 205.46,428.30 C208.18,427.76 211.45,426.75 213.63,426.67 C215.81,426.58 217.39,426.86 218.53,427.81 C219.67,428.76 220.16,431.62 220.49,432.39" fill="none" stroke="#aaa660" stroke-width="0.8"/>
<clipPath id="ce"><rect x="243.3" y="387.6" width="76.3" height="75.9"/></clipPath><g clip-path="url(#ce)">
<path d="M249.31,429.93 C249.80,430.07 251.08,430.48 252.25,430.75 C253.43,431.02 254.57,432.25 256.34,431.57 C258.11,430.89 260.70,428.03 262.88,426.67 C265.05,425.31 267.51,423.86 269.41,423.40 C271.32,422.94 272.41,423.15 274.31,423.89 C276.22,424.62 278.67,426.45 280.85,427.81 C283.03,429.17 285.48,431.35 287.39,432.06 C289.29,432.77 290.52,432.69 292.29,432.06 C294.06,431.43 296.51,429.25 298.01,428.30 C299.50,427.35 299.78,426.20 301.27,426.34 C302.77,426.48 305.63,428.25 306.99,429.12 C308.36,429.99 307.35,431.16 309.44,431.57 C311.54,431.98 317.89,431.57 319.58,431.57 L320.07,463.43 L309.93,463.43 C309.72,461.80 309.12,457.17 308.63,453.63 C308.14,450.09 307.67,445.46 306.99,442.19 C306.31,438.92 305.63,435.52 304.54,434.02 C303.45,432.52 302.23,433.07 300.46,433.20 C298.69,433.34 295.96,434.37 293.92,434.84 C291.88,435.30 290.11,436.25 288.20,435.98 C286.30,435.71 284.66,434.40 282.48,433.20 C280.31,432.00 277.31,429.69 275.13,428.79 C272.95,427.89 271.45,427.21 269.41,427.81 C267.37,428.41 265.05,430.86 262.88,432.39 C260.70,433.91 258.25,435.82 256.34,436.96 C254.43,438.10 252.61,439.06 251.44,439.25 C250.27,439.44 249.67,438.30 249.31,438.10Z" fill="#f7d7de" stroke="none"/>
<path d="M249.31,429.93 C249.80,430.07 251.08,430.48 252.25,430.75 C253.43,431.02 254.57,432.25 256.34,431.57 C258.11,430.89 260.70,428.03 262.88,426.67 C265.05,425.31 267.51,423.86 269.41,423.40 C271.32,422.94 272.41,423.15 274.31,423.89 C276.22,424.62 278.67,426.45 280.85,427.81 C283.03,429.17 285.48,431.35 287.39,432.06 C289.29,432.77 290.52,432.69 292.29,432.06 C294.06,431.43 296.51,429.25 298.01,428.30 C299.50,427.35 299.78,426.20 301.27,426.34 C302.77,426.48 305.63,428.25 306.99,429.12 C308.36,429.99 307.35,431.16 309.44,431.57 C311.54,431.98 317.89,431.57 319.58,431.57" fill="none" stroke="#4a2232" stroke-width="0.8"/>
<path d="M249.31,438.10 C249.67,438.30 250.27,439.44 251.44,439.25 C252.61,439.06 254.43,438.10 256.34,436.96 C258.25,435.82 260.70,433.91 262.88,432.39 C265.05,430.86 267.37,428.41 269.41,427.81 C271.45,427.21 272.95,427.89 275.13,428.79 C277.31,429.69 280.31,432.00 282.48,433.20 C284.66,434.40 286.30,435.71 288.20,435.98 C290.11,436.25 291.88,435.30 293.92,434.84 C295.96,434.37 298.69,433.34 300.46,433.20 C302.23,433.07 303.45,432.52 304.54,434.02 C305.63,435.52 306.31,438.92 306.99,442.19 C307.67,445.46 308.14,450.09 308.63,453.63 C309.12,457.17 309.72,461.80 309.93,463.43" fill="none" stroke="#4a2232" stroke-width="0.8"/>
<path d="M249.31,434.02 C250.48,434.02 252.99,435.44 256.34,434.02 C259.69,432.60 265.05,426.12 269.41,425.52 C273.77,424.92 279.22,429.01 282.48,430.42 C285.75,431.84 286.02,434.10 289.02,434.02 C292.02,433.94 297.73,430.21 300.46,429.93 C303.18,429.66 303.73,430.07 305.36,432.39 C306.99,434.70 308.90,440.28 310.26,443.82 C311.62,447.36 312.77,450.36 313.53,453.63 C314.29,456.90 314.62,461.80 314.84,463.43" fill="none" stroke="#e48aa2" stroke-width="0.7"/>
</g>
<clipPath id="cy"><rect x="337.4" y="387.6" width="75.6" height="75.9"/></clipPath><g clip-path="url(#cy)">
<path d="M343.07,429.12 C343.89,427.21 345.93,420.81 347.97,417.68 C350.02,414.55 353.56,411.28 355.33,410.33 C357.10,409.37 356.82,410.05 358.59,411.96 C360.36,413.87 363.63,419.04 365.95,421.76 C368.26,424.49 370.31,427.02 372.48,428.30 C374.66,429.58 376.84,430.13 379.02,429.44 C381.20,428.76 383.65,425.63 385.56,424.22 C387.46,422.80 388.96,421.63 390.46,420.95 C391.96,420.27 393.18,421.27 394.54,420.13 C395.90,418.99 397.40,414.36 398.63,414.08 C399.85,413.81 400.94,417.30 401.90,418.50 C402.85,419.69 403.39,422.09 404.35,421.27 C405.30,420.46 406.39,417.60 407.61,413.59 C408.84,409.59 410.75,401.88 411.70,397.25 C412.65,392.63 413.06,387.72 413.33,385.82 L414.15,463.43 L403.04,463.43 C402.85,459.35 402.36,444.10 401.90,438.92 C401.43,433.75 401.35,434.24 400.26,432.39 C399.17,430.53 396.99,428.57 395.36,427.81 C393.73,427.05 392.09,427.18 390.46,427.81 C388.82,428.44 387.46,430.21 385.56,431.57 C383.65,432.93 381.20,435.30 379.02,435.98 C376.84,436.66 374.66,436.66 372.48,435.65 C370.31,434.65 368.13,432.39 365.95,429.93 C363.77,427.48 361.18,422.72 359.41,420.95 C357.64,419.18 357.23,418.09 355.33,419.31 C353.42,420.54 350.02,425.17 347.97,428.30 C345.93,431.43 343.89,436.47 343.07,438.10Z" fill="#cdc8ec" stroke="none"/>
<path d="M343.07,429.12 C343.89,427.21 345.93,420.81 347.97,417.68 C350.02,414.55 353.56,411.28 355.33,410.33 C357.10,409.37 356.82,410.05 358.59,411.96 C360.36,413.87 363.63,419.04 365.95,421.76 C368.26,424.49 370.31,427.02 372.48,428.30 C374.66,429.58 376.84,430.13 379.02,429.44 C381.20,428.76 383.65,425.63 385.56,424.22 C387.46,422.80 388.96,421.63 390.46,420.95 C391.96,420.27 393.18,421.27 394.54,420.13 C395.90,418.99 397.40,414.36 398.63,414.08 C399.85,413.81 400.94,417.30 401.90,418.50 C402.85,419.69 403.39,422.09 404.35,421.27 C405.30,420.46 406.39,417.60 407.61,413.59 C408.84,409.59 410.75,401.88 411.70,397.25 C412.65,392.63 413.06,387.72 413.33,385.82" fill="none" stroke="#2e2760" stroke-width="0.8"/>
<path d="M343.07,438.10 C343.89,436.47 345.93,431.43 347.97,428.30 C350.02,425.17 353.42,420.54 355.33,419.31 C357.23,418.09 357.64,419.18 359.41,420.95 C361.18,422.72 363.77,427.48 365.95,429.93 C368.13,432.39 370.31,434.65 372.48,435.65 C374.66,436.66 376.84,436.66 379.02,435.98 C381.20,435.30 383.65,432.93 385.56,431.57 C387.46,430.21 388.82,428.44 390.46,427.81 C392.09,427.18 393.73,427.05 395.36,427.81 C396.99,428.57 399.17,430.53 400.26,432.39 C401.35,434.24 401.43,433.75 401.90,438.92 C402.36,444.10 402.85,459.35 403.04,463.43" fill="none" stroke="#2e2760" stroke-width="0.8"/>
<path d="M343.07,433.69 C345.11,430.53 351.51,416.05 355.33,414.74 C359.14,413.43 362.54,422.91 365.95,425.85 C369.35,428.79 372.76,431.84 375.75,432.39 C378.75,432.93 381.20,430.53 383.92,429.12 C386.64,427.70 389.37,424.43 392.09,423.89 C394.81,423.34 397.81,424.43 400.26,425.85 C402.71,427.27 405.16,428.85 406.80,432.39 C408.43,435.93 409.25,441.92 410.07,447.09 C410.88,452.27 411.43,460.71 411.70,463.43" fill="none" stroke="#3a3090" stroke-width="0.8"/>
</g>
<clipPath id="cl"><rect x="432.4" y="387.6" width="75.4" height="75.9"/></clipPath><g clip-path="url(#cl)">
<path d="M437.75,429.93 L442.97,428.30 L445.42,412.78 L447.55,398.07 L449.51,402.97 L451.14,402.16 L452.78,407.88 L456.86,414.08 L460.13,407.88 L464.22,402.97 L468.30,399.71 L470.75,413.59 L472.71,413.59 L474.02,386.63 L509.97,386.63 L509.97,463.43 L447.06,463.43 L446.73,448.73 L444.61,454.44 L441.34,460.16 L439.71,450.36 L438.07,440.56 L437.75,429.93Z" fill="#cde1e4" stroke="none" stroke-width="0" stroke-linejoin="round"/>
<path d="M437.75,429.93 L442.97,428.30 L445.42,412.78 L447.55,398.07 L449.51,402.97 L451.14,402.16 L452.78,407.88 L456.86,414.08 L460.13,407.88 L464.22,402.97 L468.30,399.71 L470.75,413.59 L472.71,413.59 L474.02,386.63 L509.97,386.63" fill="None" stroke="#2f5a5f" stroke-width="0.8" stroke-linejoin="round"/>
<path d="M437.75,429.93 L438.07,440.56 L439.71,450.36 L441.34,460.16 L444.61,454.44 L446.73,448.73 L447.06,463.43" fill="None" stroke="#2f5a5f" stroke-width="0.8" stroke-linejoin="round"/>
<path d="M438.07,434.02 C438.75,434.84 440.80,438.79 442.16,438.92 C443.52,439.06 444.88,436.06 446.24,434.84 C447.60,433.61 448.97,431.84 450.33,431.57 C451.69,431.30 453.19,431.70 454.41,433.20 C455.64,434.70 456.73,437.15 457.68,440.56 C458.63,443.96 459.53,449.81 460.13,453.63 C460.73,457.44 461.08,461.80 461.27,463.43" fill="none" stroke="#3f8f95" stroke-width="0.8"/>
<path d="M497.71,463.43 C498.12,460.98 499.07,453.63 500.16,448.73 C501.25,443.82 502.89,440.15 504.25,434.02 C505.61,427.89 507.65,415.64 508.33,411.96" fill="none" stroke="#3f8f95" stroke-width="0.8"/>
</g>
<rect x="149.60" y="387.60" width="75.40" height="75.90" fill="none" stroke="#111" stroke-width="1.4"/>
<line x1="148.10" y1="463.80" x2="149.60" y2="463.80" stroke="#1a1a1a" stroke-width="0.9"/>
<line x1="147.20" y1="455.30" x2="149.60" y2="455.30" stroke="#1a1a1a" stroke-width="0.9"/>
<line x1="148.10" y1="446.80" x2="149.60" y2="446.80" stroke="#1a1a1a" stroke-width="0.9"/>
<line x1="147.20" y1="438.30" x2="149.60" y2="438.30" stroke="#1a1a1a" stroke-width="0.9"/>
<line x1="148.10" y1="429.80" x2="149.60" y2="429.80" stroke="#1a1a1a" stroke-width="0.9"/>
<line x1="147.20" y1="421.30" x2="149.60" y2="421.30" stroke="#1a1a1a" stroke-width="0.9"/>
<line x1="148.10" y1="412.80" x2="149.60" y2="412.80" stroke="#1a1a1a" stroke-width="0.9"/>
<line x1="147.20" y1="404.30" x2="149.60" y2="404.30" stroke="#1a1a1a" stroke-width="0.9"/>
<line x1="148.10" y1="395.80" x2="149.60" y2="395.80" stroke="#1a1a1a" stroke-width="0.9"/>
<line x1="147.20" y1="387.30" x2="149.60" y2="387.30" stroke="#1a1a1a" stroke-width="0.9"/>
<line x1="149.60" y1="463.50" x2="149.60" y2="465.90" stroke="#1a1a1a" stroke-width="0.9"/>
<text font-size="8.6" text-anchor="middle" fill="#3a3a3a" stroke="#3a3a3a" stroke-width="0.1" transform="translate(149.60 476.60) scale(0.88 1)">0.0</text>
<line x1="187.30" y1="463.50" x2="187.30" y2="465.90" stroke="#1a1a1a" stroke-width="0.9"/>
<text font-size="8.6" text-anchor="middle" fill="#3a3a3a" stroke="#3a3a3a" stroke-width="0.1" transform="translate(187.30 476.60) scale(0.88 1)">0.2</text>
<line x1="225.00" y1="463.50" x2="225.00" y2="465.90" stroke="#1a1a1a" stroke-width="0.9"/>
<text font-size="8.6" text-anchor="middle" fill="#3a3a3a" stroke="#3a3a3a" stroke-width="0.1" transform="translate(225.00 476.60) scale(0.88 1)">0.4</text>
<line x1="149.60" y1="463.50" x2="149.60" y2="465.00" stroke="#1a1a1a" stroke-width="0.8"/>
<line x1="159.03" y1="463.50" x2="159.03" y2="465.00" stroke="#1a1a1a" stroke-width="0.8"/>
<line x1="168.45" y1="463.50" x2="168.45" y2="465.00" stroke="#1a1a1a" stroke-width="0.8"/>
<line x1="177.88" y1="463.50" x2="177.88" y2="465.00" stroke="#1a1a1a" stroke-width="0.8"/>
<line x1="187.30" y1="463.50" x2="187.30" y2="465.00" stroke="#1a1a1a" stroke-width="0.8"/>
<line x1="196.73" y1="463.50" x2="196.73" y2="465.00" stroke="#1a1a1a" stroke-width="0.8"/>
<line x1="206.15" y1="463.50" x2="206.15" y2="465.00" stroke="#1a1a1a" stroke-width="0.8"/>
<line x1="215.58" y1="463.50" x2="215.58" y2="465.00" stroke="#1a1a1a" stroke-width="0.8"/>
<line x1="225.00" y1="463.50" x2="225.00" y2="465.00" stroke="#1a1a1a" stroke-width="0.8"/>
<text font-size="9.46" text-anchor="middle" fill="#3a3a3a" stroke="#3a3a3a" stroke-width="0.1" textLength="40" lengthAdjust="spacingAndGlyphs" transform="translate(187.30 489.90)">Pseudotime</text>
<rect x="243.30" y="387.60" width="76.30" height="75.90" fill="none" stroke="#111" stroke-width="1.4"/>
<line x1="241.80" y1="463.80" x2="243.30" y2="463.80" stroke="#1a1a1a" stroke-width="0.9"/>
<line x1="240.90" y1="455.30" x2="243.30" y2="455.30" stroke="#1a1a1a" stroke-width="0.9"/>
<line x1="241.80" y1="446.80" x2="243.30" y2="446.80" stroke="#1a1a1a" stroke-width="0.9"/>
<line x1="240.90" y1="438.30" x2="243.30" y2="438.30" stroke="#1a1a1a" stroke-width="0.9"/>
<line x1="241.80" y1="429.80" x2="243.30" y2="429.80" stroke="#1a1a1a" stroke-width="0.9"/>
<line x1="240.90" y1="421.30" x2="243.30" y2="421.30" stroke="#1a1a1a" stroke-width="0.9"/>
<line x1="241.80" y1="412.80" x2="243.30" y2="412.80" stroke="#1a1a1a" stroke-width="0.9"/>
<line x1="240.90" y1="404.30" x2="243.30" y2="404.30" stroke="#1a1a1a" stroke-width="0.9"/>
<line x1="241.80" y1="395.80" x2="243.30" y2="395.80" stroke="#1a1a1a" stroke-width="0.9"/>
<line x1="240.90" y1="387.30" x2="243.30" y2="387.30" stroke="#1a1a1a" stroke-width="0.9"/>
<line x1="251.80" y1="463.50" x2="251.80" y2="465.90" stroke="#1a1a1a" stroke-width="0.9"/>
<text font-size="8.6" text-anchor="middle" fill="#3a3a3a" stroke="#3a3a3a" stroke-width="0.1" transform="translate(251.80 476.60) scale(0.88 1)">0.4</text>
<line x1="285.60" y1="463.50" x2="285.60" y2="465.90" stroke="#1a1a1a" stroke-width="0.9"/>
<text font-size="8.6" text-anchor="middle" fill="#3a3a3a" stroke="#3a3a3a" stroke-width="0.1" transform="translate(285.60 476.60) scale(0.88 1)">0.6</text>
<line x1="319.60" y1="463.50" x2="319.60" y2="465.90" stroke="#1a1a1a" stroke-width="0.9"/>
<text font-size="8.6" text-anchor="middle" fill="#3a3a3a" stroke="#3a3a3a" stroke-width="0.1" transform="translate(319.60 476.60) scale(0.88 1)">0.8</text>
<line x1="243.35" y1="463.50" x2="243.35" y2="465.00" stroke="#1a1a1a" stroke-width="0.8"/>
<line x1="251.80" y1="463.50" x2="251.80" y2="465.00" stroke="#1a1a1a" stroke-width="0.8"/>
<line x1="260.25" y1="463.50" x2="260.25" y2="465.00" stroke="#1a1a1a" stroke-width="0.8"/>
<line x1="268.70" y1="463.50" x2="268.70" y2="465.00" stroke="#1a1a1a" stroke-width="0.8"/>
<line x1="277.15" y1="463.50" x2="277.15" y2="465.00" stroke="#1a1a1a" stroke-width="0.8"/>
<line x1="285.60" y1="463.50" x2="285.60" y2="465.00" stroke="#1a1a1a" stroke-width="0.8"/>
<line x1="294.05" y1="463.50" x2="294.05" y2="465.00" stroke="#1a1a1a" stroke-width="0.8"/>
<line x1="302.50" y1="463.50" x2="302.50" y2="465.00" stroke="#1a1a1a" stroke-width="0.8"/>
<line x1="310.95" y1="463.50" x2="310.95" y2="465.00" stroke="#1a1a1a" stroke-width="0.8"/>
<line x1="319.40" y1="463.50" x2="319.40" y2="465.00" stroke="#1a1a1a" stroke-width="0.8"/>
<text font-size="9.46" text-anchor="middle" fill="#3a3a3a" stroke="#3a3a3a" stroke-width="0.1" textLength="40" lengthAdjust="spacingAndGlyphs" transform="translate(281.45 489.90)">Pseudotime</text>
<rect x="337.40" y="387.60" width="75.60" height="75.90" fill="none" stroke="#111" stroke-width="1.4"/>
<line x1="335.90" y1="463.80" x2="337.40" y2="463.80" stroke="#1a1a1a" stroke-width="0.9"/>
<line x1="335.00" y1="455.30" x2="337.40" y2="455.30" stroke="#1a1a1a" stroke-width="0.9"/>
<line x1="335.90" y1="446.80" x2="337.40" y2="446.80" stroke="#1a1a1a" stroke-width="0.9"/>
<line x1="335.00" y1="438.30" x2="337.40" y2="438.30" stroke="#1a1a1a" stroke-width="0.9"/>
<line x1="335.90" y1="429.80" x2="337.40" y2="429.80" stroke="#1a1a1a" stroke-width="0.9"/>
<line x1="335.00" y1="421.30" x2="337.40" y2="421.30" stroke="#1a1a1a" stroke-width="0.9"/>
<line x1="335.90" y1="412.80" x2="337.40" y2="412.80" stroke="#1a1a1a" stroke-width="0.9"/>
<line x1="335.00" y1="404.30" x2="337.40" y2="404.30" stroke="#1a1a1a" stroke-width="0.9"/>
<line x1="335.90" y1="395.80" x2="337.40" y2="395.80" stroke="#1a1a1a" stroke-width="0.9"/>
<line x1="335.00" y1="387.30" x2="337.40" y2="387.30" stroke="#1a1a1a" stroke-width="0.9"/>
<line x1="346.30" y1="463.50" x2="346.30" y2="465.90" stroke="#1a1a1a" stroke-width="0.9"/>
<text font-size="8.6" text-anchor="middle" fill="#3a3a3a" stroke="#3a3a3a" stroke-width="0.1" transform="translate(346.30 476.60) scale(0.88 1)">0.4</text>
<line x1="379.80" y1="463.50" x2="379.80" y2="465.90" stroke="#1a1a1a" stroke-width="0.9"/>
<text font-size="8.6" text-anchor="middle" fill="#3a3a3a" stroke="#3a3a3a" stroke-width="0.1" transform="translate(379.80 476.60) scale(0.88 1)">0.6</text>
<line x1="413.00" y1="463.50" x2="413.00" y2="465.90" stroke="#1a1a1a" stroke-width="0.9"/>
<text font-size="8.6" text-anchor="middle" fill="#3a3a3a" stroke="#3a3a3a" stroke-width="0.1" transform="translate(413.00 476.60) scale(0.88 1)">0.8</text>
<line x1="337.93" y1="463.50" x2="337.93" y2="465.00" stroke="#1a1a1a" stroke-width="0.8"/>
<line x1="346.30" y1="463.50" x2="346.30" y2="465.00" stroke="#1a1a1a" stroke-width="0.8"/>
<line x1="354.68" y1="463.50" x2="354.68" y2="465.00" stroke="#1a1a1a" stroke-width="0.8"/>
<line x1="363.05" y1="463.50" x2="363.05" y2="465.00" stroke="#1a1a1a" stroke-width="0.8"/>
<line x1="371.43" y1="463.50" x2="371.43" y2="465.00" stroke="#1a1a1a" stroke-width="0.8"/>
<line x1="379.80" y1="463.50" x2="379.80" y2="465.00" stroke="#1a1a1a" stroke-width="0.8"/>
<line x1="388.18" y1="463.50" x2="388.18" y2="465.00" stroke="#1a1a1a" stroke-width="0.8"/>
<line x1="396.55" y1="463.50" x2="396.55" y2="465.00" stroke="#1a1a1a" stroke-width="0.8"/>
<line x1="404.93" y1="463.50" x2="404.93" y2="465.00" stroke="#1a1a1a" stroke-width="0.8"/>
<text font-size="9.46" text-anchor="middle" fill="#3a3a3a" stroke="#3a3a3a" stroke-width="0.1" textLength="40" lengthAdjust="spacingAndGlyphs" transform="translate(375.20 489.90)">Pseudotime</text>
<rect x="432.40" y="387.60" width="75.40" height="75.90" fill="none" stroke="#111" stroke-width="1.4"/>
<line x1="430.90" y1="463.80" x2="432.40" y2="463.80" stroke="#1a1a1a" stroke-width="0.9"/>
<line x1="430.00" y1="455.30" x2="432.40" y2="455.30" stroke="#1a1a1a" stroke-width="0.9"/>
<line x1="430.90" y1="446.80" x2="432.40" y2="446.80" stroke="#1a1a1a" stroke-width="0.9"/>
<line x1="430.00" y1="438.30" x2="432.40" y2="438.30" stroke="#1a1a1a" stroke-width="0.9"/>
<line x1="430.90" y1="429.80" x2="432.40" y2="429.80" stroke="#1a1a1a" stroke-width="0.9"/>
<line x1="430.00" y1="421.30" x2="432.40" y2="421.30" stroke="#1a1a1a" stroke-width="0.9"/>
<line x1="430.90" y1="412.80" x2="432.40" y2="412.80" stroke="#1a1a1a" stroke-width="0.9"/>
<line x1="430.00" y1="404.30" x2="432.40" y2="404.30" stroke="#1a1a1a" stroke-width="0.9"/>
<line x1="430.90" y1="395.80" x2="432.40" y2="395.80" stroke="#1a1a1a" stroke-width="0.9"/>
<line x1="430.00" y1="387.30" x2="432.40" y2="387.30" stroke="#1a1a1a" stroke-width="0.9"/>
<line x1="440.50" y1="463.50" x2="440.50" y2="465.90" stroke="#1a1a1a" stroke-width="0.9"/>
<text font-size="8.6" text-anchor="middle" fill="#3a3a3a" stroke="#3a3a3a" stroke-width="0.1" transform="translate(440.50 476.60) scale(0.88 1)">0.4</text>
<line x1="474.00" y1="463.50" x2="474.00" y2="465.90" stroke="#1a1a1a" stroke-width="0.9"/>
<text font-size="8.6" text-anchor="middle" fill="#3a3a3a" stroke="#3a3a3a" stroke-width="0.1" transform="translate(474.00 476.60) scale(0.88 1)">0.6</text>
<line x1="507.80" y1="463.50" x2="507.80" y2="465.90" stroke="#1a1a1a" stroke-width="0.9"/>
<text font-size="8.6" text-anchor="middle" fill="#3a3a3a" stroke="#3a3a3a" stroke-width="0.1" transform="translate(507.80 476.60) scale(0.88 1)">0.8</text>
<line x1="440.50" y1="463.50" x2="440.50" y2="465.00" stroke="#1a1a1a" stroke-width="0.8"/>
<line x1="448.88" y1="463.50" x2="448.88" y2="465.00" stroke="#1a1a1a" stroke-width="0.8"/>
<line x1="457.25" y1="463.50" x2="457.25" y2="465.00" stroke="#1a1a1a" stroke-width="0.8"/>
<line x1="465.62" y1="463.50" x2="465.62" y2="465.00" stroke="#1a1a1a" stroke-width="0.8"/>
<line x1="474.00" y1="463.50" x2="474.00" y2="465.00" stroke="#1a1a1a" stroke-width="0.8"/>
<line x1="482.38" y1="463.50" x2="482.38" y2="465.00" stroke="#1a1a1a" stroke-width="0.8"/>
<line x1="490.75" y1="463.50" x2="490.75" y2="465.00" stroke="#1a1a1a" stroke-width="0.8"/>
<line x1="499.12" y1="463.50" x2="499.12" y2="465.00" stroke="#1a1a1a" stroke-width="0.8"/>
<line x1="507.50" y1="463.50" x2="507.50" y2="465.00" stroke="#1a1a1a" stroke-width="0.8"/>
<text font-size="9.46" text-anchor="middle" fill="#3a3a3a" stroke="#3a3a3a" stroke-width="0.1" textLength="40" lengthAdjust="spacingAndGlyphs" transform="translate(470.10 489.90)">Pseudotime</text>
<text font-size="8.6" text-anchor="end" fill="#3a3a3a" stroke="#3a3a3a" stroke-width="0.1" transform="translate(143.40 390.40) scale(0.88 1)">50</text>
<text font-size="8.6" text-anchor="end" fill="#3a3a3a" stroke="#3a3a3a" stroke-width="0.1" transform="translate(143.40 407.40) scale(0.88 1)">30</text>
<text font-size="8.6" text-anchor="end" fill="#3a3a3a" stroke="#3a3a3a" stroke-width="0.1" transform="translate(143.40 424.40) scale(0.88 1)">10</text>
<text font-size="8.6" text-anchor="end" fill="#3a3a3a" stroke="#3a3a3a" stroke-width="0.1" transform="translate(143.40 441.40) scale(0.88 1)">&#8211;10</text>
<text font-size="8.6" text-anchor="end" fill="#3a3a3a" stroke="#3a3a3a" stroke-width="0.1" transform="translate(143.40 458.40) scale(0.88 1)">&#8211;30</text>
<line x1="430.00" y1="499.60" x2="438.80" y2="499.60" stroke="#111" stroke-width="1.4"/>
<text font-size="9.02" text-anchor="start" fill="#333" stroke="#333" stroke-width="0.1" textLength="25.5" lengthAdjust="spacingAndGlyphs" transform="translate(442.00 502.40)">median</text>
<rect x="473.40" y="496.60" width="5.80" height="5.90" fill="#c8c8c8" stroke="none" stroke-width="1"/>
<text font-size="9.02" text-anchor="start" fill="#333" stroke="#333" stroke-width="0.1" textLength="29" lengthAdjust="spacingAndGlyphs" transform="translate(482.70 502.40)">max-min</text>
<text font-size="11.8" text-anchor="start" fill="#111" font-weight="bold" transform="translate(8.30 523.50) scale(0.88 1)" stroke="#111" stroke-width="0.35">F</text>
<rect x="39.50" y="534.20" width="94.80" height="74.30" fill="none" stroke="none" stroke-width="1"/>
<path d="M46.92,562.79 L73.37,562.79 L93.47,573.37 L116.74,575.48" fill="None" stroke="#f2b4c2" stroke-width="0.75" stroke-linejoin="round"/>
<path d="M46.92,560.67 L46.92,564.91" fill="None" stroke="#f2b4c2" stroke-width="0.75" stroke-linejoin="round"/>
<path d="M46.18,560.67 L47.66,560.67" fill="None" stroke="#f2b4c2" stroke-width="1.0" stroke-linejoin="round"/>
<path d="M46.18,564.91 L47.66,564.91" fill="None" stroke="#f2b4c2" stroke-width="1.0" stroke-linejoin="round"/>
<path d="M73.37,559.62 L73.37,567.02" fill="None" stroke="#f2b4c2" stroke-width="0.75" stroke-linejoin="round"/>
<path d="M72.63,559.62 L74.11,559.62" fill="None" stroke="#f2b4c2" stroke-width="1.0" stroke-linejoin="round"/>
<path d="M72.63,567.02 L74.11,567.02" fill="None" stroke="#f2b4c2" stroke-width="1.0" stroke-linejoin="round"/>
<path d="M93.47,571.25 L93.47,575.48" fill="None" stroke="#f2b4c2" stroke-width="0.75" stroke-linejoin="round"/>
<path d="M92.72,571.25 L94.21,571.25" fill="None" stroke="#f2b4c2" stroke-width="1.0" stroke-linejoin="round"/>
<path d="M92.72,575.48 L94.21,575.48" fill="None" stroke="#f2b4c2" stroke-width="1.0" stroke-linejoin="round"/>
<path d="M116.74,573.37 L116.74,577.60" fill="None" stroke="#f2b4c2" stroke-width="0.75" stroke-linejoin="round"/>
<path d="M116.00,573.37 L117.48,573.37" fill="None" stroke="#f2b4c2" stroke-width="1.0" stroke-linejoin="round"/>
<path d="M116.00,577.60 L117.48,577.60" fill="None" stroke="#f2b4c2" stroke-width="1.0" stroke-linejoin="round"/>
<path d="M47.35,564.91 L71.68,573.79 L94.52,573.37 L120.33,579.71" fill="None" stroke="#3aa0a8" stroke-width="0.75" stroke-linejoin="round"/>
<path d="M47.35,559.62 L47.35,571.25" fill="None" stroke="#3aa0a8" stroke-width="0.75" stroke-linejoin="round"/>
<path d="M46.61,559.62 L48.09,559.62" fill="None" stroke="#3aa0a8" stroke-width="1.0" stroke-linejoin="round"/>
<path d="M46.61,571.25 L48.09,571.25" fill="None" stroke="#3aa0a8" stroke-width="1.0" stroke-linejoin="round"/>
<path d="M71.68,568.08 L71.68,579.71" fill="None" stroke="#3aa0a8" stroke-width="0.75" stroke-linejoin="round"/>
<path d="M70.94,568.08 L72.42,568.08" fill="None" stroke="#3aa0a8" stroke-width="1.0" stroke-linejoin="round"/>
<path d="M70.94,579.71 L72.42,579.71" fill="None" stroke="#3aa0a8" stroke-width="1.0" stroke-linejoin="round"/>
<path d="M94.52,568.08 L94.52,580.77" fill="None" stroke="#3aa0a8" stroke-width="0.75" stroke-linejoin="round"/>
<path d="M93.78,568.08 L95.26,568.08" fill="None" stroke="#3aa0a8" stroke-width="1.0" stroke-linejoin="round"/>
<path d="M93.78,580.77 L95.26,580.77" fill="None" stroke="#3aa0a8" stroke-width="1.0" stroke-linejoin="round"/>
<path d="M120.33,563.85 L120.33,598.75" fill="None" stroke="#3aa0a8" stroke-width="0.75" stroke-linejoin="round"/>
<path d="M119.59,563.85 L121.07,563.85" fill="None" stroke="#3aa0a8" stroke-width="1.0" stroke-linejoin="round"/>
<path d="M119.59,598.75 L121.07,598.75" fill="None" stroke="#3aa0a8" stroke-width="1.0" stroke-linejoin="round"/>
<path d="M45.23,570.19 L68.71,563.85 L92.83,557.08 L117.37,547.98" fill="None" stroke="#4a3d98" stroke-width="0.75" stroke-linejoin="round"/>
<path d="M45.23,566.39 L45.23,577.60" fill="None" stroke="#4a3d98" stroke-width="0.75" stroke-linejoin="round"/>
<path d="M44.49,566.39 L45.97,566.39" fill="None" stroke="#4a3d98" stroke-width="1.0" stroke-linejoin="round"/>
<path d="M44.49,577.60 L45.97,577.60" fill="None" stroke="#4a3d98" stroke-width="1.0" stroke-linejoin="round"/>
<path d="M68.71,560.67 L68.71,568.08" fill="None" stroke="#4a3d98" stroke-width="0.75" stroke-linejoin="round"/>
<path d="M67.97,560.67 L69.45,560.67" fill="None" stroke="#4a3d98" stroke-width="1.0" stroke-linejoin="round"/>
<path d="M67.97,568.08 L69.45,568.08" fill="None" stroke="#4a3d98" stroke-width="1.0" stroke-linejoin="round"/>
<path d="M92.83,552.85 L92.83,562.16" fill="None" stroke="#4a3d98" stroke-width="0.75" stroke-linejoin="round"/>
<path d="M92.09,552.85 L93.57,552.85" fill="None" stroke="#4a3d98" stroke-width="1.0" stroke-linejoin="round"/>
<path d="M92.09,562.16 L93.57,562.16" fill="None" stroke="#4a3d98" stroke-width="1.0" stroke-linejoin="round"/>
<path d="M117.37,543.75 L117.37,553.27" fill="None" stroke="#4a3d98" stroke-width="0.75" stroke-linejoin="round"/>
<path d="M116.63,543.75 L118.11,543.75" fill="None" stroke="#4a3d98" stroke-width="1.0" stroke-linejoin="round"/>
<path d="M116.63,553.27 L118.11,553.27" fill="None" stroke="#4a3d98" stroke-width="1.0" stroke-linejoin="round"/>
<rect x="39.50" y="534.20" width="94.80" height="74.30" fill="none" stroke="#111" stroke-width="1.4"/>
<line x1="37.00" y1="545.00" x2="39.50" y2="545.00" stroke="#1a1a1a" stroke-width="0.9"/>
<text font-size="8.6" text-anchor="end" fill="#3a3a3a" stroke="#3a3a3a" stroke-width="0.1" transform="translate(32.30 548.10) scale(0.88 1)">1</text>
<line x1="37.00" y1="566.00" x2="39.50" y2="566.00" stroke="#1a1a1a" stroke-width="0.9"/>
<text font-size="8.6" text-anchor="end" fill="#3a3a3a" stroke="#3a3a3a" stroke-width="0.1" transform="translate(32.30 569.10) scale(0.88 1)">0</text>
<line x1="37.00" y1="587.00" x2="39.50" y2="587.00" stroke="#1a1a1a" stroke-width="0.9"/>
<text font-size="8.6" text-anchor="end" fill="#3a3a3a" stroke="#3a3a3a" stroke-width="0.1" transform="translate(32.30 590.10) scale(0.88 1)">&#8211;1</text>
<line x1="37.00" y1="608.00" x2="39.50" y2="608.00" stroke="#1a1a1a" stroke-width="0.9"/>
<text font-size="8.6" text-anchor="end" fill="#3a3a3a" stroke="#3a3a3a" stroke-width="0.1" transform="translate(32.30 611.10) scale(0.88 1)">&#8211;2</text>
<line x1="38.00" y1="534.50" x2="39.50" y2="534.50" stroke="#1a1a1a" stroke-width="0.9"/>
<line x1="38.00" y1="555.50" x2="39.50" y2="555.50" stroke="#1a1a1a" stroke-width="0.9"/>
<line x1="38.00" y1="576.50" x2="39.50" y2="576.50" stroke="#1a1a1a" stroke-width="0.9"/>
<line x1="38.00" y1="597.50" x2="39.50" y2="597.50" stroke="#1a1a1a" stroke-width="0.9"/>
<line x1="48.00" y1="608.50" x2="48.00" y2="610.90" stroke="#1a1a1a" stroke-width="0.9"/>
<text font-size="8.6" text-anchor="middle" fill="#3a3a3a" stroke="#3a3a3a" stroke-width="0.1" textLength="20.5" lengthAdjust="spacingAndGlyphs" transform="translate(48.00 621.60)">0.351</text>
<line x1="71.70" y1="608.50" x2="71.70" y2="610.90" stroke="#1a1a1a" stroke-width="0.9"/>
<text font-size="8.6" text-anchor="middle" fill="#3a3a3a" stroke="#3a3a3a" stroke-width="0.1" textLength="20.5" lengthAdjust="spacingAndGlyphs" transform="translate(71.70 621.60)">0.381</text>
<line x1="95.00" y1="608.50" x2="95.00" y2="610.90" stroke="#1a1a1a" stroke-width="0.9"/>
<text font-size="8.6" text-anchor="middle" fill="#3a3a3a" stroke="#3a3a3a" stroke-width="0.1" textLength="20.5" lengthAdjust="spacingAndGlyphs" transform="translate(95.00 621.60)">0.411</text>
<line x1="118.90" y1="608.50" x2="118.90" y2="610.90" stroke="#1a1a1a" stroke-width="0.9"/>
<text font-size="8.6" text-anchor="middle" fill="#3a3a3a" stroke="#3a3a3a" stroke-width="0.1" textLength="20.5" lengthAdjust="spacingAndGlyphs" transform="translate(118.90 621.60)">0.441</text>
<text font-size="9.89" text-anchor="middle" fill="#3a3a3a" stroke="#3a3a3a" stroke-width="0.1" textLength="42.7" lengthAdjust="spacingAndGlyphs" transform="translate(86.80 634.40)">Branch point</text>
<text font-size="9.46" text-anchor="start" fill="#ecb0be" stroke="#ecb0be" stroke-width="0.1" transform="translate(43.80 606.00) scale(0.87 1)">EMP</text>
<text font-size="9.46" text-anchor="start" fill="#352e80" stroke="#352e80" stroke-width="0.1" transform="translate(64.20 606.00) scale(0.87 1)">MyP</text>
<text font-size="9.46" text-anchor="start" fill="#3f9ea2" stroke="#3f9ea2" stroke-width="0.1" transform="translate(85.20 606.00) scale(0.87 1)">LyP</text>
<text font-size="9.24" text-anchor="middle" fill="#3a3a3a" stroke="#3a3a3a" stroke-width="0.1" textLength="86" lengthAdjust="spacingAndGlyphs" transform="translate(18.80 570.00) rotate(-90)">log(I&#954;B<tspan font-size="5" dy="-3">&#8211;</tspan><tspan dy="3">/WT branch ratio)</tspan></text>
<clipPath id="cf"><rect x="204.5" y="534.3" width="89.2" height="74.5"/></clipPath><g clip-path="url(#cf)">
<path d="M210.52,574.43 L239.71,575.48 L257.27,562.16 L284.56,554.96" fill="None" stroke="#f2b4c2" stroke-width="0.75" stroke-linejoin="round"/>
<path d="M210.52,571.25 L210.52,578.66" fill="None" stroke="#f2b4c2" stroke-width="0.75" stroke-linejoin="round"/>
<path d="M209.78,571.25 L211.26,571.25" fill="None" stroke="#f2b4c2" stroke-width="1.0" stroke-linejoin="round"/>
<path d="M209.78,578.66 L211.26,578.66" fill="None" stroke="#f2b4c2" stroke-width="1.0" stroke-linejoin="round"/>
<path d="M239.71,569.14 L239.71,581.83" fill="None" stroke="#f2b4c2" stroke-width="0.75" stroke-linejoin="round"/>
<path d="M238.97,569.14 L240.45,569.14" fill="None" stroke="#f2b4c2" stroke-width="1.0" stroke-linejoin="round"/>
<path d="M238.97,581.83 L240.45,581.83" fill="None" stroke="#f2b4c2" stroke-width="1.0" stroke-linejoin="round"/>
<path d="M257.27,556.44 L257.27,569.14" fill="None" stroke="#f2b4c2" stroke-width="0.75" stroke-linejoin="round"/>
<path d="M256.53,556.44 L258.01,556.44" fill="None" stroke="#f2b4c2" stroke-width="1.0" stroke-linejoin="round"/>
<path d="M256.53,569.14 L258.01,569.14" fill="None" stroke="#f2b4c2" stroke-width="1.0" stroke-linejoin="round"/>
<path d="M284.56,544.81 L284.56,564.91" fill="None" stroke="#f2b4c2" stroke-width="0.75" stroke-linejoin="round"/>
<path d="M283.82,544.81 L285.30,544.81" fill="None" stroke="#f2b4c2" stroke-width="1.0" stroke-linejoin="round"/>
<path d="M283.82,564.91 L285.30,564.91" fill="None" stroke="#f2b4c2" stroke-width="1.0" stroke-linejoin="round"/>
<path d="M215.39,591.35 L240.35,586.70 L258.33,596.22 L285.20,597.70" fill="None" stroke="#3aa0a8" stroke-width="0.75" stroke-linejoin="round"/>
<path d="M215.39,578.66 L215.39,610.39" fill="None" stroke="#3aa0a8" stroke-width="0.75" stroke-linejoin="round"/>
<path d="M214.65,578.66 L216.13,578.66" fill="None" stroke="#3aa0a8" stroke-width="1.0" stroke-linejoin="round"/>
<path d="M214.65,610.39 L216.13,610.39" fill="None" stroke="#3aa0a8" stroke-width="1.0" stroke-linejoin="round"/>
<path d="M240.35,574.43 L240.35,610.39" fill="None" stroke="#3aa0a8" stroke-width="0.75" stroke-linejoin="round"/>
<path d="M239.61,574.43 L241.09,574.43" fill="None" stroke="#3aa0a8" stroke-width="1.0" stroke-linejoin="round"/>
<path d="M239.61,610.39 L241.09,610.39" fill="None" stroke="#3aa0a8" stroke-width="1.0" stroke-linejoin="round"/>
<path d="M258.33,579.71 L258.33,610.39" fill="None" stroke="#3aa0a8" stroke-width="0.75" stroke-linejoin="round"/>
<path d="M257.59,579.71 L259.07,579.71" fill="None" stroke="#3aa0a8" stroke-width="1.0" stroke-linejoin="round"/>
<path d="M257.59,610.39 L259.07,610.39" fill="None" stroke="#3aa0a8" stroke-width="1.0" stroke-linejoin="round"/>
<path d="M285.20,561.73 L285.20,610.39" fill="None" stroke="#3aa0a8" stroke-width="0.75" stroke-linejoin="round"/>
<path d="M284.46,561.73 L285.94,561.73" fill="None" stroke="#3aa0a8" stroke-width="1.0" stroke-linejoin="round"/>
<path d="M284.46,610.39 L285.94,610.39" fill="None" stroke="#3aa0a8" stroke-width="1.0" stroke-linejoin="round"/>
<path d="M212.64,546.50 L236.96,544.81 L257.27,545.23 L280.97,552.21" fill="None" stroke="#4a3d98" stroke-width="0.75" stroke-linejoin="round"/>
<path d="M212.64,541.64 L212.64,551.16" fill="None" stroke="#4a3d98" stroke-width="0.75" stroke-linejoin="round"/>
<path d="M211.90,541.64 L213.38,541.64" fill="None" stroke="#4a3d98" stroke-width="1.0" stroke-linejoin="round"/>
<path d="M211.90,551.16 L213.38,551.16" fill="None" stroke="#4a3d98" stroke-width="1.0" stroke-linejoin="round"/>
<path d="M236.96,538.04 L236.96,550.52" fill="None" stroke="#4a3d98" stroke-width="0.75" stroke-linejoin="round"/>
<path d="M236.22,538.04 L237.70,538.04" fill="None" stroke="#4a3d98" stroke-width="1.0" stroke-linejoin="round"/>
<path d="M236.22,550.52 L237.70,550.52" fill="None" stroke="#4a3d98" stroke-width="1.0" stroke-linejoin="round"/>
<path d="M257.27,538.04 L257.27,552.21" fill="None" stroke="#4a3d98" stroke-width="0.75" stroke-linejoin="round"/>
<path d="M256.53,538.04 L258.01,538.04" fill="None" stroke="#4a3d98" stroke-width="1.0" stroke-linejoin="round"/>
<path d="M256.53,552.21 L258.01,552.21" fill="None" stroke="#4a3d98" stroke-width="1.0" stroke-linejoin="round"/>
<path d="M280.97,542.69 L280.97,561.31" fill="None" stroke="#4a3d98" stroke-width="0.75" stroke-linejoin="round"/>
<path d="M280.23,542.69 L281.71,542.69" fill="None" stroke="#4a3d98" stroke-width="1.0" stroke-linejoin="round"/>
<path d="M280.23,561.31 L281.71,561.31" fill="None" stroke="#4a3d98" stroke-width="1.0" stroke-linejoin="round"/>
</g>
<rect x="204.50" y="534.30" width="89.20" height="74.50" fill="none" stroke="#111" stroke-width="1.4"/>
<line x1="202.00" y1="546.80" x2="204.50" y2="546.80" stroke="#1a1a1a" stroke-width="0.9"/>
<text font-size="8.6" text-anchor="end" fill="#3a3a3a" stroke="#3a3a3a" stroke-width="0.1" transform="translate(199.30 549.90) scale(0.88 1)">10</text>
<line x1="202.00" y1="571.70" x2="204.50" y2="571.70" stroke="#1a1a1a" stroke-width="0.9"/>
<text font-size="8.6" text-anchor="end" fill="#3a3a3a" stroke="#3a3a3a" stroke-width="0.1" transform="translate(199.30 574.80) scale(0.88 1)">0</text>
<line x1="202.00" y1="596.60" x2="204.50" y2="596.60" stroke="#1a1a1a" stroke-width="0.9"/>
<text font-size="8.6" text-anchor="end" fill="#3a3a3a" stroke="#3a3a3a" stroke-width="0.1" transform="translate(199.30 599.70) scale(0.88 1)">&#8211;10</text>
<line x1="203.00" y1="559.25" x2="204.50" y2="559.25" stroke="#1a1a1a" stroke-width="0.9"/>
<line x1="203.00" y1="584.15" x2="204.50" y2="584.15" stroke="#1a1a1a" stroke-width="0.9"/>
<line x1="212.80" y1="608.80" x2="212.80" y2="611.20" stroke="#1a1a1a" stroke-width="0.9"/>
<text font-size="8.6" text-anchor="middle" fill="#3a3a3a" stroke="#3a3a3a" stroke-width="0.1" textLength="20.5" lengthAdjust="spacingAndGlyphs" transform="translate(212.80 621.60)">0.351</text>
<line x1="236.50" y1="608.80" x2="236.50" y2="611.20" stroke="#1a1a1a" stroke-width="0.9"/>
<text font-size="8.6" text-anchor="middle" fill="#3a3a3a" stroke="#3a3a3a" stroke-width="0.1" textLength="20.5" lengthAdjust="spacingAndGlyphs" transform="translate(236.50 621.60)">0.381</text>
<line x1="259.80" y1="608.80" x2="259.80" y2="611.20" stroke="#1a1a1a" stroke-width="0.9"/>
<text font-size="8.6" text-anchor="middle" fill="#3a3a3a" stroke="#3a3a3a" stroke-width="0.1" textLength="20.5" lengthAdjust="spacingAndGlyphs" transform="translate(259.80 621.60)">0.411</text>
<line x1="283.00" y1="608.80" x2="283.00" y2="611.20" stroke="#1a1a1a" stroke-width="0.9"/>
<text font-size="8.6" text-anchor="middle" fill="#3a3a3a" stroke="#3a3a3a" stroke-width="0.1" textLength="20.5" lengthAdjust="spacingAndGlyphs" transform="translate(283.00 621.60)">0.441</text>
<text font-size="9.89" text-anchor="middle" fill="#3a3a3a" stroke="#3a3a3a" stroke-width="0.1" textLength="42.7" lengthAdjust="spacingAndGlyphs" transform="translate(251.80 634.40)">Branch point</text>
<line x1="150.90" y1="552.70" x2="150.90" y2="591.60" stroke="#333" stroke-width="0.8"/>
<text font-size="9.02" text-anchor="middle" fill="#3a3a3a" stroke="#3a3a3a" stroke-width="0.1" textLength="42.5" lengthAdjust="spacingAndGlyphs" transform="translate(160.60 571.00) rotate(-90)">I&#954;B<tspan font-size="5" dy="-3">&#8211;</tspan><tspan dy="3">-WT flux</tspan></text>
<line x1="165.10" y1="561.70" x2="165.10" y2="585.20" stroke="#333" stroke-width="0.8"/>
<text font-size="9.02" text-anchor="start" fill="#3a3a3a" stroke="#3a3a3a" stroke-width="0.1" textLength="13" lengthAdjust="spacingAndGlyphs" transform="translate(173.80 586.00) rotate(-90)">func.</text>
<text font-size="7.0" text-anchor="start" fill="#3a3a3a" stroke="#3a3a3a" stroke-width="0.1" textLength="12.5" lengthAdjust="spacingAndGlyphs" transform="translate(170.30 570.00) rotate(-90)">0.5</text>
<text font-size="8.25" text-anchor="start" fill="#3a3a3a" stroke="#3a3a3a" stroke-width="0.1" textLength="18.5" lengthAdjust="spacingAndGlyphs" transform="translate(178.80 570.00) rotate(-90)">br.pt</text>
<rect x="0.5" y="0.5" width="519" height="643" fill="none" stroke="#505050" stroke-width="1.2"/>
</svg></body></html>
